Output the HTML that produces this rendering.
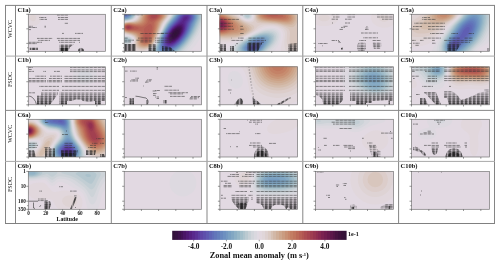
<!DOCTYPE html>
<html><head><meta charset="utf-8"><style>
html,body{margin:0;padding:0;background:#fff;width:500px;height:266px;overflow:hidden;position:relative}
text{font-family:"Liberation Serif",serif;fill:#111}
.lb{font-size:6.5px;font-weight:bold}
.rl{font-size:6px}
.tk{font-size:5.2px;font-weight:bold}
.ax{font-size:5.8px;font-weight:bold}
.ct{font-size:7.3px;font-weight:bold}
.ce{font-size:6.1px;font-weight:bold}
.cl{font-size:8.4px;font-weight:bold}
.st{stroke:#333;stroke-width:0.85;stroke-dasharray:2.3 1.9;stroke-opacity:0.75}
</style></head><body>
<svg width="500" height="266" viewBox="0 0 500 266" style="position:absolute;left:0;top:0">
<defs>
<linearGradient id="gd0" gradientUnits="userSpaceOnUse" x1="0" x2="0" y1="38.3" y2="51.3"><stop offset="0" stop-color="#000" stop-opacity="0"/><stop offset="1" stop-color="#000" stop-opacity="0.2"/></linearGradient>
<linearGradient id="gw0" gradientUnits="userSpaceOnUse" x1="0" x2="0" y1="38.3" y2="51.3"><stop offset="0" stop-color="#fff" stop-opacity="0"/><stop offset="1" stop-color="#fff" stop-opacity="1"/></linearGradient>
<mask id="mg0" maskUnits="userSpaceOnUse" x="0" y="0" width="500" height="266"><rect x="0" y="38.3" width="500" height="13.5" fill="url(#gw0)"/></mask>
<linearGradient id="gd1" gradientUnits="userSpaceOnUse" x1="0" x2="0" y1="91.8" y2="104.8"><stop offset="0" stop-color="#000" stop-opacity="0"/><stop offset="1" stop-color="#000" stop-opacity="0.2"/></linearGradient>
<linearGradient id="gw1" gradientUnits="userSpaceOnUse" x1="0" x2="0" y1="91.8" y2="104.8"><stop offset="0" stop-color="#fff" stop-opacity="0"/><stop offset="1" stop-color="#fff" stop-opacity="1"/></linearGradient>
<mask id="mg1" maskUnits="userSpaceOnUse" x="0" y="0" width="500" height="266"><rect x="0" y="91.8" width="500" height="13.5" fill="url(#gw1)"/></mask>
<linearGradient id="gd2" gradientUnits="userSpaceOnUse" x1="0" x2="0" y1="144.0" y2="157.0"><stop offset="0" stop-color="#000" stop-opacity="0"/><stop offset="1" stop-color="#000" stop-opacity="0.2"/></linearGradient>
<linearGradient id="gw2" gradientUnits="userSpaceOnUse" x1="0" x2="0" y1="144.0" y2="157.0"><stop offset="0" stop-color="#fff" stop-opacity="0"/><stop offset="1" stop-color="#fff" stop-opacity="1"/></linearGradient>
<mask id="mg2" maskUnits="userSpaceOnUse" x="0" y="0" width="500" height="266"><rect x="0" y="144.0" width="500" height="13.5" fill="url(#gw2)"/></mask>
<linearGradient id="gd3" gradientUnits="userSpaceOnUse" x1="0" x2="0" y1="196.3" y2="209.3"><stop offset="0" stop-color="#000" stop-opacity="0"/><stop offset="1" stop-color="#000" stop-opacity="0.2"/></linearGradient>
<linearGradient id="gw3" gradientUnits="userSpaceOnUse" x1="0" x2="0" y1="196.3" y2="209.3"><stop offset="0" stop-color="#fff" stop-opacity="0"/><stop offset="1" stop-color="#fff" stop-opacity="1"/></linearGradient>
<mask id="mg3" maskUnits="userSpaceOnUse" x="0" y="0" width="500" height="266"><rect x="0" y="196.3" width="500" height="13.5" fill="url(#gw3)"/></mask>
<pattern id="sp0" x="28.3" y="0" width="4.1" height="10" patternUnits="userSpaceOnUse"><rect width="3.0" height="10" fill="#333" fill-opacity="0.55"/><rect x="3.0" width="1.1" height="10" fill="#333" fill-opacity="0.2"/></pattern>
<pattern id="hp0" x="28.3" y="0" width="4.1" height="2.4" patternUnits="userSpaceOnUse"><rect width="3.0" height="1.1" fill="#2a2a2a" fill-opacity="0.48"/><rect x="3.0" width="1.1" height="1.1" fill="#2a2a2a" fill-opacity="0.15"/><rect y="1.1" width="2.4" height="1.3" fill="#2a2a2a" fill-opacity="0.14"/><rect x="2.4" y="1.1" width="1.7" height="1.3" fill="#2a2a2a" fill-opacity="0.04"/></pattern>
<pattern id="hc0" x="28.3" y="0" width="4.1" height="2.4" patternUnits="userSpaceOnUse"><rect width="2.4" height="2.4" fill="#111" fill-opacity="0.6"/></pattern>
<pattern id="hd0" x="28.3" y="0" width="4.1" height="2.4" patternUnits="userSpaceOnUse"><rect width="2.4" height="2.4" fill="#1a1a1a" fill-opacity="0.78"/><rect x="2.4" width="1.7" height="2.4" fill="#1a1a1a" fill-opacity="0.3"/></pattern>
<pattern id="sp1" x="124.2" y="0" width="4.1" height="10" patternUnits="userSpaceOnUse"><rect width="3.0" height="10" fill="#333" fill-opacity="0.55"/><rect x="3.0" width="1.1" height="10" fill="#333" fill-opacity="0.2"/></pattern>
<pattern id="hp1" x="124.2" y="0" width="4.1" height="2.4" patternUnits="userSpaceOnUse"><rect width="3.0" height="1.1" fill="#2a2a2a" fill-opacity="0.48"/><rect x="3.0" width="1.1" height="1.1" fill="#2a2a2a" fill-opacity="0.15"/><rect y="1.1" width="2.4" height="1.3" fill="#2a2a2a" fill-opacity="0.14"/><rect x="2.4" y="1.1" width="1.7" height="1.3" fill="#2a2a2a" fill-opacity="0.04"/></pattern>
<pattern id="hc1" x="124.2" y="0" width="4.1" height="2.4" patternUnits="userSpaceOnUse"><rect width="2.4" height="2.4" fill="#111" fill-opacity="0.6"/></pattern>
<pattern id="hd1" x="124.2" y="0" width="4.1" height="2.4" patternUnits="userSpaceOnUse"><rect width="2.4" height="2.4" fill="#1a1a1a" fill-opacity="0.78"/><rect x="2.4" width="1.7" height="2.4" fill="#1a1a1a" fill-opacity="0.3"/></pattern>
<pattern id="sp2" x="219.9" y="0" width="4.1" height="10" patternUnits="userSpaceOnUse"><rect width="3.0" height="10" fill="#333" fill-opacity="0.55"/><rect x="3.0" width="1.1" height="10" fill="#333" fill-opacity="0.2"/></pattern>
<pattern id="hp2" x="219.9" y="0" width="4.1" height="2.4" patternUnits="userSpaceOnUse"><rect width="3.0" height="1.1" fill="#2a2a2a" fill-opacity="0.48"/><rect x="3.0" width="1.1" height="1.1" fill="#2a2a2a" fill-opacity="0.15"/><rect y="1.1" width="2.4" height="1.3" fill="#2a2a2a" fill-opacity="0.14"/><rect x="2.4" y="1.1" width="1.7" height="1.3" fill="#2a2a2a" fill-opacity="0.04"/></pattern>
<pattern id="hc2" x="219.9" y="0" width="4.1" height="2.4" patternUnits="userSpaceOnUse"><rect width="2.4" height="2.4" fill="#111" fill-opacity="0.6"/></pattern>
<pattern id="hd2" x="219.9" y="0" width="4.1" height="2.4" patternUnits="userSpaceOnUse"><rect width="2.4" height="2.4" fill="#1a1a1a" fill-opacity="0.78"/><rect x="2.4" width="1.7" height="2.4" fill="#1a1a1a" fill-opacity="0.3"/></pattern>
<pattern id="sp3" x="315.5" y="0" width="4.1" height="10" patternUnits="userSpaceOnUse"><rect width="3.0" height="10" fill="#333" fill-opacity="0.55"/><rect x="3.0" width="1.1" height="10" fill="#333" fill-opacity="0.2"/></pattern>
<pattern id="hp3" x="315.5" y="0" width="4.1" height="2.4" patternUnits="userSpaceOnUse"><rect width="3.0" height="1.1" fill="#2a2a2a" fill-opacity="0.48"/><rect x="3.0" width="1.1" height="1.1" fill="#2a2a2a" fill-opacity="0.15"/><rect y="1.1" width="2.4" height="1.3" fill="#2a2a2a" fill-opacity="0.14"/><rect x="2.4" y="1.1" width="1.7" height="1.3" fill="#2a2a2a" fill-opacity="0.04"/></pattern>
<pattern id="hc3" x="315.5" y="0" width="4.1" height="2.4" patternUnits="userSpaceOnUse"><rect width="2.4" height="2.4" fill="#111" fill-opacity="0.6"/></pattern>
<pattern id="hd3" x="315.5" y="0" width="4.1" height="2.4" patternUnits="userSpaceOnUse"><rect width="2.4" height="2.4" fill="#1a1a1a" fill-opacity="0.78"/><rect x="2.4" width="1.7" height="2.4" fill="#1a1a1a" fill-opacity="0.3"/></pattern>
<pattern id="sp4" x="411.5" y="0" width="4.1" height="10" patternUnits="userSpaceOnUse"><rect width="3.0" height="10" fill="#333" fill-opacity="0.55"/><rect x="3.0" width="1.1" height="10" fill="#333" fill-opacity="0.2"/></pattern>
<pattern id="hp4" x="411.5" y="0" width="4.1" height="2.4" patternUnits="userSpaceOnUse"><rect width="3.0" height="1.1" fill="#2a2a2a" fill-opacity="0.48"/><rect x="3.0" width="1.1" height="1.1" fill="#2a2a2a" fill-opacity="0.15"/><rect y="1.1" width="2.4" height="1.3" fill="#2a2a2a" fill-opacity="0.14"/><rect x="2.4" y="1.1" width="1.7" height="1.3" fill="#2a2a2a" fill-opacity="0.04"/></pattern>
<pattern id="hc4" x="411.5" y="0" width="4.1" height="2.4" patternUnits="userSpaceOnUse"><rect width="2.4" height="2.4" fill="#111" fill-opacity="0.6"/></pattern>
<pattern id="hd4" x="411.5" y="0" width="4.1" height="2.4" patternUnits="userSpaceOnUse"><rect width="2.4" height="2.4" fill="#1a1a1a" fill-opacity="0.78"/><rect x="2.4" width="1.7" height="2.4" fill="#1a1a1a" fill-opacity="0.3"/></pattern>
</defs>
<clipPath id="c00"><rect x="28.3" y="14.3" width="77.10" height="37.00"/></clipPath>
<rect x="28.3" y="14.3" width="77.10" height="37.00" fill="#e2d9e2"/>
<g clip-path="url(#c00)">
<path d="M27 12.5l.2-.2 11.6 0 1.5 2.3 .8 3-.4 3-.7 1.4-1.1 1.6-2.1 1.6-3 .9-3-.3-1.5-.6-1.5-1-1.5-1.6 0-9.2z" fill="#e1d7dc" fill-rule="evenodd"/>
<path d="M31.6 15.1l.7-.3 1.5 0 1.5 .9 .7 1.1 .1 2.2-.8 1.3-.7 .6-.8 .3-1.5 0-1.3-.6-.9-1.2-.4-1.1 .3-1.5 .8-1.2z" fill="#ded3d4" fill-rule="evenodd"/>
<polygon points="59.6,44.4 74.0,44.4 70.0,47.0 68.0,51.3 59.6,51.3" fill="url(#hp0)"/>
<polygon points="59.6,44.4 74.0,44.4 70.0,47.0 68.0,51.3 59.6,51.3" fill="url(#gd0)"/>
<polygon points="59.6,44.4 74.0,44.4 70.0,47.0 68.0,51.3 59.6,51.3" fill="url(#hc0)" mask="url(#mg0)"/>
<polygon points="29.8,47.8 37.8,47.8 37.8,50.0 29.8,50.0" fill="url(#hd0)"/>
<polygon points="78.0,51.3 78.5,49.0 81.0,47.8 83.5,49.0 84.2,51.3" fill="url(#hd0)"/>
<polygon points="60.0,48.0 68.0,48.0 68.0,51.3 60.0,51.3" fill="url(#hd0)"/>
<rect x="57.0" y="14.5" width="11.0" height="1" fill="url(#sp0)"/>
<rect x="39.0" y="17.0" width="7.2" height="1" fill="url(#sp0)"/>
<rect x="58.0" y="17.0" width="10.0" height="1" fill="url(#sp0)"/>
<rect x="39.5" y="18.9" width="7.5" height="1" fill="url(#sp0)"/>
<rect x="58.0" y="18.9" width="10.0" height="1" fill="url(#sp0)"/>
<rect x="64.5" y="22.8" width="3.5" height="1" fill="url(#sp0)"/>
<rect x="28.5" y="25.8" width="4.5" height="1" fill="url(#sp0)"/>
<rect x="44.0" y="25.8" width="2.0" height="1" fill="url(#sp0)"/>
<rect x="28.5" y="27.0" width="8.5" height="1" fill="url(#sp0)"/>
<rect x="44.5" y="27.0" width="1.0" height="1" fill="url(#sp0)"/>
<rect x="28.5" y="29.1" width="2.5" height="1" fill="url(#sp0)"/>
<rect x="62.0" y="32.9" width="2.0" height="1" fill="url(#sp0)"/>
<rect x="75.0" y="32.9" width="8.0" height="1" fill="url(#sp0)"/>
<rect x="37.0" y="37.9" width="15.5" height="1" fill="url(#sp0)"/>
<rect x="56.7" y="37.9" width="23.3" height="1" fill="url(#sp0)"/>
<rect x="38.2" y="39.9" width="11.8" height="1" fill="url(#sp0)"/>
<rect x="58.0" y="39.9" width="22.0" height="1" fill="url(#sp0)"/>
<rect x="28.5" y="41.8" width="13.5" height="1" fill="url(#sp0)"/>
<rect x="59.0" y="41.8" width="16.0" height="1" fill="url(#sp0)"/>
<rect x="79.0" y="41.8" width="1.0" height="1" fill="url(#sp0)"/>
<rect x="28.5" y="43.1" width="8.5" height="1" fill="url(#sp0)"/>
</g>
<rect x="28.3" y="14.3" width="77.10" height="37.00" fill="none" stroke="#777" stroke-width="0.7"/>
<line x1="26.30" y1="14.30" x2="28.3" y2="14.30" stroke="#444" stroke-width="0.55"/>
<line x1="26.30" y1="28.84" x2="28.3" y2="28.84" stroke="#444" stroke-width="0.55"/>
<line x1="26.30" y1="43.38" x2="28.3" y2="43.38" stroke="#444" stroke-width="0.55"/>
<line x1="27.10" y1="47.75" x2="28.3" y2="47.75" stroke="#444" stroke-width="0.55"/>
<line x1="26.30" y1="51.30" x2="28.3" y2="51.30" stroke="#444" stroke-width="0.55"/>
<line x1="28.30" y1="51.30" x2="28.30" y2="53.00" stroke="#444" stroke-width="0.55"/>
<line x1="45.43" y1="51.30" x2="45.43" y2="53.00" stroke="#444" stroke-width="0.55"/>
<line x1="62.57" y1="51.30" x2="62.57" y2="53.00" stroke="#444" stroke-width="0.55"/>
<line x1="79.70" y1="51.30" x2="79.70" y2="53.00" stroke="#444" stroke-width="0.55"/>
<line x1="96.83" y1="51.30" x2="96.83" y2="53.00" stroke="#444" stroke-width="0.55"/>
<text x="17.4" y="11.70" class="lb">C1a)</text>
<clipPath id="c01"><rect x="124.2" y="14.3" width="77.40" height="37.00"/></clipPath>
<rect x="124.2" y="14.3" width="77.40" height="37.00" fill="#e2d9e2"/>
<g clip-path="url(#c01)">
<path d="M138.7 12.3l31.8 0-.1 .7-.6 2.3-.8 1.5-4.1 5.2-1.5 2.3-4.7 10.5-2.9 7.5-1.7 3-1.9 2.3-3.8 3-4 2.2-11.8 0-3-2.2-.9-1.6-.1-.7 .8-1.5 2.6-2.4 1.4-1.9 .7-1.7 0-1.5-.8-1.5-2.1-1.5-2.2-.8-6.8-1.3 0-11.4 3.8-1.1 6-.9 2.6-1 1.1-.9 1.1-1.3z" fill="#e1d7dc" fill-rule="evenodd"/>
<path d="M139.4 12.3l30.1 0 0 1.5-.7 2.2-1.5 2.3-3 3.7-1.4 2.3-7.2 17.3-2 3.5-2.3 2.5-3 2.1-3 1.4-3.7 .8-3-.2-2.3-.7-2.2-1.2-1.6-1.5-.3-.7 0-1.6 1.9-3.5 .5-1.7-.3-2.2-1.1-1.6-2.9-1.6-6-1.4-2.2-.8 0-10 3.8-1.2 6.7-1 2.8-1.2 2-2.2z" fill="#ded3d4" fill-rule="evenodd"/>
<path d="M140.2 12.4l28.4-.1 .1 .7-.1 1.6-.9 2.2-4.1 5.2-1.3 2.3-6.7 16.5-1.9 3.5-2.3 2.6-2.2 1.6-3 1.4-3 .6-2.2 0-2.3-.4-2.3-1.1-1.8-1.4-.4-.8-.2-1.5 1.2-3.7 .1-1.6-.7-2.2-1.2-1.3-2.2-1.3-6.7-1.7-2.3-1.1 0-8.8 3-1.2 7.5-1 3-1.1 1.5-1.2 .8-1.1z" fill="#dccdca" fill-rule="evenodd"/>
<path d="M141 12.7l.2-.4 26.4 0 .3 1.5-.2 1.5-.6 1.5-4.1 5.2-1.3 2.3-6.5 16.4-1.7 3.1-2.1 2.4-2.2 1.7-2.2 1-3 .7-2.3-.1-2.3-.4-2.2-1.1-1.3-1.2-.5-.8-.2-1.4 .7-3.8-.1-1.5-.5-1.5-1.2-1.5-2.6-1.5-6.3-1.6-3-1.6 0-7.6 3-1.3 8.2-1 3-1.2 1-.7 1.2-1.5z" fill="#d8c6bd" fill-rule="evenodd"/>
<path d="M141.7 12.9l.4-.6 24.5 0 .6 1.5-.1 1.5-.6 1.5-4.1 5.2-1.2 2.1-6.2 15.9-1.5 3-2.1 2.6-2.2 1.6-2.2 1-3 .6-2.3-.2-2.3-.6-1.4-.8-1.2-1.2-.6-1.4 .3-3.8-.3-2.2-.7-1.6-1.3-1.3-3-1.5-6-1.5-1.5-.7-1.5-1.2 0-6.3 .2-.2 1.3-.8 2.3-.8 7.5-.7 2.2-.5 1.5-.7 1.8-1.8z" fill="#d4bdad" fill-rule="evenodd"/>
<path d="M143.2 12.3l22.5 0 .4 .7 .4 1.6-.3 1.4-.9 1.6-3 3.7-1.5 2.3-6.2 16.4-1.6 3-1.6 1.9-2.2 1.7-2.2 1-3 .4-2.3-.2-1.5-.5-1.5-.8-1.1-1.2-.6-1.5-.1-5.2-.6-1.6-1.3-1.4-3-1.7-6.8-1.6-1.5-.8-1.5-1.4 0-5 .8-.8 1.4-.8 2.3-.7 7.5-.5 3.3-1 1.2-.8 1.2-1.5 1.7-4.4z" fill="#d1b4a0" fill-rule="evenodd"/>
<path d="M144 12.5l20.7-.2 .6 .7 .4 1.6-.2 1.4-.8 1.6-3.1 3.7-1.4 2.3-5.8 15.7-1.5 3-1.5 1.9-2.2 1.8-2.2 .9-3 .4-2.3-.3-1.5-.6-1.5-1.1-.5-.7-.4-1.6-.2-3.7-.3-1.5-.8-1.5-.8-.9-3-1.7-7.5-1.9-1.5-.8-1.5-1.8 0-3.5 .8-.9 1.4-1 3-.9 7.6-.3 2.2-.6 2.2-1.2 1.4-1.8 1.6-4.4z" fill="#ceab92" fill-rule="evenodd"/>
<path d="M144.7 12.7l.4-.4 18.6 0 .7 .7 .6 1.6-.2 1.4-.6 1.3-3.4 4-1.3 2.3-2.2 6.7-3.6 9.5-1.3 2.5-1.7 2-1.5 1.1-2.2 .9-2.3 .4-3-.5-1.5-.7-1-.9-.7-1.6-.3-3.7-.5-2.3-1.6-2.2-3.4-1.6-5.2-1-2.3-.8-2.2-1.7-.8-2.1 .1-1 .8-1.6 .9-.7 1.7-.7 2.5-.5 6.8 0 2.2-.5 2.2-.9 1.9-1.9 1.5-4.5 .9-1.5z" fill="#cca186" fill-rule="evenodd"/>
<path d="M145.4 12.9l.8-.6 16.5 0 1.3 1.5 .3 1.5-.9 2.3-3.3 3.7-1.3 2.3-2.1 6.7-3.3 9-1.2 2.4-1.5 1.9-1.5 1.2-2.2 .9-2.3 .3-3-.6-2-1.6-.5-1.5-.7-5.3-1.4-2.2-1.4-1-2.3-.9-6-1.1-2.2-.7-1.9-1.5-.4-.8-.3-1.5 .4-1.5 .6-.8 2.4-1.3 2.2-.3 7.5 0 3-.6 1.7-.8 1.5-1.4 1.7-5.3z" fill="#c99679" fill-rule="evenodd"/>
<path d="M147 12.5l.4-.2 14.2 0 1.6 1.5 .4 1.5-.9 2.3-3.4 3.7-1 1.5-2.2 7.5-3.3 9-1.1 2.3-1.2 1.4-2.1 1.5-1.4 .6-2.3 .3-1.5-.2-1.5-.6-1.4-1.6-.5-1.4-.8-5.3-.8-1.5-.8-.8-1.7-.9-2.3-.8-5.2-.7-2.2-.6-2.2-1.4-.5-.8-.3-1.5 .4-1.5 .6-.8 1.2-.7 1.5-.5 2.3-.2 6.7 .3 3-.4 2.3-.8 .9-.7 1.1-1.4 1.1-4.6 .7-1.4z" fill="#c78c6f" fill-rule="evenodd"/>
<path d="M147.7 12.8l.9-.5 11.8 0 1.9 1.5 .5 1.5-.9 2.3-3.4 3.7-1 1.5-2 7.5-4.1 10.6-1.4 1.9-1.6 1.1-1.7 .7-2 .1-2.3-.6-1.4-1.5-.6-1.8-.5-4.5-.6-1.5-.6-.8-1.5-1-2.2-.8-6.8-.9-2.2-.6-1.7-1.1-.6-.9-.4-1.4 .4-1.3 .7-.9 2.3-1.1 2.3-.2 7.4 .5 3-.3 2.3-.7 1.5-1.2 .6-.8 1.4-6 1.1-1.5z" fill="#c48267" fill-rule="evenodd"/>
<path d="M148.4 13l1.7-.7 8.9 0 2.4 1.5 .5 .8 .1 1.4-.8 1.6-3.7 3.7-1 1.5-1.5 6.8-3.2 9-1 2.2-1.2 1.5-1.2 .9-1.4 .6-2.3 .2-1.5-.5-1.5-1.3-.6-2.2-.4-4.4-.6-1.6-.7-.7-1.4-.8-3-.9-8.3-1-1.5-.7-.8-.7-.7-1.9 .5-1.5 .8-.8 2.4-.8 2.3-.1 6.7 .8 3.8-.2 2.2-.7 1.7-1.2 .9-1.5 .5-4.5 .6-1.5 1.2-1.5z" fill="#c17960" fill-rule="evenodd"/>
<path d="M150 12.9l2.1-.6 5.3 .1 1.9 .6 1.2 .8 .5 .8 .2 1.4-.8 1.6-4 3.7-1 1.5-1.2 6.8-3.1 9-1.1 2.2-.8 .9-1.5 1-1.5 .5-1.5 0-1.5-.7-.8-.9-.5-2.3-.2-4.5-.7-1.5-.7-.7-1.6-.8-3-.7-6.7-.4-2.3-.4-1.4-.7-.7-.8-.5-1.5 .4-1.1 .7-.9 2.2-.9 2.3 0 4.5 .9 4.5 .3 3-.2 1.5-.5 1.9-1.3 1-1.6 .3-1.4 0-3.8 .5-1.5 1.4-1.5z" fill="#be6f5b" fill-rule="evenodd"/>
<path d="M151.4 13l3-.4 3.4 .4 1.5 .8 .8 .8 .2 1.4-.8 1.6-4.4 3.7-1.2 1.5-.3 1.5-.1 3.7-.5 2.4-3.1 8.9-1 1.5-1.2 1-2.3 .5-1.4-.6-.8-.9-.3-1.5 0-5.3-.5-1.4-1.4-1.4-1.6-.5-4.4-.4-6.8 0-2.2-.7-.9-.8-.5-.8 0-1.4 1.4-1.4 1.4-.5 2.3 0 5.3 1.2 6 .9 1.4-.1 1.6-.6 2.3-1.8 1.5-2.3 0-1.4-.5-3 .6-2.3 1.6-1.5z" fill="#b96456" fill-rule="evenodd"/>
<path d="M151.4 13.6l3-.5 3 .5 1.6 1 .4 .7 0 .7-.9 1.6-2.5 1.9-3.8 2.1-.8 .2-.7-.2-.7-.7-1.2-1.9-.5-2.2 .9-1.8zM150 24l.7 .1 .7 .7 .4 1 .4 1.5-.3 2.3-3.2 9.7-1.6 1.5-1.7 .1-.7-.5-.5-1.1 .5-5.3-.8-4.4 .2-.8 1.4-1.5 2.9-2.4zM127.4 25l2.4 0 7.4 2.3 1.4 .7 0 .8-2.2 .6-6.7 .6-3-.4-1.1-.8-.7-1.5 .2-.7 .5-.8z" fill="#b55b53" fill-rule="evenodd"/>
<path d="M153.7 13.7l2.3 .1 1.4 .6 .9 .9 0 .7-1 1.6-2.1 1.3-2.2 .7-1.6-.1-1.4-1.2-.5-1.5 .1-.8 1.4-1.4zM126.7 25.6l2.3-.3 2.1 .5 2.6 1.5 .4 .7-.9 .8-2.8 .7-3-.1-1.4-.8-.6-1.3 .2-.7zM148.4 29.3l.6 .3-.6 1-.2-.3z" fill="#af5251" fill-rule="evenodd"/>
<path d="M153.7 14.5l2.3 .3 .8 .5 .2 .7-.4 .8-1.4 1-1.5 .4-1.5-.1-.9-.5-.3-.8 .1-.8 .6-.7zM127.4 25.7l2.3 .1 1.5 .7 .9 .8 0 .7-1 .8-1.4 .3-1.5 .1-1.2-.4-.9-.8-.2-.7 .2-.7z" fill="#a94950" fill-rule="evenodd"/>
<path d="M127.5 26.2l1.5-.1 1.2 .5 .7 .7-.2 .7-1.7 .7-1.6-.2-.6-.5-.3-.7 .3-.7z" fill="#a24050" fill-rule="evenodd"/>
<path d="M127.4 27.3l.8-.5 1.3 .5-.5 .6-.8 .1z" fill="#9b3850" fill-rule="evenodd"/>
<path d="M123 12.3l14.8 0-1.3 4.5-1 1.5-1.3 1.1-2.6 1.2-6.4 1-3 .8 0-10.1zM171.7 12.3l31.5 0 0 21.2-1.2 2.1-6 9-6.9 8.2-42 0 5.1-4.5 2.8-3.7 8.6-19.6 1.9-3 4.1-5.2 1.1-2.2 .7-2.3zM123 35.2l6 .8 3 1.3 1.1 1.3 .5 1.4-.4 1.6-.5 .9-1.5 1.5-3 1.5-3 .6-3-.1 0-10.9z" fill="#ddd9e0" fill-rule="evenodd"/>
<path d="M123 12.3l14 0-.9 3.7-.8 1.6-1.4 1.4-1.3 .8-2.2 .7-8.2 1.5 0-9.7zM172.4 12.3l30.8 0 0 12.9-4.7 9.6-6.1 9-3.7 4.5-4.3 4.5-35.5 0 4.1-4.5 2.2-3.2 1.5-3 3.2-8.1 3.8-8.2 1.8-3 4.7-6zM123 36l4.5 .2 2.2 .5 1.5 .8 1.2 1.1 .4 .7 0 1.5-.3 .8-.5 .8-1.6 1.2-2.2 .9-3 .3-3-.4 0-8.4z" fill="#d6d7dd" fill-rule="evenodd"/>
<path d="M123 12.3l13.3 0-.8 3.7-.8 1.6-1.7 1.5-2.6 1-8.2 1.5 0-9.3zM173.2 12.4l30-.1 0 7.7-3.4 8-3 6-2.8 4.6-3.8 5.2-3.9 4.5-4.5 4.5-31.5 0 4.1-5.6 1.6-2.6 4.3-10.6 4.3-9 1.8-2.7 4.4-5.5zM123 36.7l3.7-.1 2.3 .4 1.4 .6 1.2 1 .5 .7 .1 .7-.2 1.2-1.6 1.6-2.2 .9-3 .2-3-.6 0-6.4z" fill="#cdd3d8" fill-rule="evenodd"/>
<path d="M123 12.3l12.6 0-.1 1.5-1 3-1.1 1.3-1.2 .9-3.2 1.1-6.8 1.1 0-8.9zM174 12.6l.1-.3 28 0 .5 3-.5 3.7-3.8 9-3 6-2.8 4.6-3.9 5.2-4.2 4.7-4.5 4.3-28.3 0 4.9-8.2 3.8-9.8 4.4-9 1.9-3 4.3-5.3zM123 37.6l3-.5 3.6 .7 1.1 .8 .6 .7 .1 1.5-1.5 1.5-1.7 .7-3 .1-2.2-.5-.8-.4 0-4.3z" fill="#c2ced4" fill-rule="evenodd"/>
<path d="M123 12.3l11.9 0 0 1.5-.3 1.5-.7 1.5-1.2 1.3-1.4 .9-3.1 1-6 .8 0-8.5zM174.7 12.7l.3-.4 25.7 0 .7 3-.5 3.7-4.2 9.8-2.2 4.5-3.8 6-3.4 4.5-4.3 4.8-4.7 4.2-25.5 0 3.9-7.8 4-10.2 4.1-8.2 1.8-3 4.9-6zM125.2 37.8l2.2 0 2.3 .8 .7 .7 .2 .7-.1 .8-.8 .8-2.2 .8-2.3 0-2.2-.8-.7-.8-.1-1.5 .8-.7z" fill="#b5c7cf" fill-rule="evenodd"/>
<path d="M123 12.3l11.3 0-.1 2.3-.5 1.4-1 1.4-2.3 1.6-3 .8-5.2 .6 0-8.1zM175.4 12.8l.5-.5 23.5 0 .9 3-.2 3-1.1 3-5.1 11.3-3.7 6-4 5.2-4.8 5-4.5 4-23 0 .7-2.2 3.1-6.8 3.1-8.2 3.6-7.5 2.8-4.5 4.3-5.3zM125.2 38.5l2.2 0 1.6 .6 .6 .9-.3 .8-1.8 .9-1.5 0-1.5-.5-.6-.4-.4-.8 .3-.7z" fill="#a9c1cb" fill-rule="evenodd"/>
<path d="M123 12.3l10.6 0 0 2.3-1 2.2-2.2 1.7-3.7 1.1-4.5 .4 0-7.7zM176.2 12.8l.5-.5 21.6 0 1.1 3-.2 3-6.2 14.3-3.7 6-4.1 5.2-4.5 4.7-5.2 4.3-20.5 0 .7-3 4.8-12.8 3.7-7.7 3-5zM126 39.9l.7-.3 1 .4-1 .5-.7-.3z" fill="#9dbac8" fill-rule="evenodd"/>
<path d="M123 12.3l10 0 0 2.3-1.1 2.2-1.9 1.5-3.3 1-4.5 .3 0-7.3zM177 12.8l.5-.5 19.8 0 .9 1.5 .4 1.5-.2 3-6.2 14.3-3.7 6-4.2 5.2-5.1 5.2-5 3.8-18.2 0 .7-3.8 3.6-10.4 3.8-8.3 3.6-6z" fill="#92b3c6" fill-rule="evenodd"/>
<path d="M123 12.3l9.4 0 .1 2.3-1.2 2.2-2.3 1.5-3 .8-3.8 .1 0-6.9zM177.7 12.8l.7-.5 18 0 .5 .7 .9 2.3-.1 3-6.3 14.3-3.7 6-4.2 5.2-5.1 5-5.5 4-15.7 0-.1-2.2 .7-3 3.2-9.8 2.7-6 4.3-7.2z" fill="#87abc4" fill-rule="evenodd"/>
<path d="M123 12.3l8.7 0 .2 2.3-.7 1.4-.6 .8-1.6 1.1-3 .8-3.8 0 0-6.4zM178.4 12.9l.8-.6 16.2 0 .7 .7 1 2.3-.1 3-5.9 13.5-3 5.2-4.4 5.8-4.5 4.5-5.2 4.1-2.4 1.4-13.2 0-.5-2.2 .6-3.8 2.6-8.2 2.6-6 4.4-7.6 8.6-10.4z" fill="#7ea4c3" fill-rule="evenodd"/>
<path d="M123 12.3l8.1 0 .2 2.3-.9 1.6-2.2 1.6-3 .6-3-.1 0-6zM179.2 12.9l.9-.6 14.4 0 1.3 1.5 .8 2.2-.3 2.3-5.5 12.7-2.9 5.3-3.9 5.3-4.8 5-4.5 3.6-4.6 2.6-10.4 0-.9-2.2 .3-3.8 2.1-7.5 2.5-6 2.4-4.5 2.6-3.8 8.3-10z" fill="#769cc1" fill-rule="evenodd"/>
<path d="M123 12.3l7.4 0 .3 .8 0 1.5-1 1.6-2.1 1.4-3.2 .5-2.2-.3 0-5.5zM179.9 12.9l1-.6 12.6 0 .9 .8 1.1 1.5 .4 1.4-.2 2.3-2.8 6-2.7 6.7-2.9 5.3-3.3 4.5-4 4.4-3.8 3.2-3.8 2.5-4.2 1.9-6.7 0-1.1-.9-.7-1.3-.1-3 1.5-6.8 2.3-6 2.7-5.2 2.6-4 8.6-10.3z" fill="#7094c0" fill-rule="evenodd"/>
<path d="M123 12.3l6.7 0 .3 .7 0 1.6-.9 1.4-1.6 1.1-3 .5-2.3-.4 0-4.9zM180.7 12.9l1.2-.6 10.6 0 1.1 .7 1.2 1.6 .5 1.5-.2 2.2-2.8 6-2.7 6.7-2.4 4.6-3.2 4.4-3.3 3.7-3.7 3.4-4.6 3.1-3.7 1.7-3 .7-3-.4-1.4-.9-.5-.7-.5-1.5-.1-1.5 1.1-6 2.4-6.8 2.7-5.1 3-4.4 4.9-5.5 3.6-4.5z" fill="#6b8cbf" fill-rule="evenodd"/>
<path d="M123 12.3l5.9 0 .4 .7 0 1.6-1 1.4-1.6 .9-2.2 .3-1.9-.4-.4-.2 0-4.3zM181.4 13l1.6-.7 8.4 0 2 1.4 1.1 1.6 .2 1.5-.4 2.3-2.7 5.2-2.9 7.5-2.6 4.5-2.7 3.7-3.4 3.8-3.8 3.3-3.8 2.5-3.7 1.6-3 .6-2.7-.5-1-.8-.8-1.3-.3-3.2 1.2-6 2.4-6 2.4-4.4 2.7-3.8 5.3-6 3.6-4.5z" fill="#6683bd" fill-rule="evenodd"/>
<path d="M123 12.3l4.9 0 .6 .7 0 1.6-.4 .7-1.4 1-2.2 .3-1.5-.3-.8-.4 0-3.6zM183 12.7l1.4-.4 5.6 0 1.8 .7 1 .8 .6 .8 .7 1.4 0 1.6-.4 1.4-2.5 4.8-3.4 8.8-2.7 4.4-2.9 3.7-3 3.2-3.8 3.1-3.7 2.3-3 1.2-3 .5-2.3-.6-.8-.6-.8-1.5-.3-1.5 .1-2.2 1.2-5.3 2.4-6 2-3.5 2.2-3.2 6.1-6.8 2.9-3.8 2.3-2.1z" fill="#637abb" fill-rule="evenodd"/>
<path d="M123 12.5l3.6-.2 .9 .7 .2 .8-.1 .8-.9 .9-1.5 .5-2.2-.5-.8-.8 0-1.4zM183.7 12.9l3-.5 3 .3 2.3 1.1 .7 .8 .8 1.4 0 1.6-.4 1.4-2.4 4.6-2.2 6-1.7 3.7-2.3 3.8-2.9 3.7-3.1 3.2-3.1 2.4-3 1.9-3 1.3-3 .6-2.2-.5-.9-.7-.9-1.4-.3-3 1.3-6 2.3-5.5 3.7-5.9 6.1-6.6 3.5-4.6 2.4-2.1z" fill="#6171b9" fill-rule="evenodd"/>
<path d="M124.4 12.9l1.6 .3 .4 .6-.3 .8-.9 .4-1.6-.4-.2-.8zM185.2 12.9l3-.1 2.2 .7 1.6 1.1 .5 .7 .5 1.5-.5 2.2-2.5 4.6-2.3 6.7-1.8 3.7-2.5 3.8-2.4 3-2.6 2.6-3 2.4-3 1.9-3 1.3-2.2 .4-2.3-.4-1.6-1.4-.5-1.6-.1-2.2 1.1-5.2 2.6-6.1 3.8-5.7 5.9-6.2 3.9-4.9 2.2-1.7z" fill="#6068b6" fill-rule="evenodd"/>
<path d="M183.7 13.8l3-.6 3 .5 1.5 .9 .7 .7 .5 1.5-.5 2.2-2.5 4.6-2 6-1.6 3.7-2.4 3.7-2.3 3-2.7 2.8-3 2.4-3 1.9-3 1.2-2.2 .3-2.2-.6-.8-.6-.7-1.4-.2-1.4 .1-2.3 1.1-4.5 2.3-5.2 3.5-5.3 6.5-6.7 3.4-4.6 1.9-1.4z" fill="#5f5eb3" fill-rule="evenodd"/>
<path d="M185.2 13.8l2.2-.2 2.3 .6 1.4 1.1 .6 1.5-.5 2.2-2.5 4.6-2.1 6.7-1.8 3.7-1.9 3-2.4 3-2.8 2.8-3 2.4-3 1.7-2.3 .8-2.2 .2-1.5-.5-.8-.6-.8-1.5-.2-1.5 .1-2.2 1.1-4.6 2.6-5.2 3.3-4.7 6.5-6.5 3.4-4.6 2.1-1.4z" fill="#5e54ae" fill-rule="evenodd"/>
<path d="M184.4 14.4l2.3-.3 2.4 .5 1.2 .7 .5 .7 .2 1.6-.4 1.4-2.6 4.6-1.6 6-2.1 4.4-3.7 5.3-2.2 2.3-3 2.5-3 1.8-2.2 .9-2.2 .3-1.6-.3-.7-.5-.8-1-.4-1.5 0-2.2 1.1-4.6 2.1-4.4 3.3-4.9 6.5-6.4 3.4-4.5 1.7-1.5z" fill="#5e4ba9" fill-rule="evenodd"/>
<path d="M183.7 15.3l2.3-.7 2.2 .2 1 .5 .8 .7 .3 1.6-.5 1.4-2.5 4.6-1.5 6-1.6 3.7-3.5 5.3-2.3 2.3-3 2.6-2.2 1.4-2.2 1-2.3 .5-1.7-.4-1.1-.7-.4-.7-.4-1.6-.1-1.4 .8-3.8 1.9-4.5 1.8-3 2.2-2.8 6.6-6.2 3.4-4.5z" fill="#5d41a3" fill-rule="evenodd"/>
<path d="M186 15.2l1.6 .1 1.4 .7 .4 .8 .1 .8-.5 1.4-2.3 3.8-1.5 6.8-.8 2.2-1.6 3-3.6 4.7-4.5 3.9-2.3 1.3-2.2 .8-1.5 .1-1.5-.4-.8-.7-.6-1.5-.1-3 1-3.7 2.3-4.5 3.4-4.5 6.8-6 3.4-4.5 1.8-1.2z" fill="#5c379c" fill-rule="evenodd"/>
<path d="M185.2 16l2.3 0 .9 .8 .2 .8-.5 1.4-1.7 2.3-.7 1.5-1 6.8-.8 2.2-1.6 3-3.5 4.5-4.1 3.5-3.7 1.8-1.6 .2-1.4-.3-.8-.5-.6-1-.4-1.4 .1-1.6 .9-3.7 2.2-4.5 3.8-4.7 7.2-5.8 2.6-3.8 .7-.7z" fill="#5a2d92" fill-rule="evenodd"/>
<path d="M184.4 17.5l1.6-.6 .7 .3 .4 .4 0 .7-.4 .7-2.1 2.3-.3 .7 .2 4.6-.3 2.2-.9 3-1.6 3-3.3 4.2-3.7 3.2-3.8 1.7-1.5 .1-1.4-.6-.8-1-.3-.8 .1-3 1-3 2-3.8 2.2-3 2.5-2.4 7.5-5.1 .6-.7 .9-2.3z" fill="#572487" fill-rule="evenodd"/>
<path d="M181.4 23.5l.8 .2 .8 .6 .5 1.5 .1 2.2-.9 3.8-2 3.7-3 3.6-3.7 2.9-3 1.1-1.6 0-.7-.4-.7-.8-.4-1.1 0-2.2 1.1-3.6 1.8-3.2 2.3-3 2.6-2.4 3-1.9z" fill="#531d7a" fill-rule="evenodd"/>
<path d="M180 24.9l1.4 .2 .8 .6 .7 2.3-.5 3-1.7 3.6-3 3.8-3 2.5-3 1.3-1.5 .1-.8-.3-.9-1.2-.3-2.2 .8-3 1.6-3 1.8-2.6 2.3-2.3 3-2z" fill="#4d176d" fill-rule="evenodd"/>
<path d="M177.7 26.5l2.3-.4 1.2 .5 .5 .7 .3 2.3-1.2 3.7-2.4 3.5-3 2.8-3 1.6-1.4 .2-.8-.2-1-1.2-.2-1.4 .4-2.3 .9-2.3 1.4-2.3 1.8-2.1 1.9-1.7z" fill="#46145e" fill-rule="evenodd"/>
<path d="M178.4 27.2l1.6 .1 .7 .7 .3 .8-.1 2.3-1.2 2.9-2 2.8-2.3 2-2.2 1.3-1.5 .3-.7-.2-1-.9-.2-1.5 .5-2.2 1-2.3 1.6-2.3 1.8-1.7 1.7-1.3z" fill="#3f1251" fill-rule="evenodd"/>
<path d="M177 28.7l1.4-.3 .8 .2 .8 .9 0 1.6-.7 2.2-1.6 2.5-2.3 2.1-2.2 1.2-1.5 0-.7-.8-.2-1.3 .9-3 2.3-3.1 1.4-1.3z" fill="#391146" fill-rule="evenodd"/>
<path d="M176.2 30.2l1.5-.3 .8 .4 .2 1.5-.4 1.5-1.3 2.1-1.6 1.4-1.4 .8-.8 .2-.8-.3-.4-1.2 .6-2.3 1.6-2.2z" fill="#34113e" fill-rule="evenodd"/>
<path d="M175.4 32.5l.8-.3 .5 .4-.1 .7-.9 1.5-1 .6-.7-.4 0-.3 .6-1.4z" fill="#301437" fill-rule="evenodd"/>
<polygon points="148.0,44.0 156.0,44.0 156.0,51.3 148.0,51.3" fill="url(#hp1)"/>
<polygon points="148.0,44.0 156.0,44.0 156.0,51.3 148.0,51.3" fill="url(#gd0)"/>
<polygon points="148.0,44.0 156.0,44.0 156.0,51.3 148.0,51.3" fill="url(#hc1)" mask="url(#mg0)"/>
<polygon points="162.0,46.0 170.0,47.0 175.0,51.3 162.0,51.3" fill="url(#hp1)"/>
<polygon points="162.0,46.0 170.0,47.0 175.0,51.3 162.0,51.3" fill="url(#gd0)"/>
<polygon points="162.0,46.0 170.0,47.0 175.0,51.3 162.0,51.3" fill="url(#hc1)" mask="url(#mg0)"/>
<polygon points="124.2,44.0 136.0,44.0 136.0,51.3 124.2,51.3" fill="url(#hd1)"/>
<rect x="124.0" y="14.3" width="19.0" height="1" fill="url(#sp1)"/>
<rect x="140.0" y="33.0" width="24.0" height="1" fill="url(#sp1)"/>
<rect x="124.0" y="37.6" width="4.0" height="1" fill="url(#sp1)"/>
<rect x="138.0" y="37.6" width="14.0" height="1" fill="url(#sp1)"/>
<rect x="124.0" y="39.7" width="10.0" height="1" fill="url(#sp1)"/>
<rect x="136.0" y="39.7" width="16.0" height="1" fill="url(#sp1)"/>
<rect x="124.0" y="41.4" width="7.0" height="1" fill="url(#sp1)"/>
<rect x="140.0" y="41.4" width="12.0" height="1" fill="url(#sp1)"/>
<rect x="160.0" y="32.8" width="12.0" height="1" fill="url(#sp1)"/>
<rect x="155.0" y="37.6" width="17.0" height="1" fill="url(#sp1)"/>
<rect x="155.0" y="39.8" width="17.0" height="1" fill="url(#sp1)"/>
<rect x="155.0" y="41.7" width="16.0" height="1" fill="url(#sp1)"/>
</g>
<rect x="124.2" y="14.3" width="77.40" height="37.00" fill="none" stroke="#777" stroke-width="0.7"/>
<line x1="122.20" y1="14.30" x2="124.2" y2="14.30" stroke="#444" stroke-width="0.55"/>
<line x1="122.20" y1="28.84" x2="124.2" y2="28.84" stroke="#444" stroke-width="0.55"/>
<line x1="122.20" y1="43.38" x2="124.2" y2="43.38" stroke="#444" stroke-width="0.55"/>
<line x1="123.00" y1="47.75" x2="124.2" y2="47.75" stroke="#444" stroke-width="0.55"/>
<line x1="122.20" y1="51.30" x2="124.2" y2="51.30" stroke="#444" stroke-width="0.55"/>
<line x1="124.20" y1="51.30" x2="124.20" y2="53.00" stroke="#444" stroke-width="0.55"/>
<line x1="141.40" y1="51.30" x2="141.40" y2="53.00" stroke="#444" stroke-width="0.55"/>
<line x1="158.60" y1="51.30" x2="158.60" y2="53.00" stroke="#444" stroke-width="0.55"/>
<line x1="175.80" y1="51.30" x2="175.80" y2="53.00" stroke="#444" stroke-width="0.55"/>
<line x1="193.00" y1="51.30" x2="193.00" y2="53.00" stroke="#444" stroke-width="0.55"/>
<text x="113.2" y="11.70" class="lb">C2a)</text>
<clipPath id="c02"><rect x="219.9" y="14.3" width="77.70" height="37.00"/></clipPath>
<rect x="219.9" y="14.3" width="77.70" height="37.00" fill="#e2d9e2"/>
<g clip-path="url(#c02)">
<path d="M218.6 12.3l20.7 0 .7 3 .9 1.5 1.4 1.5 3.3 1.9 3.1 .6 1.5-.2 1.4-.7 1.3-1.6 .4-1.5-.1-1.5-1.1-3 46.8 0 0 40.5-17.9 0-.4-3.8 2.3-12 .1-2.2-.3-2.2-1.3-2.3-1.8-1.5-3.2-1.5-3.8-.7-5.2 .1-4.5 1-17.3 9.2-6.7 2.9-7.5 2.7-7.5 1.8-3 .1-3-.2 0-31.9z" fill="#e1d7dc" fill-rule="evenodd"/>
<path d="M218.6 12.3l17.3 0 1.5 1.1 3.1 4.2 2.1 1.8 3 1.5 3.8 .6 2.2-.5 .8-.4 1.1-1.6 .4-3-.9-3.7 45.9 0 0 40.5-11.1 0-.7-.8-1.9-3-.8-3-.1-3.7 .7-7.5-.2-2.2-.6-1.5-1.1-1.5-2.2-1.7-3.2-1.3-3.5-.9-6.8-.2-3 .3-2.2 .6-2.3 1.1-6 4.3-5.3 3-6.7 3-6 2.1-5.2 1.2-4.5 .5-4.6 0-3.7-.5 0-28.8z" fill="#ded3d4" fill-rule="evenodd"/>
<path d="M218.6 12.3l12.4 0 4.9 2.1 5.2 4.6 2.3 1.5 3 1.3 3.8 .7 2.6-.5 .8-.7 .5-.7 .5-3.8-.7-4.5 44.9 0 .1 35.9-2.3 1.8-2.2 .6-2.2-.3-2.3-1.4-1.7-2.1-1.2-3-.3-3 .4-7.5-.2-1.5-.6-1.5-2.4-2.3-3-1.4-3.7-1.2-3.8-.7-9-.1-3 .2-2.2 .6-1.5 1.2-3.3 3.7-3.1 2.3-7.1 3.6-6.8 2.3-4.5 1-5.3 .5-5.2 0-4.5-.6 0-27.1z" fill="#dccdca" fill-rule="evenodd"/>
<path d="M218.6 12.3l8.9 0 6.9 2.9 2.2 1.2 4.4 3.4 3.2 1.9 8.8 3.3 1.1 1.6 .2 .7-.5 1.5-1.9 2.2-3.3 2.3-4.6 2.3-5.1 1.7-4.5 .9-6 .5-6 0-4.5-.5 0-25.9zM255.4 12.3l41.3 0 1.2 1.5 1 2 0 6.7-1.2 4.1-.2 2.2 .1 1.5 1.3 4.5 0 6-1.5 3.2-1.5 1.3-2.3 .5-1.4-.5-1.5-1.5-.8-1.7-.4-2.1 .5-6.7-.3-2.3-.9-1.4-.8-.8-2.5-1.5-3.9-1.6-5.3-1.4-5.1-.6-10.6-.4-2.2-.4-1.5-.5-.9-1.1-.5-1.5-.7-7.5z" fill="#d8c6bd" fill-rule="evenodd"/>
<path d="M218.6 12.3l6 0 3.8 1.4 6.8 3.1 7.4 5 7.4 4 1.5 1.5 .2 .7-.2 1.6-1.2 1.5-3.2 2.2-4.5 2-4.4 1.4-4.6 .6-8.2 .4-4.5-.1-3-.4 0-24.9zM256.2 12.3l38.7 0 1.4 1.5 1.1 2.2 .4 1.6-.1 2.2-.9 3-1.4 2.3-1.8 1.6-1.4 .6-3-.3-9-2.7-3.8-.7-15-1.4-3-1-1.6-1.4-.6-1.9-.5-3.3 0-2.3z" fill="#d4bdad" fill-rule="evenodd"/>
<path d="M218.6 12.4l3 .1 3.8 .9 10.5 5 12.1 8.2 1.4 1.7 .1 1.3-.4 .7-1.4 1.5-2.3 1.5-3.5 1.5-3.7 1-4.5 .6-9.8 .4-3 0-3-.5 0-23.8zM256.9 12.3l36.3 0 1.6 1.5 .9 1.5 .5 1.5 .1 2.2-.7 2.3-1.6 2.3-1.8 1.2-2.3 .5-3.7-.4-10.1-2.1-13.2-1.3-3.3-.9-2-1.6-.7-1.4-.4-2.3 0-2.3z" fill="#d1b4a0" fill-rule="evenodd"/>
<path d="M257.6 12.5l.2-.2 33.8 0 1.7 1.5 1.1 1.5 .5 1.5 0 2.2-.5 1.6-1.5 1.8-1.5 1-2.2 .5-3 0-9.8-1.7-12-1.2-3.8-1-2.2-1.6-.8-1.3-.4-1.8 0-1.5zM218.6 13.1l3 .1 3.8 1 3.8 1.6 7.3 4 5.3 3.8 4.4 3.7 1 1.5-.1 1.5-1.3 1.5-2.4 1.5-5.2 1.6-14.3 1.1-3 0-3-.5 0-22.3z" fill="#ceab92" fill-rule="evenodd"/>
<path d="M259.2 12.3l30.7 0 2 1.5 1.2 1.5 .6 1.5 0 1.5-.5 1.5-1.1 1.5-2.2 1.2-2.3 .4-3-.1-8.2-1.2-11.2-1.2-3.8-1-1.5-.8-1-1-.7-1.6-.2-1.4 .4-1.6zM218.6 13.8l3 .1 3.8 1 4.5 2.2 7.1 4.2 3.8 3 3.5 3.7 .6 1.6-.5 1.4-2.5 1.7-4.8 1.3-13.9 1.3-3-.1-2.3-.3 0-21z" fill="#cca186" fill-rule="evenodd"/>
<path d="M259.9 12.7l.4-.4 27.8 0 2.4 1.5 1.3 1.5 .6 1.5 0 1.5-.7 1.5-1.1 1-1.4 .8-2.3 .4-3-.1-18-2-3.7-1-2.3-1.5-.9-2.1 .1-1.5zM218.6 14.4l3 .1 3.8 1 3.8 1.9 4.9 3.2 3.1 2.2 2.2 2.2 2.5 3.8 0 1.6-1.6 1.4-3.6 1-12.8 1.8-3 .1-3-.5 0-19.7z" fill="#c99679" fill-rule="evenodd"/>
<path d="M261.4 12.6l.4-.3 24.3 0 2.3 1.1 1.5 1.2 1 1.4 .2 1.6-.5 1.3-.7 .9-1.5 .8-2.2 .5-3.8-.1-15.8-1.6-3.9-1.1-2.1-1.5-.4-.8-.2-1.4 .6-1.3zM218.6 15l3.1 0 3.7 1.2 3.9 2.1 4.3 3 2.5 2.3 1.6 2.2 .8 2.3 .1 .7-.4 1.1-.8 .7-1.5 .6-9.7 2.4-4.6 .5-3.7-.5 0-18.5z" fill="#c78c6f" fill-rule="evenodd"/>
<path d="M262.9 12.7l.7-.4 20 0 2.6 .9 2.2 1.4 1.1 1.4 .1 1.6-.9 1.4-1.1 .7-3 .6-17.2-1.4-3.8-1.1-1.4-.9-.8-.9-.2-.7 .2-1.2zM218.6 15.5l3 .1 3.1 .8 3 1.6 3.5 2.6 2.5 2.2 1.6 2.2 .5 2.3-.5 1.5-1.7 1.4-1.8 .8-5.6 1.9-4.6 .6-3.7-.4 0-17.5z" fill="#c48267" fill-rule="evenodd"/>
<path d="M264.4 12.9l1.5-.6 14.4 0 5.1 1.5 2 1.5 .7 1.5-.2 .8-1 1-.9 .4-2.1 .4-8.3-.4-7.4-.6-3.1-.8-1.4-.8-.8-.8-.3-.7 0-.7 .5-.8zM218.6 16l3 .1 2.5 .7 3 1.5 3 2.3 2.2 2.2 1.3 2.2 .1 2.3-.9 1.5-2.9 1.9-4.5 1.7-3.8 .6-3.7-.5 0-16.3z" fill="#c17960" fill-rule="evenodd"/>
<path d="M266.6 12.9l3.3-.6 5 0 5.3 .7 4.3 1.6 1 .7 .5 .7 .1 .8-.5 .8-1 .5-2.2 .4-8.2-.2-6-.7-2.5-.8-1.1-.8-.4-.7 .1-.7 .6-.8zM218.6 16.6l2.3-.1 3 .8 3.3 1.7 2.7 2.3 1.7 2.3 .6 1.4-.2 2.3-1.1 1.5-2.5 1.8-3.8 1.4-3.7 .4-3-.4 0-15.3z" fill="#be6f5b" fill-rule="evenodd"/>
<path d="M271.2 13l3.7 .1 4.4 .7 2.3 .8 1.2 .7 .5 .7-.3 .8-.6 .3-2.8 .5-6.2-.1-4.8-.7-1.7-.8-.6-.7 .1-.7 1.8-1.1zM218.6 17.1l2.3-.1 3 .8 2.3 1.2 2.7 2.3 1.6 2.3 .5 1.4-.4 2.3-1.1 1.5-2.6 1.7-3 1.1-3 .3-3-.4 0-14.3z" fill="#b96456" fill-rule="evenodd"/>
<path d="M270.4 14.4l3.8-.2 2.3 .4 1.6 .7-.5 .7-.4 .1-5.3 .1-.9-.2-1.5-.7 .4-.7zM219.4 17.5l2.2 .1 3 1.1 2.7 1.9 1.9 2.2 .8 2.2-.2 1.6-.9 1.4-1.7 1.6-2.5 1.2-2.3 .5-2.2 .1-2.3-.5 0-13.2z" fill="#b55b53" fill-rule="evenodd"/>
<path d="M218.6 18.1l2.3-.1 3 .9 2.3 1.5 1.6 1.6 1.1 2.3 .1 1.5-.6 1.5-1.4 1.5-2.4 1.3-2.2 .7-2.2 .1-2.3-.5 0-12.2z" fill="#af5251" fill-rule="evenodd"/>
<path d="M218.6 18.6l2.3-.1 2.3 .6 2.2 1.4 1.6 1.5 1.1 2.3 0 1.5-.7 1.5-1.5 1.5-2 1-2.3 .5-2.2 0-1.5-.4 0-11.1z" fill="#a94950" fill-rule="evenodd"/>
<path d="M219.4 19l2.2 .2 1.8 .6 2 1.4 1.3 1.6 .5 1.5 0 1.5-.7 1.5-1.9 1.5-1.7 .8-2 .2-3-.5 0-10z" fill="#a24050" fill-rule="evenodd"/>
<path d="M218.6 19.7l1.6-.2 2.2 .5 1.5 .8 1.5 1.3 .8 1.5 .3 1.5-.5 1.5-1.3 1.4-1.5 .8-1.6 .4-2.2 0-1.5-.5 0-8.8z" fill="#9b3850" fill-rule="evenodd"/>
<path d="M218.6 20.3l1.6-.2 2.1 .5 1.6 .9 1.1 1.3 .6 1.5-.1 1.5-.4 .8-1.2 1.1-1.5 .7-1.5 .3-1.5-.1-1.5-.5 0-7.5z" fill="#933050" fill-rule="evenodd"/>
<path d="M218.6 21l1.6-.3 1.4 .3 1.6 .8 1 1 .4 1 .2 1.2-.7 1.6-.8 .7-2.4 .8-1.5-.1-1.5-.7 0-6z" fill="#8b2a50" fill-rule="evenodd"/>
<path d="M218.6 21.7l2.3-.2 1.4 .5 .9 .8 .6 1.5 0 .7-.9 1.6-1.3 .6-1.4 .2-1.6-.5-.7-.5 0-4.2z" fill="#812450" fill-rule="evenodd"/>
<path d="M219.4 22.4l1.5 0 1.5 1.1 .3 .8 0 .8-.5 .7-1.3 .6-.7 .1-1.6-.7-.7-1.5 .7-1.5z" fill="#761f4f" fill-rule="evenodd"/>
<path d="M241.2 13l.3-.7 9.6 0 1 1.5 .5 1.5-.2 2.4-.9 1.3-2.1 1-2.2 0-2.3-.7-1.7-1-1.4-1.5-.8-2.2zM266.6 28l5.3-.3 2.3 .4 2.3 .7 1.5 .8 1.7 1.4 .9 1.6 .4 1.4 .1 2.3-.3 2.3-1.7 5.2-1.6 3-1.6 2.2-3.7 3.8-47.5 0 .9-2.2 1.5-2.3 2.5-2.3 3.4-2.2 27.6-13.8 3-1.2z" fill="#ddd9e0" fill-rule="evenodd"/>
<path d="M242.6 13l.7-.7 6.7 0 .9 .8 .8 1.5 .3 1.4-.3 1.6-1.5 1.4-1.6 .4-2.2-.1-1.5-.6-1.6-1.1-1-1.5-.3-1.5zM265.2 29.5l5.2-.6 2.2 .2 2.3 .6 1.5 .8 1.6 1.3 .9 1.5 .4 1.5 0 2.2-.4 2.3-2 4.5-3.7 4.5-5.4 4.5-37.8 0 .4-2.2 1.6-3 2-2.3 2.9-2.3 5.1-3 12.7-6.3 6.7-3z" fill="#d6d7dd" fill-rule="evenodd"/>
<path d="M244.2 13l1.4-.7 2.5 0 1.3 .5 1.1 1 .8 1.5-.1 1.5-.3 .8-1.5 1-1.5 .3-1.5-.3-1.5-.6-1.3-1.2-.6-1.5 .4-1.5zM267.4 30.2l4.5 .2 2.2 .6 1.3 .8 1 1 .8 1.2 .5 3-1 3.8-2.3 3.8-4.3 4.4-4.2 3.4-.6 .4-32.3 0 .4-3 1.5-3 2.9-3 3.1-2.2 7.8-4.3 8.9-4.3 5.3-1.9z" fill="#cdd3d8" fill-rule="evenodd"/>
<path d="M246.4 13l2.3 .3 1.5 1.2 .4 1.5-.8 1.6-1.2 .5-1.4 .1-1.6-.5-1-.9-.5-.8 0-1.4 .8-1zM264.4 31.6l4.5-.3 3.7 .7 2.3 1.7 .7 1.1 .4 1.5-.3 3-1.8 3.7-3.2 3.8-4.9 4.5-2.3 1.5-28.1 0-.2-2.2 1-3 2.4-3 2.7-2.3 4.7-3 7.9-4 6-2.4z" fill="#c2ced4" fill-rule="evenodd"/>
<path d="M245.6 14.4l1.6-.5 1.4 .4 .9 1-.1 1.3-.8 .6-.7 .2-2.1-.6-.6-.8-.1-.7zM264.4 32.5l4.5-.1 3 .8 1.8 1.6 .8 2.2-.4 3-1.6 3-3.2 3.8-4.1 3.9-3.3 2.1-24.5 0-.5-2.2 .8-3 2.2-3 2.6-2.3 4.7-3 6.7-3.4 6-2.3z" fill="#b5c7cf" fill-rule="evenodd"/>
<path d="M265.2 33.2l3.7 .3 2.3 .9 1.6 1.9 .3 2.3-.6 2.2-1.8 3-4.1 4.5-3 2.7-3 1.8-21.3 0-.9-2.2 .1-1.6 .5-1.4 1.4-2.3 3.3-3 4.6-3 6.3-3.1 5.3-2z" fill="#a9c1cb" fill-rule="evenodd"/>
<path d="M260.6 34.7l4.6-.6 3 .3 2.2 1.2 .8 .8 .5 1.4-.2 2.2-1 2.3-2.2 3-4.2 4.5-1.9 1.5-3 1.5-18 0-.8-.8-.7-2.2 .4-2.2 1.4-2.3 2.3-2.3 3.4-2.3 4.4-2.6 4.6-2z" fill="#9dbac8" fill-rule="evenodd"/>
<path d="M259.9 35.5l3.7-.6 3 .2 2.3 .9 1.4 1.8 0 2.2-.9 2.3-2.2 3-4 4.5-2.6 1.8-2.7 1.2-14.9 0-1.1-.8-.9-1.4-.1-2.3 1.1-2.3 2-2.2 3.2-2.5 4.4-2.6 4.6-2z" fill="#92b3c6" fill-rule="evenodd"/>
<path d="M259.9 36.2l3-.4 3 .2 2.2 1 .9 1.6 .1 1.4-.8 2.3-3.8 5.3-2.1 2.2-2.5 1.7-3.5 1.3-11.5 0-2.2-1.5-.8-1.5 .2-2.2 .8-1.6 2-2.2 3-2.2 3.8-2.3 4.5-2z" fill="#87abc4" fill-rule="evenodd"/>
<path d="M259.2 37l3-.4 3 .2 1.8 1 .8 1.5 0 1.5-1 2.2-4.6 6.3-3 2.1-4.6 1.4-7.4 0-2.2-.8-1.1-.7-1-1.5-.1-1.5 .5-1.5 1.7-2.2 2.8-2.3 3.9-2.4 3.7-1.7z" fill="#7ea4c3" fill-rule="evenodd"/>
<path d="M259.2 37.7l3-.4 2.2 .4 1.5 .9 .7 1.4-.2 1.6-1.1 2.2-2.5 3.8-2 2.2-1.6 1.1-2.3 .9-4.5 .9-3-.1-2.2-.4-1.6-.6-1.3-1-.6-1.6 .1-1.4 .8-1.6 1.8-1.9 3-2.2 3.2-1.9 3.6-1.5z" fill="#769cc1" fill-rule="evenodd"/>
<path d="M258.4 38.5l2.2-.3 2.3 .1 1.5 .7 .8 1 0 1.6-.5 1.4-2.1 3.8-1.7 2.2-1.7 1.4-1.6 .8-4.4 1-4.6-.2-2.1-.7-1.1-.7-.9-1.6 .1-1.4 .8-1.6 1.4-1.4 2.6-2 3-1.8 3-1.4z" fill="#7094c0" fill-rule="evenodd"/>
<path d="M258.4 39.3l2.2-.2 1.6 .2 1.3 .7 .4 .8-.1 1.5-.5 1.5-2 3.8-1.4 1.7-3 1.7-2.3 .6-2.2 .3-2.2-.1-2.3-.5-1.4-.7-.7-.8-.4-.8 0-1.4 .8-1.6 1.7-1.6 5.3-3.3 2.4-1.1z" fill="#6b8cbf" fill-rule="evenodd"/>
<path d="M259.2 40l1.4 .1 1.4 .7 .5 1.5-1.5 4.5-1.8 2.4-3 1.7-3.8 .6-3-.3-1.8-.6-.9-.8-.4-.8-.1-1.4 .9-1.6 1.6-1.5 5.2-3 3-1.1z" fill="#6683bd" fill-rule="evenodd"/>
<path d="M256.2 41.4l3-.2 1.1 .4 .6 .7 .1 1.5-.5 2.2-.7 1.6-1.2 1.4-2.4 1.5-3 .6-3-.2-2.5-1.1-.6-.8-.1-1.4 1.6-2.3 3.8-2.4z" fill="#637abb" fill-rule="evenodd"/>
<path d="M253.9 43l2.3-.6 1.4-.1 1.6 .7 .4 .8 .1 1.5-.3 1.5-.8 1.5-2 1.5-2.7 .8-3 0-2.1-.8-.8-.8-.2-.7 .4-1.5 2-1.9z" fill="#6171b9" fill-rule="evenodd"/>
<path d="M254.6 43.7l2.3-.1 .7 .3 .6 .7 .3 .7 0 1.5-.9 1.6-2.2 1.4-2.2 .4-2.3-.2-1.8-1-.4-.7 0-.7 1.1-1.6 2.3-1.4z" fill="#6068b6" fill-rule="evenodd"/>
<path d="M252.4 45.2l2.2-.6 1.6 .2 .7 .4 .5 .8-.2 1.6-1 1.2-1.6 .6-2.2 .3-1.5-.3-.6-.4-.6-.7 0-.7 1.2-1.5z" fill="#5f5eb3" fill-rule="evenodd"/>
<path d="M253.2 45.9l2.2 .1 .7 .8 0 .8-.6 .7-1.6 .7-1.5 0-.8-.3-.5-.4-.1-.7 .7-.9z" fill="#5e54ae" fill-rule="evenodd"/>
<polygon points="230.0,46.0 234.0,46.0 234.0,51.3 230.0,51.3" fill="url(#hp2)"/>
<polygon points="230.0,46.0 234.0,46.0 234.0,51.3 230.0,51.3" fill="url(#gd0)"/>
<polygon points="230.0,46.0 234.0,46.0 234.0,51.3 230.0,51.3" fill="url(#hc2)" mask="url(#mg0)"/>
<polygon points="288.0,44.0 297.6,43.0 297.6,51.3 288.0,51.3" fill="url(#hp2)"/>
<polygon points="288.0,44.0 297.6,43.0 297.6,51.3 288.0,51.3" fill="url(#gd0)"/>
<polygon points="288.0,44.0 297.6,43.0 297.6,51.3 288.0,51.3" fill="url(#hc2)" mask="url(#mg0)"/>
<polygon points="220.0,44.0 226.0,44.0 226.0,51.3 220.0,51.3" fill="url(#hp2)"/>
<polygon points="220.0,44.0 226.0,44.0 226.0,51.3 220.0,51.3" fill="url(#gd0)"/>
<polygon points="220.0,44.0 226.0,44.0 226.0,51.3 220.0,51.3" fill="url(#hc2)" mask="url(#mg0)"/>
<polygon points="247.0,43.0 262.0,43.0 258.0,51.3 247.0,51.3" fill="url(#hd2)"/>
<rect x="240.0" y="14.3" width="3.0" height="1" fill="url(#sp2)"/>
<rect x="220.0" y="18.9" width="19.0" height="1" fill="url(#sp2)"/>
<rect x="220.0" y="22.8" width="13.0" height="1" fill="url(#sp2)"/>
<rect x="220.0" y="25.8" width="13.0" height="1" fill="url(#sp2)"/>
<rect x="240.0" y="25.8" width="3.0" height="1" fill="url(#sp2)"/>
<rect x="220.0" y="28.7" width="14.0" height="1" fill="url(#sp2)"/>
<rect x="240.0" y="28.7" width="4.0" height="1" fill="url(#sp2)"/>
<rect x="240.0" y="33.0" width="4.0" height="1" fill="url(#sp2)"/>
<rect x="231.0" y="37.6" width="1.0" height="1" fill="url(#sp2)"/>
<rect x="238.0" y="37.6" width="6.0" height="1" fill="url(#sp2)"/>
<rect x="231.0" y="39.9" width="12.0" height="1" fill="url(#sp2)"/>
<rect x="236.0" y="43.1" width="2.0" height="1" fill="url(#sp2)"/>
<rect x="235.0" y="44.8" width="1.0" height="1" fill="url(#sp2)"/>
<rect x="248.0" y="37.6" width="17.0" height="1" fill="url(#sp2)"/>
<rect x="248.0" y="39.9" width="18.0" height="1" fill="url(#sp2)"/>
<rect x="248.0" y="41.8" width="16.0" height="1" fill="url(#sp2)"/>
<rect x="248.0" y="43.5" width="14.0" height="1" fill="url(#sp2)"/>
</g>
<rect x="219.9" y="14.3" width="77.70" height="37.00" fill="none" stroke="#777" stroke-width="0.7"/>
<line x1="217.90" y1="14.30" x2="219.9" y2="14.30" stroke="#444" stroke-width="0.55"/>
<line x1="217.90" y1="28.84" x2="219.9" y2="28.84" stroke="#444" stroke-width="0.55"/>
<line x1="217.90" y1="43.38" x2="219.9" y2="43.38" stroke="#444" stroke-width="0.55"/>
<line x1="218.70" y1="47.75" x2="219.9" y2="47.75" stroke="#444" stroke-width="0.55"/>
<line x1="217.90" y1="51.30" x2="219.9" y2="51.30" stroke="#444" stroke-width="0.55"/>
<line x1="219.90" y1="51.30" x2="219.90" y2="53.00" stroke="#444" stroke-width="0.55"/>
<line x1="237.17" y1="51.30" x2="237.17" y2="53.00" stroke="#444" stroke-width="0.55"/>
<line x1="254.43" y1="51.30" x2="254.43" y2="53.00" stroke="#444" stroke-width="0.55"/>
<line x1="271.70" y1="51.30" x2="271.70" y2="53.00" stroke="#444" stroke-width="0.55"/>
<line x1="288.97" y1="51.30" x2="288.97" y2="53.00" stroke="#444" stroke-width="0.55"/>
<text x="208.9" y="11.70" class="lb">C3a)</text>
<clipPath id="c03"><rect x="315.5" y="14.3" width="78.00" height="37.00"/></clipPath>
<rect x="315.5" y="14.3" width="78.00" height="37.00" fill="#e2d9e2"/>
<g clip-path="url(#c03)">
<path d="M314.2 12.3l20.2 0 2.1 1.5 1.3 1.5 .6 1.5 .1 2.2-1.2 2.3-1.5 1.5-2 1.2-3 1.2-3.8 .7-3 .2-3-.2-3.8-.7-3.7-1.6 0-11.2zM373.5 12.3l21 0 .7 .9 0 9.6-1.4 1.6-2.3 1.5-2.3 1-2.2 .6-2.2 .2-3-.1-4.6-1.3-2.1-1.3-1.8-1.5-1.1-1.4-.9-2.3-.3-1.5 .3-2.3 1-2.2z" fill="#e1d7dc" fill-rule="evenodd"/>
<path d="M381.8 14.5l3-.4 1.4 .4 1.6 .8 .8 .7 .6 1.6-.1 1.4-.6 1-1.5 1.2-2.2 .7-2.3-.1-2.5-1.3-1.1-1.5-.1-1.4 .7-1.6 .7-.7zM321 15.2l3.8-.4 3 .7 1.7 1.3 .3 .8-.2 1.4-1.8 1.5-2.3 .7-3 0-2.2-.6-1.9-1.5-.2-1.5 1.1-1.6z" fill="#ded3d4" fill-rule="evenodd"/>
<polygon points="359.0,42.0 365.0,42.0 366.0,45.0 366.0,49.0 364.0,51.3 358.0,51.3 357.0,48.0 357.0,45.0" fill="url(#hp3)"/>
<polygon points="372.7,42.0 381.0,42.0 381.4,46.0 380.0,49.0 374.0,49.0 372.7,46.0" fill="url(#hp3)"/>
<polygon points="359.0,45.0 365.0,45.0 365.0,51.3 359.0,51.3" fill="url(#hp3)"/>
<polygon points="373.5,44.0 380.5,44.0 380.0,48.0 374.0,48.0" fill="url(#hp3)"/>
<polygon points="341.0,48.0 343.0,47.5 343.0,49.5 341.0,49.5" fill="url(#hd3)"/>
<polyline points="338.0,40.0 340.5,43.0" fill="none" stroke="#333" stroke-width="0.6"/>
<rect x="331.0" y="14.1" width="9.0" height="1" fill="url(#sp3)"/>
<rect x="347.0" y="14.1" width="8.0" height="1" fill="url(#sp3)"/>
<rect x="333.0" y="16.5" width="7.0" height="1" fill="url(#sp3)"/>
<rect x="347.0" y="16.5" width="8.0" height="1" fill="url(#sp3)"/>
<rect x="331.0" y="18.7" width="7.0" height="1" fill="url(#sp3)"/>
<rect x="345.0" y="18.7" width="7.0" height="1" fill="url(#sp3)"/>
<rect x="332.0" y="22.5" width="1.0" height="1" fill="url(#sp3)"/>
<rect x="345.0" y="22.5" width="5.0" height="1" fill="url(#sp3)"/>
<rect x="343.0" y="25.8" width="5.0" height="1" fill="url(#sp3)"/>
<rect x="341.0" y="26.9" width="4.0" height="1" fill="url(#sp3)"/>
<rect x="339.0" y="28.9" width="4.0" height="1" fill="url(#sp3)"/>
<rect x="331.0" y="40.0" width="6.0" height="1" fill="url(#sp3)"/>
<rect x="318.0" y="43.0" width="10.0" height="1" fill="url(#sp3)"/>
<rect x="338.0" y="41.5" width="2.0" height="1" fill="url(#sp3)"/>
<rect x="322.0" y="45.3" width="1.0" height="1" fill="url(#sp3)"/>
<rect x="377.0" y="14.1" width="16.0" height="1" fill="url(#sp3)"/>
<rect x="377.0" y="16.5" width="16.0" height="1" fill="url(#sp3)"/>
<rect x="382.0" y="18.7" width="11.0" height="1" fill="url(#sp3)"/>
<rect x="366.5" y="26.0" width="1.0" height="1" fill="url(#sp3)"/>
<rect x="365.5" y="27.5" width="3.0" height="1" fill="url(#sp3)"/>
<rect x="365.0" y="29.0" width="4.0" height="1" fill="url(#sp3)"/>
<rect x="361.0" y="32.5" width="17.0" height="1" fill="url(#sp3)"/>
<rect x="363.0" y="37.3" width="15.0" height="1" fill="url(#sp3)"/>
<rect x="359.0" y="40.0" width="7.0" height="1" fill="url(#sp3)"/>
<rect x="372.0" y="40.0" width="9.0" height="1" fill="url(#sp3)"/>
</g>
<rect x="315.5" y="14.3" width="78.00" height="37.00" fill="none" stroke="#777" stroke-width="0.7"/>
<line x1="313.50" y1="14.30" x2="315.5" y2="14.30" stroke="#444" stroke-width="0.55"/>
<line x1="313.50" y1="28.84" x2="315.5" y2="28.84" stroke="#444" stroke-width="0.55"/>
<line x1="313.50" y1="43.38" x2="315.5" y2="43.38" stroke="#444" stroke-width="0.55"/>
<line x1="314.30" y1="47.75" x2="315.5" y2="47.75" stroke="#444" stroke-width="0.55"/>
<line x1="313.50" y1="51.30" x2="315.5" y2="51.30" stroke="#444" stroke-width="0.55"/>
<line x1="315.50" y1="51.30" x2="315.50" y2="53.00" stroke="#444" stroke-width="0.55"/>
<line x1="332.83" y1="51.30" x2="332.83" y2="53.00" stroke="#444" stroke-width="0.55"/>
<line x1="350.17" y1="51.30" x2="350.17" y2="53.00" stroke="#444" stroke-width="0.55"/>
<line x1="367.50" y1="51.30" x2="367.50" y2="53.00" stroke="#444" stroke-width="0.55"/>
<line x1="384.83" y1="51.30" x2="384.83" y2="53.00" stroke="#444" stroke-width="0.55"/>
<text x="304.7" y="11.70" class="lb">C4a)</text>
<clipPath id="c04"><rect x="411.5" y="14.3" width="78.00" height="37.00"/></clipPath>
<rect x="411.5" y="14.3" width="78.00" height="37.00" fill="#e2d9e2"/>
<g clip-path="url(#c04)">
<path d="M410.2 12.3l49.3 0-.1 1.5-.5 1.5-2.1 2.9-8.1 6.8-9.9 11-3.8 3.5-3 2.3-4.5 2.5-4.5 1.5-6.8 1.1-6.7 .4 0-35z" fill="#e1d7dc" fill-rule="evenodd"/>
<path d="M418.5 12.8l.8-.5 39.1 0 .1 .7-.5 2.3-2.3 3-8.5 6.7-7.7 7.7-4.5 3.5-3.8 2-4.4 1.5-5.3 1-6.7 .4-5.3-.3 0-22.6z" fill="#ded3d4" fill-rule="evenodd"/>
<path d="M423.8 12.9l.8-.6 32.6 0 .2 1.5-.7 2.2-2.2 2.6-9.2 6.4-6.5 5.8-3 2.1-3.8 1.8-4.5 1.4-4.5 .8-5.2 .2-4.6-.4-3.7-1 0-12.4z" fill="#dccdca" fill-rule="evenodd"/>
<path d="M427.5 12.8l.7-.5 27.8 0 .4 1.5-.7 2.2-1.1 1.6-1.7 1.4-10 6-7.9 5.4-3 1.4-3.8 1.1-3.7 .6-3.7 .1-3.8-.4-3.2-1.4-1.3-1.5-.3-.7 .1-1.6 .6-1.4 1.8-2.3 6.1-5.1 4.5-4.6z" fill="#d8c6bd" fill-rule="evenodd"/>
<path d="M430.5 12.7l.6-.4 23.6 0 .4 .7 .2 1.6-.6 1.4-1.7 2-2.2 1.7-3 1.6-15.8 7-3.8 1-3.7 .2-2.3-.5-1.4-1-.3-.7 .2-1.5 3.8-5.2 3.1-5.3z" fill="#d4bdad" fill-rule="evenodd"/>
<path d="M432.8 12.9l1-.6 19.4 0 .6 .7 .3 1.6-.5 1.4-1.2 1.6-2 1.4-2.6 1.4-3.8 1.4-3.8 .9-3.7 .6-3 .1-1.5-.3-1.5-.9-1.1-1.6-.3-1.6 .3-2.2 .7-1.5z" fill="#d1b4a0" fill-rule="evenodd"/>
<path d="M435 13l1.5-.7 15 0 .8 .7 .6 1.6-.1 .7-.9 1.5-1.8 1.5-1.6 .9-5.3 1.7-5.2 .4-2.2-.4-1.6-.5-1.4-1.2-.6-.9-.3-1.5 .6-1.5 1.3-1.5z" fill="#ceab92" fill-rule="evenodd"/>
<path d="M438 12.8l1.5-.5 9.6 0 1.4 .7 .7 .8 .3 1.5-.7 1.2-1.2 1.1-3.1 1.4-4 .9-3.7-.1-3-1.1-1.1-1.1-.3-.8 .3-1.5 .6-.7z" fill="#cca186" fill-rule="evenodd"/>
<path d="M441 13l3.8-.5 2.9 .5 1.6 .8 .5 .8 0 .7-1 1.5-3.2 1.5-3.1 .4-3-.3-1.8-.8-.7-.8-.1-.8 .8-1.4 1.1-.8z" fill="#c99679" fill-rule="evenodd"/>
<path d="M444 13.8l1.5 0 1.7 .8 .3 .7-.3 .7-1 .7-1.4 .5-2.3 .1-1.9-.5-.7-.8 .1-.7 .9-.7z" fill="#c78c6f" fill-rule="evenodd"/>
<path d="M461.2 12.3l30 0 .1 26.1-1.6 2.4-3 3-5.9 3.6-2.2 1.7-1.3 1.5-1 2.2-44.9 0 .9-3 1.3-3 4.3-6.8 10.7-13.4 9.6-9 1.5-2.3 1-3z" fill="#ddd9e0" fill-rule="evenodd"/>
<path d="M462 12.3l29.2 0 0 16-2.5 5.7-2.8 5.3-3 3.7-7.1 6-1.2 1.6-1.3 2.2-36.9 0 .3-3.8 .7-3 1.1-3 2-3.7 9.3-12.7 2.9-3 4.9-4.6 2-2.2 1.4-2.2 .7-2.3z" fill="#d6d7dd" fill-rule="evenodd"/>
<path d="M462.8 12.6l0-.3 28.4 0 0 7-1 4.3-2.3 6.7-3.8 7.5-3.2 4.5-7.1 6.7-2.7 3.8-32.1 0-.1-3.8 .4-3 1.3-3.7 1.5-3 2.9-4.5 6-8.2 9.5-9.8 1.4-2.2z" fill="#cdd3d8" fill-rule="evenodd"/>
<path d="M464.2 12.3l25.4 0-.2 6-1.3 6-2.5 6.7-3 6-3.6 5.3-6.8 6.7-3.2 3.8-28.1 0-.4-3 .2-3.8 1.1-3.7 1.9-3.7 8.3-12 2.7-3 6-6 1.7-2.3 1.6-3z" fill="#c2ced4" fill-rule="evenodd"/>
<path d="M465 12.5l.1-.2 22.5 0 .1 5.3-1 5.9-2 6.1-3.2 6.7-1.9 3-2.2 3-10.3 10.5-24.8 0-.6-3 .1-3.8 1.1-3.7 1.4-3 8.7-12.7 2.6-3 6-6 1.7-2.3z" fill="#b5c7cf" fill-rule="evenodd"/>
<path d="M466.5 12.3l19.2 0 .4 5.3-.8 6-1.9 6-3.3 6.7-2.4 3.7-2.4 3-10 9.8-21.8 0-.8-3 0-3.8 .8-3 1.7-3.7 9.3-13.5 7.9-8.2z" fill="#a9c1cb" fill-rule="evenodd"/>
<path d="M467.2 12.9l.5-.6 16.1 0 .9 4.5-.5 6-1.7 6-3.2 6.8-2.9 4.4-2.5 3-10.4 9.8-18.8 0-1.1-3-.1-3 .8-3.8 1.4-3 9.7-14.2 7.9-8.2z" fill="#9dbac8" fill-rule="evenodd"/>
<path d="M468.8 12.8l.5-.5 12.5 0 .7 1.5 .6 2.2 .2 2.3-.5 5.2-1.7 6.1-2.9 6-2.4 3.7-3.1 3.7-6.9 6.5-4.2 3.3-15.9 0-1.3-3-.2-3 .8-3.8 1.4-3 10.5-15z" fill="#92b3c6" fill-rule="evenodd"/>
<path d="M471 12.5l.4-.2 8 0 1.4 1.7 .8 2 .5 4.6-.7 4.4-1.7 5.3-3 6-2.7 3.9-3.3 3.6-6.5 5.8-4.3 3.2-13.1 0-1-1.5-.6-1.5-.3-3 .5-3 1.8-3.8 8.9-12.7 2.3-3 9.6-9.4z" fill="#87abc4" fill-rule="evenodd"/>
<path d="M473.2 13l1.6-.3 1.4 .1 2.1 1 1.7 2.2 .8 3-.1 3.8-.9 4.5-1.7 4.5-2.6 4.7-2.5 3.5-3.5 3.8-6.7 5.8-3.8 2.7-.9 .5-10.1 0-1.7-2.2-.8-3 .6-3.8 1.8-3.8 9.6-13.4 2.5-3 8.8-8.1 2.2-1.5z" fill="#7ea4c3" fill-rule="evenodd"/>
<path d="M473.2 14.5l2.3 0 2.2 1.2 1.2 1.9 .7 2.9-.2 3.8-.9 3.7-1.8 4.6-2.1 3.7-2.7 3.7-2.8 3-6.3 5.5-3.7 2.8-2.9 1.5-7-.1-1.4-1.2-.7-.9-.9-3 .2-3 1.7-3.8 5.7-7.5 4.4-6.6 2.7-3.1 7.1-6.3 3-1.9z" fill="#769cc1" fill-rule="evenodd"/>
<path d="M474 16l2.3 .8 1.2 1.5 .8 2.3 .2 2.2-.4 3-1.1 3.8-1.6 3.7-2.3 3.7-2.3 3-2.8 2.9-6.8 5.8-3 2.2-2.2 1.2-2.2 .6-2.3 0-2.3-.8-1.8-2.1-.5-1.5-.1-1.5 .5-3 1.9-3.8 4.9-6 5.2-7.4 3.3-3.8 3.9-3.3 3-2.1 2.3-1z" fill="#7094c0" fill-rule="evenodd"/>
<path d="M470.3 18.3l2.2-.7 2.2 .4 1.5 1.3 .9 2 .1 3-.4 3-1.3 3.7-2 3.8-2 3-2.8 3.2-10.1 8.8-2.6 1.5-2.2 .7-2.3 0-1.5-.6-1.8-1.6-.8-2.2 .2-3 1.3-3 6.1-7.6 4.1-6 2.4-3 4.3-3.9z" fill="#6b8cbf" fill-rule="evenodd"/>
<path d="M470.2 19.5l2.3-.3 1.8 .6 1.2 1.5 .5 2.3-.2 3-.8 3-1.2 3-1.8 3-4 4.8-7.8 7.2-2.7 2.1-2.3 1.2-1.4 .4-2.3-.1-1.5-.6-1.4-1.6-.6-2.2 .2-2.2 1.4-3 5.9-6.8 4.5-6.8 2.5-3 4-3.4z" fill="#6683bd" fill-rule="evenodd"/>
<path d="M469.5 21.1l2.3-.3 1.4 .5 1.1 1.5 .4 1.5 0 2.3-.7 3-1.3 3-1.7 2.8-3.8 4.4-10 9.2-2 1.1-1.4 .5-2.3-.1-1.3-.7-1.2-1.5-.4-2.3 .5-2.2 .9-1.8 1.5-2 5-5.2 4-6 2.4-3 3.6-3.1z" fill="#637abb" fill-rule="evenodd"/>
<path d="M469.5 22.6l1.5-.1 1.5 .8 .6 1 .3 1.5-.2 2.2-.6 2.3-2.4 4.5-3 3.6-10.2 9.9-1.8 1.1-1.4 .4-1.6 0-1.4-.6-1.3-1.6-.2-1.6 .4-2.2 1.1-1.9 1.4-1.7 5-4.6 4-6.2 2.3-2.8 3-2.6z" fill="#6171b9" fill-rule="evenodd"/>
<path d="M468 24.7l1.5-.3 .7 .2 .8 .5 .7 1.5 .1 1.5-.6 2.2-1.9 3.7-2.1 2.7-5.2 4.8-3.7 4.5-1.5 1.6-1.6 .9-1.4 .5-1.6 0-.7-.3-1.1-1.1-.4-1.6 .2-1.4 1.1-2.3 1.7-1.8 5.1-4.2 3.9-6.1 2.2-2.8 1.9-1.6z" fill="#6068b6" fill-rule="evenodd"/>
<path d="M467.2 27.2l.8-.2 1 .3 .5 .6 .2 .9-.5 2.2-1.7 3-1.7 1.9-4.5 3.6-3 5.1-2 2.2-1.1 .8-1.4 .5-1.6-.2-.6-.3-.5-.8-.2-1.5 .4-1.5 .9-1.5 2.3-1.9 3.5-1.8 1.8-1.4 3.9-6.9 2.1-2.2z" fill="#5f5eb3" fill-rule="evenodd"/>
<path d="M455.2 41.5l.8-.2 1.1 .3 .4 .7-.3 1.5-.9 1.5-1.1 1-1 .5-1.2 .1-.9-.9-.1-.7 .2-1.2 1.5-1.8z" fill="#5e54ae" fill-rule="evenodd"/>
<polygon points="447.0,44.0 461.0,44.0 456.0,51.3 447.0,51.3" fill="url(#hp4)"/>
<polygon points="447.0,44.0 461.0,44.0 456.0,51.3 447.0,51.3" fill="url(#gd0)"/>
<polygon points="447.0,44.0 461.0,44.0 456.0,51.3 447.0,51.3" fill="url(#hc4)" mask="url(#mg0)"/>
<polygon points="487.5,48.0 489.5,48.0 489.5,51.3 487.5,51.3" fill="url(#hd4)"/>
<rect x="422.0" y="17.0" width="8.0" height="1" fill="url(#sp4)"/>
<rect x="422.0" y="18.9" width="14.0" height="1" fill="url(#sp4)"/>
<rect x="414.0" y="22.7" width="31.0" height="1" fill="url(#sp4)"/>
<rect x="413.0" y="26.0" width="9.0" height="1" fill="url(#sp4)"/>
<rect x="428.0" y="26.0" width="17.0" height="1" fill="url(#sp4)"/>
<rect x="411.0" y="28.7" width="8.0" height="1" fill="url(#sp4)"/>
<rect x="428.0" y="28.7" width="17.0" height="1" fill="url(#sp4)"/>
<rect x="430.0" y="33.0" width="14.0" height="1" fill="url(#sp4)"/>
<rect x="423.0" y="37.6" width="18.0" height="1" fill="url(#sp4)"/>
<rect x="412.0" y="39.9" width="4.0" height="1" fill="url(#sp4)"/>
<rect x="420.0" y="39.9" width="4.0" height="1" fill="url(#sp4)"/>
<rect x="432.0" y="39.9" width="3.0" height="1" fill="url(#sp4)"/>
<rect x="444.0" y="39.9" width="29.0" height="1" fill="url(#sp4)"/>
<rect x="413.0" y="42.7" width="7.0" height="1" fill="url(#sp4)"/>
<rect x="432.0" y="42.7" width="4.0" height="1" fill="url(#sp4)"/>
<rect x="415.0" y="44.8" width="4.0" height="1" fill="url(#sp4)"/>
<rect x="451.0" y="33.0" width="7.0" height="1" fill="url(#sp4)"/>
<rect x="468.0" y="33.0" width="6.0" height="1" fill="url(#sp4)"/>
<rect x="449.0" y="37.6" width="11.0" height="1" fill="url(#sp4)"/>
<rect x="464.0" y="37.6" width="9.0" height="1" fill="url(#sp4)"/>
<rect x="449.0" y="41.8" width="21.0" height="1" fill="url(#sp4)"/>
<rect x="449.0" y="43.5" width="12.0" height="1" fill="url(#sp4)"/>
</g>
<rect x="411.5" y="14.3" width="78.00" height="37.00" fill="none" stroke="#777" stroke-width="0.7"/>
<line x1="409.50" y1="14.30" x2="411.5" y2="14.30" stroke="#444" stroke-width="0.55"/>
<line x1="409.50" y1="28.84" x2="411.5" y2="28.84" stroke="#444" stroke-width="0.55"/>
<line x1="409.50" y1="43.38" x2="411.5" y2="43.38" stroke="#444" stroke-width="0.55"/>
<line x1="410.30" y1="47.75" x2="411.5" y2="47.75" stroke="#444" stroke-width="0.55"/>
<line x1="409.50" y1="51.30" x2="411.5" y2="51.30" stroke="#444" stroke-width="0.55"/>
<line x1="411.50" y1="51.30" x2="411.50" y2="53.00" stroke="#444" stroke-width="0.55"/>
<line x1="428.83" y1="51.30" x2="428.83" y2="53.00" stroke="#444" stroke-width="0.55"/>
<line x1="446.17" y1="51.30" x2="446.17" y2="53.00" stroke="#444" stroke-width="0.55"/>
<line x1="463.50" y1="51.30" x2="463.50" y2="53.00" stroke="#444" stroke-width="0.55"/>
<line x1="480.83" y1="51.30" x2="480.83" y2="53.00" stroke="#444" stroke-width="0.55"/>
<text x="400.5" y="11.70" class="lb">C5a)</text>
<clipPath id="c10"><rect x="28.3" y="66.8" width="77.10" height="38.00"/></clipPath>
<rect x="28.3" y="66.8" width="77.10" height="38.00" fill="#e2d9e2"/>
<g clip-path="url(#c10)">
<path d="M80.3 67.7l3.7-.6 3.8 .2 3.8 1.1 3 1.8 1.8 2.1 .8 1.5 .3 1.5-.4 3-1.3 2.3-2 1.8-2.2 1.2-3 1-2.3 .3-3 0-2.3-.4-3-1.1-2.2-1.4-1.6-1.4-1.3-2.3-.4-2.3 .4-2.2 1.2-2.2 1.5-1.6 1.7-1.1z" fill="#ddd9e0" fill-rule="evenodd"/>
<path d="M81.8 71.5l2.2-.5 2.3 .1 2.3 .6 1.4 .8 1.3 1.3 .7 1.5-.1 1.5-.7 1.5-1.9 1.7-3 .9-3 0-3-1.2-.9-.7-1.1-1.4-.3-2.3 .7-1.5 .6-.8z" fill="#d6d7dd" fill-rule="evenodd"/>
<polygon points="41.0,92.0 58.0,92.0 58.0,94.0 50.0,104.8 37.0,104.8 37.0,95.5 41.0,95.5" fill="url(#hp0)"/>
<polygon points="41.0,92.0 58.0,92.0 58.0,94.0 50.0,104.8 37.0,104.8 37.0,95.5 41.0,95.5" fill="url(#gd1)"/>
<polygon points="41.0,92.0 58.0,92.0 58.0,94.0 50.0,104.8 37.0,104.8 37.0,95.5 41.0,95.5" fill="url(#hc0)" mask="url(#mg1)"/>
<polygon points="59.5,92.0 105.4,92.0 105.4,101.0 101.0,101.0 101.0,104.8 95.0,104.8 95.0,101.0 89.0,101.5 83.0,101.0 81.0,99.5 75.0,99.5 72.0,101.0 67.0,101.0 67.0,104.8 59.5,104.8" fill="url(#hp0)"/>
<polygon points="59.5,92.0 105.4,92.0 105.4,101.0 101.0,101.0 101.0,104.8 95.0,104.8 95.0,101.0 89.0,101.5 83.0,101.0 81.0,99.5 75.0,99.5 72.0,101.0 67.0,101.0 67.0,104.8 59.5,104.8" fill="url(#gd1)"/>
<polygon points="59.5,92.0 105.4,92.0 105.4,101.0 101.0,101.0 101.0,104.8 95.0,104.8 95.0,101.0 89.0,101.5 83.0,101.0 81.0,99.5 75.0,99.5 72.0,101.0 67.0,101.0 67.0,104.8 59.5,104.8" fill="url(#hc0)" mask="url(#mg1)"/>
<polyline points="28.5,96.0 31.0,96.5 33.5,98.5 35.5,101.5 36.5,104.8" fill="none" stroke="#333" stroke-width="0.6"/>
<rect x="28.5" y="66.9" width="4.5" height="1" fill="url(#sp0)"/>
<rect x="28.5" y="69.0" width="3.5" height="1" fill="url(#sp0)"/>
<rect x="28.5" y="70.9" width="5.5" height="1" fill="url(#sp0)"/>
<rect x="43.0" y="70.9" width="3.0" height="1" fill="url(#sp0)"/>
<rect x="54.0" y="70.9" width="6.0" height="1" fill="url(#sp0)"/>
<rect x="35.0" y="75.7" width="11.0" height="1" fill="url(#sp0)"/>
<rect x="50.0" y="75.7" width="12.0" height="1" fill="url(#sp0)"/>
<rect x="28.5" y="78.0" width="17.5" height="1" fill="url(#sp0)"/>
<rect x="49.0" y="78.0" width="13.0" height="1" fill="url(#sp0)"/>
<rect x="28.5" y="80.1" width="17.5" height="1" fill="url(#sp0)"/>
<rect x="47.0" y="80.1" width="15.0" height="1" fill="url(#sp0)"/>
<rect x="28.5" y="81.3" width="17.5" height="1" fill="url(#sp0)"/>
<rect x="47.0" y="81.3" width="15.0" height="1" fill="url(#sp0)"/>
<rect x="39.0" y="85.9" width="20.0" height="1" fill="url(#sp0)"/>
<rect x="42.0" y="89.8" width="17.0" height="1" fill="url(#sp0)"/>
<rect x="28.5" y="92.3" width="6.5" height="1" fill="url(#sp0)"/>
<rect x="70.0" y="66.9" width="35.4" height="1" fill="url(#sp0)"/>
<rect x="70.0" y="69.4" width="35.4" height="1" fill="url(#sp0)"/>
<rect x="70.0" y="71.1" width="35.4" height="1" fill="url(#sp0)"/>
<rect x="64.0" y="75.8" width="41.4" height="1" fill="url(#sp0)"/>
<rect x="64.0" y="78.0" width="41.4" height="1" fill="url(#sp0)"/>
<rect x="64.0" y="80.1" width="41.4" height="1" fill="url(#sp0)"/>
<rect x="64.0" y="81.3" width="41.4" height="1" fill="url(#sp0)"/>
<rect x="62.0" y="85.9" width="43.4" height="1" fill="url(#sp0)"/>
<rect x="62.0" y="89.8" width="43.4" height="1" fill="url(#sp0)"/>
</g>
<rect x="28.3" y="66.8" width="77.10" height="38.00" fill="none" stroke="#777" stroke-width="0.7"/>
<line x1="26.30" y1="66.80" x2="28.3" y2="66.80" stroke="#444" stroke-width="0.55"/>
<line x1="26.30" y1="81.73" x2="28.3" y2="81.73" stroke="#444" stroke-width="0.55"/>
<line x1="26.30" y1="96.67" x2="28.3" y2="96.67" stroke="#444" stroke-width="0.55"/>
<line x1="27.10" y1="101.15" x2="28.3" y2="101.15" stroke="#444" stroke-width="0.55"/>
<line x1="26.30" y1="104.80" x2="28.3" y2="104.80" stroke="#444" stroke-width="0.55"/>
<line x1="28.30" y1="104.80" x2="28.30" y2="106.50" stroke="#444" stroke-width="0.55"/>
<line x1="45.43" y1="104.80" x2="45.43" y2="106.50" stroke="#444" stroke-width="0.55"/>
<line x1="62.57" y1="104.80" x2="62.57" y2="106.50" stroke="#444" stroke-width="0.55"/>
<line x1="79.70" y1="104.80" x2="79.70" y2="106.50" stroke="#444" stroke-width="0.55"/>
<line x1="96.83" y1="104.80" x2="96.83" y2="106.50" stroke="#444" stroke-width="0.55"/>
<text x="17.4" y="62.40" class="lb">C1b)</text>
<clipPath id="c11"><rect x="124.2" y="66.8" width="77.40" height="38.00"/></clipPath>
<rect x="124.2" y="66.8" width="77.40" height="38.00" fill="#e2d9e2"/>
<g clip-path="url(#c11)">
<polygon points="129.6,98.0 134.0,98.0 134.0,104.8 129.6,104.8" fill="url(#hp1)"/>
<polygon points="129.6,98.0 134.0,98.0 134.0,104.8 129.6,104.8" fill="url(#gd1)"/>
<polygon points="129.6,98.0 134.0,98.0 134.0,104.8 129.6,104.8" fill="url(#hc1)" mask="url(#mg1)"/>
<polygon points="146.5,100.0 148.3,100.0 148.3,104.8 146.5,104.8" fill="url(#hd1)"/>
<polygon points="163.5,100.0 166.5,100.0 166.5,103.5 163.5,103.5" fill="url(#hd1)"/>
<polygon points="130.5,99.0 132.0,99.0 132.0,104.8 130.5,104.8" fill="url(#hd1)"/>
<polyline points="135.5,96.2 139.0,96.6 143.0,97.5 146.0,98.0 147.5,99.5 148.0,102.0 147.0,104.8" fill="none" stroke="#333" stroke-width="0.6"/>
<rect x="125.0" y="70.6" width="3.0" height="1" fill="url(#sp1)"/>
<rect x="130.0" y="70.6" width="7.0" height="1" fill="url(#sp1)"/>
<rect x="135.0" y="77.7" width="4.0" height="1" fill="url(#sp1)"/>
<rect x="131.0" y="79.3" width="7.0" height="1" fill="url(#sp1)"/>
<rect x="147.0" y="79.3" width="5.0" height="1" fill="url(#sp1)"/>
<rect x="130.0" y="80.5" width="8.0" height="1" fill="url(#sp1)"/>
<rect x="146.0" y="80.5" width="5.0" height="1" fill="url(#sp1)"/>
<rect x="145.0" y="81.7" width="4.0" height="1" fill="url(#sp1)"/>
<rect x="143.0" y="85.5" width="1.0" height="1" fill="url(#sp1)"/>
<rect x="125.0" y="97.0" width="2.0" height="1" fill="url(#sp1)"/>
<rect x="164.0" y="85.8" width="8.0" height="1" fill="url(#sp1)"/>
<rect x="164.0" y="89.7" width="15.0" height="1" fill="url(#sp1)"/>
<rect x="168.0" y="92.2" width="20.0" height="1" fill="url(#sp1)"/>
<rect x="170.0" y="93.4" width="13.0" height="1" fill="url(#sp1)"/>
<rect x="170.0" y="95.9" width="15.0" height="1" fill="url(#sp1)"/>
<rect x="152.0" y="90.5" width="5.0" height="1" fill="url(#sp1)"/>
<rect x="153.0" y="93.0" width="4.0" height="1" fill="url(#sp1)"/>
<rect x="153.0" y="94.8" width="3.0" height="1" fill="url(#sp1)"/>
<rect x="155.0" y="96.5" width="4.0" height="1" fill="url(#sp1)"/>
<rect x="156.0" y="98.0" width="3.0" height="1" fill="url(#sp1)"/>
<rect x="155.0" y="90.0" width="5.0" height="1" fill="url(#sp1)"/>
<rect x="191.0" y="96.0" width="9.0" height="1" fill="url(#sp1)"/>
<rect x="190.0" y="97.2" width="9.0" height="1" fill="url(#sp1)"/>
<rect x="189.0" y="98.4" width="8.0" height="1" fill="url(#sp1)"/>
<rect x="156.0" y="67.0" width="2.0" height="1" fill="url(#sp1)"/>
<rect x="156.0" y="68.5" width="2.0" height="1" fill="url(#sp1)"/>
</g>
<rect x="124.2" y="66.8" width="77.40" height="38.00" fill="none" stroke="#777" stroke-width="0.7"/>
<line x1="122.20" y1="66.80" x2="124.2" y2="66.80" stroke="#444" stroke-width="0.55"/>
<line x1="122.20" y1="81.73" x2="124.2" y2="81.73" stroke="#444" stroke-width="0.55"/>
<line x1="122.20" y1="96.67" x2="124.2" y2="96.67" stroke="#444" stroke-width="0.55"/>
<line x1="123.00" y1="101.15" x2="124.2" y2="101.15" stroke="#444" stroke-width="0.55"/>
<line x1="122.20" y1="104.80" x2="124.2" y2="104.80" stroke="#444" stroke-width="0.55"/>
<line x1="124.20" y1="104.80" x2="124.20" y2="106.50" stroke="#444" stroke-width="0.55"/>
<line x1="141.40" y1="104.80" x2="141.40" y2="106.50" stroke="#444" stroke-width="0.55"/>
<line x1="158.60" y1="104.80" x2="158.60" y2="106.50" stroke="#444" stroke-width="0.55"/>
<line x1="175.80" y1="104.80" x2="175.80" y2="106.50" stroke="#444" stroke-width="0.55"/>
<line x1="193.00" y1="104.80" x2="193.00" y2="106.50" stroke="#444" stroke-width="0.55"/>
<text x="113.2" y="62.40" class="lb">C2b)</text>
<clipPath id="c12"><rect x="219.9" y="66.8" width="77.70" height="38.00"/></clipPath>
<rect x="219.9" y="66.8" width="77.70" height="38.00" fill="#e2d9e2"/>
<g clip-path="url(#c12)">
<path d="M240.4 64.8l58.5 0 0 35.7-4.5 2-5.2 1.7-5.3 1-6 .4-6-.5-5.3-1-5.2-1.7-4.5-2.2-4-3.2-1.3-1.4-1.3-2.3-1-3-1.6-9-1.3-4.6-2.2-5.1-4.1-6.8z" fill="#e1d7dc" fill-rule="evenodd"/>
<path d="M245.6 64.8l53.3 0 0 26.6-4.5 2.6-4.5 1.9-4.5 1.2-4.5 .7-4.5 .1-5.2-.6-4.6-1.2-4.4-1.9-3-1.8-2.3-1.8-2.2-2.6-1.4-2.2-1.7-3.7-5.3-14.3-1-3z" fill="#ded3d4" fill-rule="evenodd"/>
<path d="M249.4 64.8l49.5 0 0 21-3.7 2.9-3.8 2-3.8 1.5-4.4 1-4.6 .4-4.4-.2-3.8-.7-4.5-1.5-3-1.4-3-2.1-2.3-2.2-2.2-3-2.2-4.3-2.6-6.6-1.8-6.8z" fill="#dccdca" fill-rule="evenodd"/>
<path d="M251.6 64.8l47.3 0 0 16.3-3 3-3 2.1-3.7 2-3.8 1.3-3.8 .7-4.4 .2-4.6-.5-3.7-.9-3.7-1.7-3-1.9-2.3-1.9-2.3-2.7-2-3.2-1.9-4.6-1.4-4.4z" fill="#d8c6bd" fill-rule="evenodd"/>
<path d="M254.6 64.8l44.3 0 0 11.7-2.5 3.3-2.8 2.6-3 2-3.7 1.8-3.7 1.1-3.8 .4-4.5-.1-3.7-.8-3.8-1.3-3-1.8-3-2.4-2-2.3-2.3-3.7-1.5-3.7-1.3-5.3-.1-1.5z" fill="#d4bdad" fill-rule="evenodd"/>
<path d="M256.9 64.8l42 0 0 5.6-1.3 3.4-1.9 3-2.8 3-3 2.3-3.7 1.8-3.8 1.1-3.8 .4-3.7-.2-3.7-.9-3.8-1.5-3-2-2.6-2.5-2.1-3-1.8-3.7-1.2-4.6-.1-2.2z" fill="#d1b4a0" fill-rule="evenodd"/>
<path d="M259.2 64.8l38.1 0-.3 3.8-1 3-1.6 3-2.4 3-2.8 2.3-3.8 1.9-3.8 1.1-3.7 .3-3.7-.4-3.8-1.1-3-1.5-3-2.4-2.2-2.7-2-3.5-1.2-4.6-.2-2.2z" fill="#ceab92" fill-rule="evenodd"/>
<path d="M261.4 64.8l33.6 0-.2 3-1.2 3.6-1.4 2.5-2.3 2.6-2.4 1.8-2.9 1.5-3 .9-3.7 .3-3.7-.4-3-.9-3-1.6-2.3-1.9-2-2.4-1.7-3-1-3.8-.2-2.2z" fill="#cca186" fill-rule="evenodd"/>
<path d="M263.6 64.8l29.2 0-.3 3-.7 2.2-1.2 2.3-2.2 2.6-2.2 1.7-2.3 1.1-3 .9-3 .3-3-.3-3-.9-2.3-1.2-2.2-1.9-1.9-2.3-1.2-2.3-1-3.7 0-1.5z" fill="#c99679" fill-rule="evenodd"/>
<path d="M265.9 64.8l24.5 0-.2 2.2-.7 2.3-1.1 2.1-1.5 1.7-2.3 1.8-2.2 1-2.2 .6-2.3 .2-2.3-.2-2.2-.7-2.2-1.1-2.2-1.7-1.2-1.4-1.3-2.3-.8-3-.1-1.5z" fill="#c78c6f" fill-rule="evenodd"/>
<path d="M268.9 64.8l18.9 0-.2 1.8-.6 2-.8 1.4-1.3 1.6-1.7 1.2-1.6 .8-3.7 .6-2.3-.2-2.2-.9-1.5-.9-1.5-1.4-1.1-1.5-.8-2.3-.3-2.2z" fill="#c48267" fill-rule="evenodd"/>
<path d="M271.9 64.8l12.7 0-.4 2.2-1.5 2.3-2.4 1.5-2.4 .4-2.3-.4-2.3-1.5-1.5-2.3-.4-2.2z" fill="#c17960" fill-rule="evenodd"/>
<path d="M232.2 71.3l2.2-.4 3 .7 2.7 2.2 1.9 3 .9 3.8-.3 3-.7 1.9-.7 1.1-2.3 1.6-1.5 .4-1.5 .1-3-1-2.4-1.9-2-3-.7-3 .3-3.8 .6-1.4 1-1.6z" fill="#ddd9e0" fill-rule="evenodd"/>
<polygon points="276.0,104.8 290.0,97.0 291.0,98.0 280.0,104.8" fill="url(#hp2)"/>
<polygon points="276.0,104.8 290.0,97.0 291.0,98.0 280.0,104.8" fill="url(#gd1)"/>
<polygon points="276.0,104.8 290.0,97.0 291.0,98.0 280.0,104.8" fill="url(#hc2)" mask="url(#mg1)"/>
<polygon points="252.0,97.0 254.5,99.0 258.0,101.5 261.0,104.0 261.0,104.8 253.0,104.8 252.5,100.0" fill="url(#hp2)"/>
<polygon points="252.0,97.0 254.5,99.0 258.0,101.5 261.0,104.0 261.0,104.8 253.0,104.8 252.5,100.0" fill="url(#gd1)"/>
<polygon points="252.0,97.0 254.5,99.0 258.0,101.5 261.0,104.0 261.0,104.8 253.0,104.8 252.5,100.0" fill="url(#hc2)" mask="url(#mg1)"/>
<polygon points="234.0,104.8 236.0,102.0 238.0,99.5 240.0,98.0 242.0,99.0 243.0,101.5 242.5,104.8" fill="url(#hd2)"/>
<rect x="231.0" y="79.5" width="1.0" height="1" fill="url(#sp2)"/>
<rect x="228.0" y="89.5" width="4.0" height="1" fill="url(#sp2)"/>
<rect x="230.0" y="92.5" width="1.0" height="1" fill="url(#sp2)"/>
<rect x="248.0" y="66.5" width="1.5" height="1" fill="url(#sp2)"/>
<rect x="248.4" y="69.5" width="1.5" height="1" fill="url(#sp2)"/>
<rect x="248.9" y="72.5" width="1.5" height="1" fill="url(#sp2)"/>
<rect x="249.3" y="75.5" width="1.5" height="1" fill="url(#sp2)"/>
<rect x="249.8" y="78.5" width="1.5" height="1" fill="url(#sp2)"/>
<rect x="250.2" y="81.5" width="1.5" height="1" fill="url(#sp2)"/>
<rect x="250.7" y="84.5" width="1.5" height="1" fill="url(#sp2)"/>
<rect x="251.2" y="87.5" width="1.5" height="1" fill="url(#sp2)"/>
<rect x="251.6" y="90.5" width="1.5" height="1" fill="url(#sp2)"/>
<rect x="252.1" y="93.5" width="1.5" height="1" fill="url(#sp2)"/>
<rect x="252.5" y="96.5" width="1.5" height="1" fill="url(#sp2)"/>
</g>
<rect x="219.9" y="66.8" width="77.70" height="38.00" fill="none" stroke="#777" stroke-width="0.7"/>
<line x1="217.90" y1="66.80" x2="219.9" y2="66.80" stroke="#444" stroke-width="0.55"/>
<line x1="217.90" y1="81.73" x2="219.9" y2="81.73" stroke="#444" stroke-width="0.55"/>
<line x1="217.90" y1="96.67" x2="219.9" y2="96.67" stroke="#444" stroke-width="0.55"/>
<line x1="218.70" y1="101.15" x2="219.9" y2="101.15" stroke="#444" stroke-width="0.55"/>
<line x1="217.90" y1="104.80" x2="219.9" y2="104.80" stroke="#444" stroke-width="0.55"/>
<line x1="219.90" y1="104.80" x2="219.90" y2="106.50" stroke="#444" stroke-width="0.55"/>
<line x1="237.17" y1="104.80" x2="237.17" y2="106.50" stroke="#444" stroke-width="0.55"/>
<line x1="254.43" y1="104.80" x2="254.43" y2="106.50" stroke="#444" stroke-width="0.55"/>
<line x1="271.70" y1="104.80" x2="271.70" y2="106.50" stroke="#444" stroke-width="0.55"/>
<line x1="288.97" y1="104.80" x2="288.97" y2="106.50" stroke="#444" stroke-width="0.55"/>
<text x="208.9" y="62.40" class="lb">C3b)</text>
<clipPath id="c13"><rect x="315.5" y="66.8" width="78.00" height="38.00"/></clipPath>
<rect x="315.5" y="66.8" width="78.00" height="38.00" fill="#e2d9e2"/>
<g clip-path="url(#c13)">
<path d="M346.5 64.9l48.7-.1 0 29.9-4.4 2-6 1.6-5.3 .9-6.7 .3-6-.5-5.3-1.1-5.3-1.7-4.4-2.3-3.8-2.8-2.8-3.1-2.3-3.7-1.4-4.5-.2-4.5 .9-3.7 1.9-3.8z" fill="#ddd9e0" fill-rule="evenodd"/>
<path d="M354 65.5l.9-.7 36.2 0 2.7 2.2 1.4 1.7 0 20.9-3 2.5-3.7 1.8-5.3 1.4-6 .8-6-.1-5.2-.8-5.2-1.5-3.8-1.8-3.8-2.9-2.6-3.2-1.9-3.8-.9-3.7 0-3 1.2-3.7 1.9-3z" fill="#d6d7dd" fill-rule="evenodd"/>
<path d="M359.2 65.5l1.3-.7 25 0 3 1.8 2.3 2 1.8 2.2 1.2 2.2 .7 2.3 .1 3-.7 6.7-.6 2.3-.9 1.5-2.6 2.2-3.6 1.7-3.7 1-5.3 .7-5.2-.1-4.5-.6-4.5-1.4-4-2-2.8-2.4-2.6-3.6-1.7-3.7-.5-3.8 .5-3 1.5-3 2.6-3z" fill="#cdd3d8" fill-rule="evenodd"/>
<path d="M364.5 65.4l2.1-.6 12.8 0 4.6 1.7 4.1 2.8 1.4 1.5 1.4 2.2 .9 3.8-.7 9-.5 1.5-1 1.5-2.6 2-3.8 1.4-4.4 .8-4.6 .2-4.4-.5-4.6-1.1-3-1.4-2.8-2.2-2.4-3-1.9-3.7-.8-3 .1-3 1.1-3 2.3-2.9 3-2.2z" fill="#c2ced4" fill-rule="evenodd"/>
<path d="M368.2 66.2l3-.5 3 0 5.3 .9 4.5 2 1.9 1.4 1.4 1.6 1.7 3 .4 3.7-.5 7.5-.6 1.5-1.3 1.6-2.3 1.5-3.7 1.2-3.8 .5-4.4-.1-3.8-.6-3.3-1.1-2.7-1.5-2.4-2.2-2-3.1-1.6-3.7-.4-3 .7-3 1.4-2.2 2.8-2.6 3-1.7z" fill="#b5c7cf" fill-rule="evenodd"/>
<path d="M368.2 67.8l5.3-.6 4.5 .7 2.2 .7 2.3 1.2 2.9 2.5 1.5 3 .4 3-.5 7.5-.7 1.5-1.4 1.5-2.2 1.2-3 .8-3.7 .4-3.8-.3-3-.6-3-1.3-2.2-1.6-1.4-1.6-1.9-3-1.2-3-.4-3 .4-2.2 1.3-2.3 1.6-1.6 3-1.9z" fill="#a9c1cb" fill-rule="evenodd"/>
<path d="M369 69.2l4.5-.5 3.7 .6 3.7 1.5 2.6 2.2 1.2 2.3 .4 3-.4 7.5-.8 1.5-.7 .7-1.4 .9-2.3 .8-3 .5-3-.1-2.9-.5-2.1-.8-2.4-1.5-1.4-1.5-1.9-3-1.4-3-.4-2.2 .3-2.3 1.2-2.3 1.5-1.4 2.5-1.6z" fill="#9dbac8" fill-rule="evenodd"/>
<path d="M369.8 70.7l3.7-.4 3.7 .6 2.8 1.4 2.1 2.3 .6 1.4 .2 1.6-.3 7.4-.6 1.6-1.7 1.4-2.1 .8-1.7 .2-4.5-.3-3.2-1.4-1.7-1.5-1.1-1.5-2.3-4.5-.5-2.2 .1-1.6 .6-1.4 1.3-1.7 2.1-1.3z" fill="#92b3c6" fill-rule="evenodd"/>
<path d="M371.2 72.2l3-.1 3 .9 2.1 1.6 .9 1.4 .3 2.3-.6 6.7-.9 1.6-1 .5-1.5 .4-2.3 .1-1.4-.3-1.8-.7-2-2-2.8-4.8-.6-2.3 .6-2.2 2-2.1z" fill="#87abc4" fill-rule="evenodd"/>
<path d="M372 74.4l1.5 0 1.5 .3 1.5 1 .6 1.1 .2 1.5-.8 2.3-1.5 2.7-.8 .3-1.4-.6-1.6-1.4-1.4-1.7-.8-1.6-.1-1.5 .4-.8 1.2-1z" fill="#7ea4c3" fill-rule="evenodd"/>
<polygon points="316.0,92.0 343.0,92.0 343.0,100.0 338.5,104.8 323.5,104.8 322.0,99.0 319.5,96.5 316.0,95.0" fill="url(#hp3)"/>
<polygon points="316.0,92.0 343.0,92.0 343.0,100.0 338.5,104.8 323.5,104.8 322.0,99.0 319.5,96.5 316.0,95.0" fill="url(#gd1)"/>
<polygon points="316.0,92.0 343.0,92.0 343.0,100.0 338.5,104.8 323.5,104.8 322.0,99.0 319.5,96.5 316.0,95.0" fill="url(#hc3)" mask="url(#mg1)"/>
<polygon points="350.0,92.0 393.5,92.0 393.5,101.0 390.0,101.0 390.0,104.8 388.0,104.8 388.0,100.0 372.0,101.0 372.0,103.0 366.0,103.0 366.0,104.8 356.0,104.8 356.0,101.0 350.0,101.0" fill="url(#hp3)"/>
<polygon points="350.0,92.0 393.5,92.0 393.5,101.0 390.0,101.0 390.0,104.8 388.0,104.8 388.0,100.0 372.0,101.0 372.0,103.0 366.0,103.0 366.0,104.8 356.0,104.8 356.0,101.0 350.0,101.0" fill="url(#gd1)"/>
<polygon points="350.0,92.0 393.5,92.0 393.5,101.0 390.0,101.0 390.0,104.8 388.0,104.8 388.0,100.0 372.0,101.0 372.0,103.0 366.0,103.0 366.0,104.8 356.0,104.8 356.0,101.0 350.0,101.0" fill="url(#hc3)" mask="url(#mg1)"/>
<rect x="316.0" y="66.7" width="29.0" height="1" fill="url(#sp3)"/>
<rect x="316.0" y="69.5" width="29.0" height="1" fill="url(#sp3)"/>
<rect x="316.0" y="70.9" width="29.0" height="1" fill="url(#sp3)"/>
<rect x="316.0" y="75.7" width="29.0" height="1" fill="url(#sp3)"/>
<rect x="316.0" y="77.8" width="29.0" height="1" fill="url(#sp3)"/>
<rect x="316.0" y="79.9" width="29.0" height="1" fill="url(#sp3)"/>
<rect x="316.0" y="81.1" width="29.0" height="1" fill="url(#sp3)"/>
<rect x="316.0" y="85.9" width="29.0" height="1" fill="url(#sp3)"/>
<rect x="316.0" y="89.8" width="29.0" height="1" fill="url(#sp3)"/>
<rect x="349.0" y="66.7" width="44.5" height="1" fill="url(#sp3)"/>
<rect x="349.0" y="69.5" width="44.5" height="1" fill="url(#sp3)"/>
<rect x="349.0" y="70.9" width="44.5" height="1" fill="url(#sp3)"/>
<rect x="349.0" y="75.7" width="44.5" height="1" fill="url(#sp3)"/>
<rect x="349.0" y="77.8" width="44.5" height="1" fill="url(#sp3)"/>
<rect x="349.0" y="79.9" width="44.5" height="1" fill="url(#sp3)"/>
<rect x="349.0" y="81.1" width="44.5" height="1" fill="url(#sp3)"/>
<rect x="349.0" y="85.9" width="44.5" height="1" fill="url(#sp3)"/>
<rect x="349.0" y="89.8" width="44.5" height="1" fill="url(#sp3)"/>
</g>
<rect x="315.5" y="66.8" width="78.00" height="38.00" fill="none" stroke="#777" stroke-width="0.7"/>
<line x1="313.50" y1="66.80" x2="315.5" y2="66.80" stroke="#444" stroke-width="0.55"/>
<line x1="313.50" y1="81.73" x2="315.5" y2="81.73" stroke="#444" stroke-width="0.55"/>
<line x1="313.50" y1="96.67" x2="315.5" y2="96.67" stroke="#444" stroke-width="0.55"/>
<line x1="314.30" y1="101.15" x2="315.5" y2="101.15" stroke="#444" stroke-width="0.55"/>
<line x1="313.50" y1="104.80" x2="315.5" y2="104.80" stroke="#444" stroke-width="0.55"/>
<line x1="315.50" y1="104.80" x2="315.50" y2="106.50" stroke="#444" stroke-width="0.55"/>
<line x1="332.83" y1="104.80" x2="332.83" y2="106.50" stroke="#444" stroke-width="0.55"/>
<line x1="350.17" y1="104.80" x2="350.17" y2="106.50" stroke="#444" stroke-width="0.55"/>
<line x1="367.50" y1="104.80" x2="367.50" y2="106.50" stroke="#444" stroke-width="0.55"/>
<line x1="384.83" y1="104.80" x2="384.83" y2="106.50" stroke="#444" stroke-width="0.55"/>
<text x="304.7" y="62.40" class="lb">C4b)</text>
<clipPath id="c14"><rect x="411.5" y="66.8" width="78.00" height="38.00"/></clipPath>
<rect x="411.5" y="66.8" width="78.00" height="38.00" fill="#e2d9e2"/>
<g clip-path="url(#c14)">
<path d="M449.2 64.8l42 0 0 22.4-4.4 1.5-6 .7-10.6-.7-8.2 .6-3.8 0-3.7-.7-2.3-.9-1.4-1.1-1.6-1.6-1-2.2-.4-2.1-.1-3.1 .6-9 .5-3.8zM410.2 79.2l1.6 0 2 .6 1.1 .8 1.3 1.4 .6 1.6 .1 1.4-.7 1.5-.8 .8-1.4 .6-1.5 .2-1.5-.2-1.5-.5 0-8.1z" fill="#e1d7dc" fill-rule="evenodd"/>
<path d="M450 64.8l41.2 0 0 18.2-4.4 1.9-5.3 .8-12-.7-10.5 .8-3-.4-2.2-.8-1.8-1-1.5-1.6-.9-1.4-.7-2.3-.3-3 .1-4.5 .5-3.7z" fill="#ded3d4" fill-rule="evenodd"/>
<path d="M450.8 65.5l.4-.7 40 0 0 15.6-2.2 1.4-2.2 .9-5.3 1-3 0-9-.7-9.7 .8-2.3-.2-2.3-.6-2.2-1.2-1.4-1.2-1-1.6-.9-2.2-.4-3 .1-3 .4-3z" fill="#dccdca" fill-rule="evenodd"/>
<path d="M452.2 65.1l.4-.3 38.4 0 .2 .2 0 13.4-2.2 1.6-2.2 1.1-2.3 .7-3 .4-3 .1-9-.7-9.7 .6-3.8-.6-2.2-1.1-1.6-1.3-1-1.7-.9-2.2-.3-3 .2-3 .7-2.3z" fill="#d8c6bd" fill-rule="evenodd"/>
<path d="M453.8 65l.3-.2 34.7 0 2.4 1.8 0 9.9-2 1.8-2.4 1.4-2.3 .8-3 .5-3.7 .1-8.3-.6-9 .5-3.7-.6-2.3-1-1.5-1.2-1.5-2.2-.7-2.2-.1-3 .4-2.2 1.1-2.2z" fill="#d4bdad" fill-rule="evenodd"/>
<path d="M454.5 65.5l1.4-.7 30.8 0 2.5 1.5 2 2.2 0 5.8-1.4 2-2.3 1.7-2.3 1.1-3 .8-3.7 .2-9.7-.6-8.3 .3-3-.3-2.3-.9-1.4-1.1-1.6-2-.7-2.2-.2-2.5 .6-2.2 1.1-1.9z" fill="#d1b4a0" fill-rule="evenodd"/>
<path d="M456.8 65.2l1.3-.4 26.4 0 3 1.5 1.8 1.5 1.3 2.2 .1 2.3-1 2.3-2.2 2.2-2.3 1.2-3 .9-3.7 .3-8.3-.5-9 .2-3-.3-2.2-.8-2.2-1.7-1.1-1.5-.6-2.3 .1-2.3 .9-2.2 1.6-1.5z" fill="#ceab92" fill-rule="evenodd"/>
<path d="M458.2 65.5l3-.7 20.8 0 3.2 1.2 2.7 1.8 1.5 2.2 .1 2.3-1.2 2.3-1.5 1.5-2.3 1.2-3 .9-3.7 .2-7.6-.4-8.2 0-3-.2-2.2-.7-2.3-1.6-1.2-1.7-.5-2.2 .4-2.3 .9-1.5 1.9-1.4z" fill="#cca186" fill-rule="evenodd"/>
<path d="M461.2 65.4l5.2-.6 11.9 0 3.2 .6 3 1.1 2.3 1.5 1.4 2 .1 2.3-.7 1.5-1.6 1.6-2.2 1.3-3 .7-3.8 .2-7.5-.4-7.5 0-3-.3-2.2-.8-2-1.5-1.1-2.3 .1-2.1 .7-1.6 1.5-1.4 2.2-1.1z" fill="#c99679" fill-rule="evenodd"/>
<path d="M465 65.5l9.8-.4 3.7 .3 3 .7 2.4 .9 2.1 1.6 1 1.4 .1 2.3-.8 1.5-1.8 1.5-2.3 1-2.2 .5-3 .1-14.2-.4-3.8-.5-2.2-1-1.9-2-.4-2.2 .5-1.5 1.5-1.5 1.7-.9 3-.9z" fill="#c78c6f" fill-rule="evenodd"/>
<path d="M463.5 66.2l9.7-.5 3.8 .2 3 .5 2.2 .7 2.4 1.5 1.2 1.4 .2 .8-.2 1.5-.9 1.5-1.1 .9-2.3 1-2.3 .4-2.9 .1-12.8-.4-3.7-.5-2.3-.9-1.4-1.4-.6-1.4 .2-1.6 1.1-1.4 1.4-1 2.3-.8z" fill="#c48267" fill-rule="evenodd"/>
<path d="M469.5 66.3l6.7 .1 3 .5 2.3 .7 1.7 1 1.3 1.4 .2 .8-.2 1.5-1.2 1.5-1.3 .8-2 .6-2.2 .3-14.3-.4-2.3-.3-2.2-.7-1.6-1.1-.8-1.4 .3-1.6 1.3-1.4 1.6-.8 2.7-.8z" fill="#c17960" fill-rule="evenodd"/>
<path d="M467.2 67l6.8-.1 5.2 .7 2.3 .9 1 .8 .6 .7 .3 1.6-.9 1.4-1 .8-1.5 .5-2.2 .4-12.8-.3-4.2-.6-1.8-.9-1-1.3 .2-1.6 .7-.7 1.2-.7 2.2-.8z" fill="#be6f5b" fill-rule="evenodd"/>
<path d="M466.5 67.8l6.7-.3 4.6 .5 3 1.3 .8 .7 .3 1.5-.4 .8-1 .7-2 .8-1.5 .2-9.8-.3-5.2-.6-1.7-.8-.6-.7-.1-.8 .3-.8 .9-.7 1.8-.7z" fill="#b96456" fill-rule="evenodd"/>
<path d="M467.2 68.5l5.3-.3 3.7 .4 2.4 .7 1 .7 .4 .8-.1 .8-1.4 1-3 .6-6-.2-5.9-.7-1.4-.7-.3-.8 .5-.8 1.4-.7z" fill="#b55b53" fill-rule="evenodd"/>
<path d="M471 69.3l3.8 .2 1.8 .5 .6 .8-.5 .8-1.9 .4-3 0-4.2-.4-1.5-.8 .7-.8z" fill="#af5251" fill-rule="evenodd"/>
<path d="M410.2 64.8l37.5 0-.2 6-.5 4.5-1.5 6.1-1.5 4-1.5 1.9-1.5 1-2.2 .9-2.3 .5-3.7 .3-3-.1-2.3-.5-2.3-.9-2.2-2-3.2-5.2-2.8-3.2-3-2.2-4.5-2.1 0-9z" fill="#ddd9e0" fill-rule="evenodd"/>
<path d="M412.5 65.2l1.2-.4 32.8 0 .4 2.2 0 3-.3 3-.7 3-1.1 2.7-1.6 2.1-1.4 1.5-2.3 1.3-2.3 .8-3 .5-3-.1-3-.5-2.2-1-2.2-1.7-6.8-7.3-6.8-4.4-.7-1.2 0-1 1.1-1.4z" fill="#d6d7dd" fill-rule="evenodd"/>
<path d="M419.2 65.4l3.5-.6 22.6 0 .8 2.2 .2 2.3-.3 3-.5 2.3-.7 1.7-1.6 2.1-1.4 1.4-2.3 1.2-2.3 .7-3 .3-3-.2-2.2-.5-2.2-1.1-1.6-1-5.2-5.9-5.8-4-.3-.7 .1-.8 .7-.8 1.5-.8z" fill="#cdd3d8" fill-rule="evenodd"/>
<path d="M426.7 65.5l1.8-.7 15.6 0 1.2 2.2 .3 2.3-.2 3-1.1 3-1.1 1.4-1.4 1.4-1.6 .8-2.2 .8-2.2 .3-3-.2-2.3-.5-2.2-1-2.3-1.9-3-3.9-3.6-3.2-.3-.7 .6-.8 1.1-.5z" fill="#c2ced4" fill-rule="evenodd"/>
<path d="M430.5 65.3l1.3-.5 10.8 0 1.4 1.5 .7 1.5 .2 1.5-.2 3-1.5 3-1.4 1.4-1.6 .9-3.7 .9-3.7-.4-2.3-.9-1.5-.9-1.5-1.5-1.1-1.8-1.2-2.2-.4-1.5 .4-.7 .8-.8z" fill="#b5c7cf" fill-rule="evenodd"/>
<path d="M432.8 65.5l2.1-.7 5.6 0 2 1.1 1.3 1.9 .4 2.2-.3 2.3-1.4 2.5-2.3 1.6-1.4 .6-2.3 .2-3.7-.7-1.6-.7-1.4-1.2-1.2-1.6-.6-1.4-.1-2.3 .4-.7 1.6-1.6z" fill="#a9c1cb" fill-rule="evenodd"/>
<path d="M435.8 65.5l2.2-.2 2.2 .4 2.1 1.3 .9 1.6 .2 2.2-.7 2.3-1.3 1.5-1.9 1.1-3 .4-3-.7-2.3-1.6-1.3-2.2 .1-2.3 1.1-1.5 2.4-1.5z" fill="#9dbac8" fill-rule="evenodd"/>
<path d="M437.2 66.2l2.3 .2 1.5 .7 1.2 1.5 .4 2.2-.5 1.5-1.2 1.5-2.1 1-2.3 .2-2.3-.6-1.4-1.1-1.2-1.7-.1-1.6 .8-1.4 1.2-1.1 1.5-.8z" fill="#92b3c6" fill-rule="evenodd"/>
<path d="M435.8 67.6l1.4-.4 1.6 .1 1.4 .5 .8 .8 .4 .7 .1 1.5-.5 1.4-.8 .8-1.4 .7-2.3 .1-1.5-.5-1.2-1-.7-1.5 .4-1.5 .7-.9z" fill="#87abc4" fill-rule="evenodd"/>
<path d="M437.2 68.5l1.6 .1 1 .7 .3 .7-.4 1.6-.9 .7-2.3 0-1.1-.7-.3-.8 0-.8 .5-.7z" fill="#7ea4c3" fill-rule="evenodd"/>
<polygon points="420.0,98.0 425.0,98.0 428.0,104.8 420.0,104.8" fill="url(#hp4)"/>
<polygon points="420.0,98.0 425.0,98.0 428.0,104.8 420.0,104.8" fill="url(#gd1)"/>
<polygon points="420.0,98.0 425.0,98.0 428.0,104.8 420.0,104.8" fill="url(#hc4)" mask="url(#mg1)"/>
<polygon points="424.0,92.0 436.0,92.0 441.0,104.8 436.0,104.8" fill="url(#hp4)"/>
<polygon points="424.0,92.0 436.0,92.0 441.0,104.8 436.0,104.8" fill="url(#gd1)"/>
<polygon points="424.0,92.0 436.0,92.0 441.0,104.8 436.0,104.8" fill="url(#hc4)" mask="url(#mg1)"/>
<polygon points="444.0,91.0 451.0,91.0 455.0,93.0 458.0,96.0 461.0,100.0 465.0,99.0 470.0,97.0 475.0,95.0 478.0,93.0 483.0,92.0 489.5,91.0 489.5,104.8 449.0,104.8 447.0,98.0 444.0,98.0" fill="url(#hp4)"/>
<polygon points="444.0,91.0 451.0,91.0 455.0,93.0 458.0,96.0 461.0,100.0 465.0,99.0 470.0,97.0 475.0,95.0 478.0,93.0 483.0,92.0 489.5,91.0 489.5,104.8 449.0,104.8 447.0,98.0 444.0,98.0" fill="url(#gd1)"/>
<polygon points="444.0,91.0 451.0,91.0 455.0,93.0 458.0,96.0 461.0,100.0 465.0,99.0 470.0,97.0 475.0,95.0 478.0,93.0 483.0,92.0 489.5,91.0 489.5,104.8 449.0,104.8 447.0,98.0 444.0,98.0" fill="url(#hc4)" mask="url(#mg1)"/>
<rect x="412.0" y="66.8" width="28.0" height="1" fill="url(#sp4)"/>
<rect x="412.0" y="69.5" width="28.0" height="1" fill="url(#sp4)"/>
<rect x="412.0" y="70.9" width="3.0" height="1" fill="url(#sp4)"/>
<rect x="425.0" y="70.9" width="15.0" height="1" fill="url(#sp4)"/>
<rect x="412.0" y="75.7" width="7.0" height="1" fill="url(#sp4)"/>
<rect x="427.0" y="75.7" width="10.0" height="1" fill="url(#sp4)"/>
<rect x="413.0" y="78.0" width="2.0" height="1" fill="url(#sp4)"/>
<rect x="427.0" y="78.0" width="10.0" height="1" fill="url(#sp4)"/>
<rect x="426.0" y="80.1" width="11.0" height="1" fill="url(#sp4)"/>
<rect x="426.0" y="81.1" width="11.0" height="1" fill="url(#sp4)"/>
<rect x="422.0" y="85.9" width="11.0" height="1" fill="url(#sp4)"/>
<rect x="424.0" y="92.3" width="12.0" height="1" fill="url(#sp4)"/>
<rect x="416.0" y="94.0" width="4.0" height="1" fill="url(#sp4)"/>
<rect x="449.0" y="85.9" width="2.0" height="1" fill="url(#sp4)"/>
<rect x="484.0" y="89.5" width="5.5" height="1" fill="url(#sp4)"/>
<rect x="444.0" y="66.8" width="45.5" height="1" fill="url(#sp4)"/>
<rect x="444.0" y="69.5" width="45.5" height="1" fill="url(#sp4)"/>
<rect x="444.0" y="70.9" width="45.5" height="1" fill="url(#sp4)"/>
<rect x="444.0" y="75.7" width="45.5" height="1" fill="url(#sp4)"/>
<rect x="444.0" y="78.0" width="45.5" height="1" fill="url(#sp4)"/>
<rect x="444.0" y="80.1" width="45.5" height="1" fill="url(#sp4)"/>
</g>
<rect x="411.5" y="66.8" width="78.00" height="38.00" fill="none" stroke="#777" stroke-width="0.7"/>
<line x1="409.50" y1="66.80" x2="411.5" y2="66.80" stroke="#444" stroke-width="0.55"/>
<line x1="409.50" y1="81.73" x2="411.5" y2="81.73" stroke="#444" stroke-width="0.55"/>
<line x1="409.50" y1="96.67" x2="411.5" y2="96.67" stroke="#444" stroke-width="0.55"/>
<line x1="410.30" y1="101.15" x2="411.5" y2="101.15" stroke="#444" stroke-width="0.55"/>
<line x1="409.50" y1="104.80" x2="411.5" y2="104.80" stroke="#444" stroke-width="0.55"/>
<line x1="411.50" y1="104.80" x2="411.50" y2="106.50" stroke="#444" stroke-width="0.55"/>
<line x1="428.83" y1="104.80" x2="428.83" y2="106.50" stroke="#444" stroke-width="0.55"/>
<line x1="446.17" y1="104.80" x2="446.17" y2="106.50" stroke="#444" stroke-width="0.55"/>
<line x1="463.50" y1="104.80" x2="463.50" y2="106.50" stroke="#444" stroke-width="0.55"/>
<line x1="480.83" y1="104.80" x2="480.83" y2="106.50" stroke="#444" stroke-width="0.55"/>
<text x="400.5" y="62.40" class="lb">C5b)</text>
<clipPath id="c20"><rect x="28.3" y="119.3" width="77.10" height="37.70"/></clipPath>
<rect x="28.3" y="119.3" width="77.10" height="37.70" fill="#e2d9e2"/>
<g clip-path="url(#c20)">
<path d="M72.8 117.3l34.5 0 0 41.3-18.2 0-2.4-5.3-2.4-4.5-7.2-10.5-1.9-3.7-1.1-3.8-1.1-6.8-.8-6.7zM27 118.2l3.8 .1 3 1.3 12 10.9 1.5 1 2.3 .5 5.6 .3 1.7 .7 .6 .8 .5 1.5-.6 2.3-6 9.7-2.1 4.5-2.6 6.8-19.2 0 1.1-2.3 1.3-1.5 5.4-4 2.9-2.8 1.6-3 .3-2.2-.3-1.1-.8-.9-2.2-.7-3 0-7.5 .5 0-22.3z" fill="#e1d7dc" fill-rule="evenodd"/>
<path d="M73.6 117.3l33.7 0 0 39.6-3.1 1.7-11.8 0-2.4-2.2-11.7-17.4-2.1-3.7-1.5-4.5-1.4-7.5-.5-6zM27.1 120.1l2.2-.2 2.3 .3 1.4 .4 2.3 1.3 6 5.1 4.5 5.6 .8 .6 1.4 .4 6-.2 1.4 .4 .9 .9 .3 1.3-.7 2.3-4.4 7.5-6.3 12.8-13.7 0 .6-2.3 .8-1.5 5.4-5.7 1.8-2.5 1.1-3 .1-2.3-.2-.7-.7-.8-2.1-.5-12 .7 0-19.7z" fill="#ded3d4" fill-rule="evenodd"/>
<path d="M73.6 117.3l33 0 .7 1.7 0 34.9-2.3 1.4-3 1.3-3 .7-2.2 .1-3.8-.9-2.2-1.5-1.5-1.5-9.9-13.7-2.6-4.5-1.3-3.7-1.6-7.6-.5-3.7zM28.6 121l3 .2 3 1.1 3 2.1 2.9 2.6 1.8 2.3 1.1 2.3 .4 3-.2 1.4-.4 .8-2.6 .9-5.3 1.1-5.2 .7-3.8 0 0-18.2zM50.3 135.2l2.3-.2 1.2 .3 .8 .7 .2 1.6-1.3 3-6.9 13.6-1.6 2.4-1.6 2-9 0 0-2.3 1-2.3 4.7-6 1.7-3 2.3-7.4 1.7-1z" fill="#dccdca" fill-rule="evenodd"/>
<path d="M74.3 117.3l30.2 0 2.8 6.3 0 28.1-2.3 1.6-2.2 1.1-3 .9-2.2 .3-2.3-.2-2.3-.7-1.4-.8-2.3-1.8-3-3.6-5.2-7.2-3.6-6-1.3-3.7-2-8.3-.3-3.7 .2-2.3zM28.6 121.8l3 .2 3 1 3 2 2.7 2.8 1.4 2.2 .5 2.3-.6 2.3-1.2 1.4-2.8 1.5-3.8 1-4.5 .6-3-.1 0-16.9zM50.3 137.5l1.5 .1 .6 .7 0 1.5-2.1 5.1-4.5 8.7-2.2 2.9-2.3 1.6-1.2 .5-1.9 0-.6-.4-.8-1.1-.1-.8 .4-2.3 4.5-6.7 3.2-6 1-1.3 1.5-1.3z" fill="#d8c6bd" fill-rule="evenodd"/>
<path d="M75 117.3l27.7 0 4.6 9.8 0 22.6-2.3 1.8-2.2 1.3-2.3 .8-2.9 .5-2.3-.1-2.3-.7-2.2-1.2-2.2-2-3-3.6-4.3-5.9-1.9-3-1.5-3-3.2-11.3-.3-3.7 .3-2.3zM27.8 122.5l3 0 3 .8 2.6 1.5 2.5 2.2 1.6 2.3 .6 2.3-.5 2.2-1.1 1.5-2.2 1.5-3.5 1.2-3.8 .7-3.7-.1 0-15.9zM48 141l.8-.2 .8 .2 .1 1.8-.9 2.8-2.2 4.7-1.6 2.4-2.2 2.4-1.5 .7-1.5-.1-.6-.9 0-.8 .8-2.2 5.8-9z" fill="#d4bdad" fill-rule="evenodd"/>
<path d="M75.8 117.3l25.3 0 6.2 12.6 0 17.9-.9 1-2.1 1.7-2.3 1.2-3 1-2.2 .2-2.2-.3-2.3-.8-1.5-.9-2.2-1.9-3-3.4-3.1-4.3-2.4-3.7-1.4-3-3.7-12 0-3.8 .3-1.5zM27 123.1l3-.2 3 .7 3 1.5 2.2 1.9 1.5 2.3 .4 2.3-.6 2.2-1.3 1.5-2.3 1.5-2.9 1-3.7 .6-3-.2 0-14.9zM45 148l.1 .8-.8 1.4-.4-.6zM43.6 150.1l.4 .2-.4 .3z" fill="#d1b4a0" fill-rule="evenodd"/>
<path d="M75.8 117.9l.2-.6 23.7 0 7.6 15.2 0 13.3-1.8 2.2-1.9 1.6-2.3 1.2-2.3 .7-2.2 .3-2.2-.3-2.3-.7-1.5-.9-2.2-1.8-4.9-6.1-2.4-3.7-1.6-3-4.1-12-.2-3zM27 123.6l3-.2 2.3 .4 3 1.4 2.2 1.8 1.4 2.3 .4 2.3-.8 2.2-1.3 1.5-1.9 1.2-3 1.1-3 .4-3-.2 0-14z" fill="#ceab92" fill-rule="evenodd"/>
<path d="M76.6 117.7l.1-.4 21.6 0 2.2 3.7 4.9 9.8 1.9 4.7 0 7.9-1.3 2.4-1.7 1.9-1.5 1.2-2.2 1.1-2.3 .6-2.3 .1-2.2-.3-2.2-1-3.8-3-4.5-5.8-3.1-6-4.2-12-.1-2.3zM27 124l3.1-.2 2.9 .7 2.3 1.3 2.1 2 .8 1.5 .4 2.3-.9 2.2-1.5 1.5-2.4 1.4-2.2 .7-3 .3-2.3-.2 0-13.3z" fill="#cca186" fill-rule="evenodd"/>
<path d="M77.3 117.6l.2-.3 19.4 0 2.4 3.7 5.4 10.6 1.9 5.2 .3 3-.5 3-1.1 2.2-1.7 2-1.5 1.2-2.3 1-2.2 .5-2.3 0-2.3-.5-1.4-.7-2.3-1.6-1.9-1.9-2.8-3.7-2.3-3.7-1.3-3.1-1.7-5.2-2.4-5.3-.5-2.2 0-1.5zM27 124.4l3-.2 2.3 .5 2.3 1.1 2.2 2 .8 1.5 .3 2.3-1 2.2-1.5 1.5-2.4 1.3-2.2 .6-2.2 .2-2.3-.3 0-12.5z" fill="#c99679" fill-rule="evenodd"/>
<path d="M78 117.6l.3-.3 17.3 0 2.6 3.7 5.1 9.8 1.4 3 1 3 .2 3-.3 2.2-1 2.3-2 2.3-1.3 .9-2.3 1-2.2 .4-2.2-.2-2.3-.7-1.5-.8-1.7-1.4-2.1-2.1-2.2-3.1-1.7-3-1.2-3-1.7-5.3-2.9-5.9-.3-3.1zM27 124.8l2.3-.2 3 .5 2.3 1.2 1.5 1.5 .9 1.5 .3 2.3-1 2.2-1.7 1.5-1.6 .9-2.2 .7-2.2 .2-2.3-.3 0-11.8z" fill="#c78c6f" fill-rule="evenodd"/>
<path d="M78.8 117.8l.4-.5 15.2 0 .9 1 1.8 2.7 5.7 10.9 1.9 4.9 .3 3-.4 2.2-1 2.1-1.6 1.7-1.4 1-2.3 .9-1.5 .3-2.2-.2-2.3-.7-1.5-.8-1.5-1.3-2.1-2.2-3.3-5.2-2.8-8.3-3.2-6-.4-1.5 .1-1.5 .4-1.4zM27 125.1l2.3-.2 2.3 .4 2.2 1 1.7 1.5 .9 1.5 .3 2.3-.6 1.4-1.2 1.6-1.9 1.2-2.2 .7-2.2 .2-2.3-.3 0-11z" fill="#c48267" fill-rule="evenodd"/>
<path d="M79.6 118l.7-.7 12.7 0 2.2 2.2 1.4 2.3 5.4 10.6 1.8 4.4 .2 2.2-.2 2.3-1.1 2.3-1.4 1.5-3 1.7-1.5 .2-2.2 0-2.3-.8-1.5-.8-3-2.9-1.5-2-1.6-2.9-2.6-8.3-3.2-5.3-.6-1.4-.1-2.3 .6-1.4zM27 125.5l2.3-.2 2.3 .3 1.5 .7 1.9 1.5 .9 1.5 .2 2.3-.5 1.4-1.3 1.6-1.3 .8-2.2 .8-2.2 .2-2.3-.3 0-10.4z" fill="#c17960" fill-rule="evenodd"/>
<path d="M81 117.7l.8-.4 9.6 0 1.6 1.1 1.9 1.9 6.5 12.7 1.4 3.8 .3 2.2-.4 2.3-1.2 2.3-1.7 1.4-3 1.1-2.2 0-1.6-.4-3-1.9-2.8-3.2-2.3-4.6-2.2-7.4-3-4.6-.7-1.4-.2-1.6 .5-1.4zM27.1 125.8l2.2-.2 2.3 .4 1.9 1 1.5 1.6 .6 1.4 0 1.6-.6 1.4-1.3 1.6-1.4 .8-2.3 .6-2.2 .1-1.5-.3 0-9.7z" fill="#be6f5b" fill-rule="evenodd"/>
<path d="M82.6 117.8l2.1-.5 3.5 0 1.8 .4 1.6 .6 1.5 1 1.9 2.5 2.9 6.8 3.2 6 .9 3 0 2.2-.4 1.5-1.1 1.8-1.4 1.2-1.5 .7-1.5 .2-3.1-.5-2.9-1.9-2.5-3-1.8-3.8-2-7.4-.8-1.6-2.7-3.5-.7-1.7 .2-1.5 .4-.7 .8-.9zM27 126.2l2.3-.3 2 .4 1.7 .9 1.5 1.4 .6 1.4 .1 1.6-.7 1.4-1.5 1.6-2.9 1.1-2.3 .1-1.5-.4 0-9z" fill="#b96456" fill-rule="evenodd"/>
<path d="M82.6 118.8l3-.7 4.4 .4 2.3 1.1 2 2.2 1.1 2.2 1.8 5.3 2.8 5.3 .9 3 .1 1.4-.4 2-.8 1.2-1.5 1.3-2.3 .7-1.4-.1-1.5-.4-2.3-1.4-2.2-2.5-1.8-3.8-2.3-8.2-3.7-5.3-.2-1.5 .3-.7zM28.6 126.2l2.2 .3 2.2 1.1 1.4 1.7 .4 1.5-.4 1.5-1 1.5-1.8 1.2-2.3 .5-3-.4 0-8.3z" fill="#b55b53" fill-rule="evenodd"/>
<path d="M84 119.4l3-.3 3 .2 2.3 1.2 1.7 2.1 1 2.2 1.5 5.2 2.5 5 .8 2.6 0 1.4-.4 1.6-1.1 1.4-.7 .5-2.3 .6-2.3-.5-2.2-1.5-1.6-2.1-1.4-3-2.3-8.2-1.2-2.2-1.8-2.3-.7-1.5 .1-.8 .4-.7zM27.1 126.8l1.5-.2 2.2 .2 1.5 .7 1.1 1.1 .8 1.4 0 1.6-.7 1.4-.7 .8-1.2 .8-2.3 .6-1.5 0-1.5-.4 0-7.7z" fill="#af5251" fill-rule="evenodd"/>
<path d="M86.3 120.2l2.3-.2 2.2 .4 1.5 .9 1.5 2 .7 2.3 1.1 5.2 2.8 6 .1 1.5-.2 1.2-.6 1.1-.9 .7-1.5 .5-2.3-.5-1.9-1.5-1.5-2.2-3.3-10.2-2.5-4.8-.1-.8 .4-.8zM27.8 127l2.2 0 1.6 .5 1.3 1.1 .9 1.4 0 1.6-.8 1.4-.8 .8-1.4 .8-2.2 .3-2.3-.5 0-6.9z" fill="#a94950" fill-rule="evenodd"/>
<path d="M88.5 121l1.5 0 1.6 .6 .9 .9 .9 1.5 .6 2.3 .4 5.3 2.1 4.4 .3 1.6-.4 1.4-1.1 .9-1.5-.1-.8-.3-1.4-1.5-4.5-11-.9-3-.1-1.4 .5-.8zM27 127.5l1.6-.3 1.4 .1 2.4 1.3 .6 .9 .4 1.3-.4 1.5-.7 1-1.5 .9-1.5 .4-1.5 0-1.5-.6 0-6.2z" fill="#a24050" fill-rule="evenodd"/>
<path d="M88.6 122.2l1.4-.3 1.5 .7 .8 .8 .7 1.4 .3 2.2-.2 2.1-.8 1.8-.7 .5-.8-.3-1.5-1.6-1.5-3.2-.3-1.5 .1-1.5zM27.8 127.6l1.5-.1 1.1 .3 1.2 .6 .9 .9 .3 .7 .1 1.6-.9 1.4-1.2 .9-2.2 .4-2.3-.6 0-5.5z" fill="#9b3850" fill-rule="evenodd"/>
<path d="M90 123.1l.8 .1 .8 .6 .7 1.8-.2 2.2-.5 .8-.8 .1-.8-.3-.7-1-.7-1.9 .2-1.5 .5-.7zM27 128.2l2.3-.3 1.5 .5 .8 .5 .7 1 .2 .9-.2 1-.7 1.1-2.3 1-1.5 0-1.5-.7 0-4.5z" fill="#933050" fill-rule="evenodd"/>
<path d="M27.8 128.4l2.2 .1 1.6 1 .4 1.3-.1 .8-1.2 1.4-2.1 .6-1.6-.4-.7-.5 0-3.5z" fill="#8b2a50" fill-rule="evenodd"/>
<path d="M27 129.1l1.6-.5 2.1 .7 .8 1.5-.6 1.5-1.6 .9-1.5-.1-.8-.4-.7-.7 0-2.1z" fill="#812450" fill-rule="evenodd"/>
<path d="M27.8 129.3l1.5-.1 1.3 .8 .3 .8-.1 .8-.7 .7-1.5 .4-1.6-.6-.4-1.3 .2-.8z" fill="#761f4f" fill-rule="evenodd"/>
<path d="M27.8 130l.8-.2 1.1 .2 .4 .8-.2 .8-1.3 .5-.8-.2-.5-1.1z" fill="#6c1b4e" fill-rule="evenodd"/>
<path d="M35.3 117.3l36.4 0 1.6 12 1.3 5.3 1.9 3.7 5.3 7.5 2.7 4.5 1.7 4.5 .7 3.8-38.8 0 1.4-5.3 2.1-5.3 2.1-3.7 4.7-6.7 .7-2.3-.3-1.5-1-1.4-1.5-.9-7.5-.8-3-1.5-5.2-4.3-3.2-3.1-2.1-3-.5-1.5zM27 141.2l6.8-.6 2.2 .2 1.5 .5 1 .7 .4 .8 .1 1.5-.4 1.5-1.8 2.6-3 2.3-3.8 1.5-3.7 .3 0-11.2z" fill="#ddd9e0" fill-rule="evenodd"/>
<path d="M37.6 117.3l33.5 0 .6 3 1.2 9.7 1.1 4.6 1.8 3.7 5.4 7.5 2.6 4.5 1.4 4.5 0 3.8-35.7 0 .5-4.6 1.5-4.4 2.5-4.8 5.3-7.2 .7-2.3-.2-1.5-.8-1.5-2-1.4-8.2-1.2-2.2-1-3-2-4.1-3.4-1.7-2.3-.8-2.2 .2-1.5zM31.6 141.3l3 0 2.2 .8 .8 .7 .4 1.5-.7 2.3-2 2.1-3 1.6-3 .4-3-.6 0-8z" fill="#d6d7dd" fill-rule="evenodd"/>
<path d="M39 117.3l31.5 0 .7 3 1 9 1 4.5 2 4.5 5.5 7.5 2.4 4.5 .7 2.3 .4 2.2-.1 2.2-.4 1.6-33 0-.1-3.8 1.5-5.2 2.4-4.6 5.5-7.2 .7-1.8-.1-2.2-1.2-2.2-1.6-1.2-2.2-.6-6.8-.9-3-1.4-3-2-2.6-2.2-1.6-2.3-.4-2.2 .6-1.5zM30 142l3.8 0 2.2 .9 .6 .7 .2 1.4-1.2 2.3-2.2 1.5-2.6 .7-2.2-.2-2.3-1.1 0-5z" fill="#cdd3d8" fill-rule="evenodd"/>
<path d="M39.8 117.7l.3-.4 29.8 0 1 3.7 1 9.8 1.2 4.5 2 3.7 5.5 7.6 2.1 4.4 .6 3.8-.3 2.2-.6 1.6-30.4 0-.5-1.6-.1-2.2 1-4.5 1.3-3 1.4-2.3 4.4-5.2 1.3-1.9 .7-2.6-.3-2.3-1.2-1.8-1.4-1.2-2.3-.7-7.5-1.2-2.2-.8-3-1.8-2.7-2.2-1.5-2.3-.3-1.4zM30.8 142.7l2.6 .1 1.2 .4 .7 .7 .3 1.1-.2 .8-1.3 1.5-1.8 .8-2.3 .2-1.4-.4-1.7-1.3-.2-1.6 .3-.7 1.6-1z" fill="#c2ced4" fill-rule="evenodd"/>
<path d="M41.3 117.3l28 0 1.2 3.7 .9 9.8 1.2 4.5 1.9 3.7 5.5 7.6 2 4.4 .4 3.8-.5 2.3-.8 1.5-27.9 0-.7-1.6-.4-2.2 .2-2.2 .6-2.3 1-2.3 1.7-2.7 5.7-7 .9-2.3-.2-3-1.4-2.2-2-1.4-2.3-.7-7.5-1.2-3-1.2-3-1.9-1.9-1.8-.8-1.6-.1-1.4 .2-.8zM30 144l1.6-.3 1.4 .3 .6 .3 .3 .7-.2 .8-.8 .8-1.3 .4-2.1-.4-.7-.8 0-.8 .6-.7z" fill="#b5c7cf" fill-rule="evenodd"/>
<path d="M42 117.6l.4-.3 26.3 0 .8 1.5 .6 2.2 .7 9.8 1.2 4.5 1.9 3.7 5.5 7.6 1.2 2.2 .8 2.2 .3 2.3-.1 1.5-.6 2-1 1.8-25.6 0-.9-1.6-.6-2.2 0-2.2 .6-2.3 2.2-4.5 5.4-6 1-1.5 .8-2.3-.2-3-1.2-2.2-2.2-1.7-2.3-.8-8.2-1.4-3-1.2-2.2-1.3-2-1.8-.8-1.6 0-1.5z" fill="#a9c1cb" fill-rule="evenodd"/>
<path d="M42.8 117.8l.7-.5 24.5 0 1 1.5 .7 2.2 .5 9.8 1.1 4.5 1.9 3.7 5.7 7.6 1.7 3.7 .4 2.3-.1 2.2-.9 2.2-1.2 1.6-23.2-.1-1.1-1.5-.9-2.2 0-2.2 .4-2.3 1-2.3 1.3-2.2 5.5-6 1-1.5 .8-2.3-.2-3-.6-1.4-1.2-1.6-2.2-1.4-2.4-.8-8.2-1.4-3-1.2-1.9-1.2-1.7-1.4-.7-1.6 0-1.5z" fill="#9dbac8" fill-rule="evenodd"/>
<path d="M43.5 118l1.1-.7 23 .2 1.2 2.1 .6 2.2 .2 9 1 4.5 2 3.7 5.7 7.6 1.7 3.7 .4 2.3-.3 2.2-1 2.2-1.4 1.6-20.9 0-.8-.8-1-1.5-.6-1.5-.2-2.2 .4-2.3 .9-2.3 1.4-2.2 5.1-5.2 1.6-2.3 .8-2.3-.2-3-.6-1.4-1.1-1.6-2.5-1.7-3-1-8.2-1.4-2.2-.8-2.3-1.3-1.4-1.2-.8-1.6 .1-1.4z" fill="#92b3c6" fill-rule="evenodd"/>
<path d="M45 117.6l.7-.3 21 0 .7 .7 1.2 2.3 .5 2.3-.3 8.2 .6 3.8 2.5 4.4 5.9 7.6 1.6 3.7 .3 2.3-.3 2.2-1.3 2.2-1.5 1.6-18.6 0-1.7-1.7-.9-1.3-.6-2.3 .1-1.5 .5-2.2 1.1-2.3 1.3-1.9 5-4.8 1.6-2.3 1-3-.2-2.3-.7-1.4-1.1-1.6-1.8-1.4-1.4-.8-3.2-.9-8.2-1.5-2.2-.8-2.3-1.3-1.3-1.5-.3-1.5 .8-1.5z" fill="#87abc4" fill-rule="evenodd"/>
<path d="M45.8 117.8l1.3-.5 18.8 0 1.9 2.3 .8 3-.2 4.4-1.1 4.6-.5 .6-3.1-2.9-3.7-2.1-3-.8-7.4-1.2-2.3-.7-2.2-1.2-1.4-1.5-.3-1.5 .9-1.5zM67.6 134.7l8 9.6 2 3 1.4 3.7 0 2.3-.4 1.5-1.3 2.2-1.8 1.6-16.3 0-2.2-1.9-1.1-1.9-.5-2.2 .5-3 1.9-3.4 6.5-6.4 1.5-2.2 1-2.1z" fill="#7ea4c3" fill-rule="evenodd"/>
<path d="M46.6 118l2.1-.7 16.4 0 1.7 1.6 .8 1.4 .4 1.5 .1 3-.6 3-.7 1.2-.8 .4-.7-.1-3.7-2-2.3-.8-9-1.6-3-.9-2.3-1.4-.9-1.6 .4-1.5zM66.8 138.2l.8-.4 .7 0 1.5 1 5.3 5.6 1.5 2.2 1.2 2.2 .7 3-.3 2.2-1.2 2.3-2.7 2.3-13.8 0-2.7-2.1-1.5-2.5-.2-3 .7-2.2 .8-1.5 1.8-2.3z" fill="#769cc1" fill-rule="evenodd"/>
<path d="M48 118l2.9-.7 13.1 0 2.1 1.5 1.3 2.2 .3 3-.9 3-.8 .9-1.4 0-5.3-1.9-9-1.6-3-.9-1.5-.9-.7-.8-.2-1.5 1.4-1.5zM66.8 139.6l.8-.3 1.4 .2 2.3 1.6 4.3 4.7 1.9 3.8 .4 3-.7 2.2-1.8 2.2-2.5 1.6-11 0-1.9-1-1.4-1.3-1.6-2.3-.3-1.4 0-1.6 .4-1.4 1.1-2.3 2.6-2.9z" fill="#7094c0" fill-rule="evenodd"/>
<path d="M50.3 117.9l3.7-.6 8.5 0 1.3 .5 1.6 1 1.5 2.2 .3 2.3-.5 2.3-.7 .9-1.4 .5-6-1.7-7.6-1.2-3-.8-2-1.5-.4-.8 .1-.7 .6-.7 1-.7zM67.6 140.5l1.4 .1 1.6 .8 2.2 1.9 2.2 2.5 1.4 2.2 .6 1.6 .3 2.2-.2 1.5-.6 1.5-1.2 1.5-1.7 1.3-1.6 .7-.8 .3-7.5 0-2.9-1.3-2.2-2-1.1-2-.2-1.5 .2-1.5 .9-2.3 1.7-2.2 5.2-4.2z" fill="#6b8cbf" fill-rule="evenodd"/>
<path d="M52.6 118l6.7-.6 2.3 .2 2.2 .7 1.6 1.3 .9 1.4 .3 2.3-.6 1.8-.7 .7-1.5 .3-6-1.5-7.5-1.2-2.4-.8-1-.8-.4-.8 .2-.7 .6-.7 1.7-.8zM66 142l2.3-.6 1.5 .4 1.5 .9 3 3.1 1.5 2.2 .6 1.6 .2 3-.8 2-1.5 1.7-3 1.6-2.3 .5-2.2 .1-3.8-.8-3-1.7-1-1.2-.8-1.5-.3-1.5 .2-1.5 1.4-3 2.8-2.8z" fill="#6683bd" fill-rule="evenodd"/>
<path d="M57 118l4.6 .1 1.4 .5 1.6 .9 .7 1 .5 1.3 .1 1.5-.6 1.3-1.5 .7-1.5-.2-11.3-2.1-1.5-.4-1.4-.8-.4-.8 .2-.7 1-.7 2.6-.8zM66 142.8l2.3-.6 2.3 .8 3 2.6 1.9 3.2 .6 3-.7 2.2-1.8 2.1-2.3 1.2-3.7 .7-3.8-.6-3-1.6-1-1-.9-1.5-.3-2.3 .3-1.4 .8-1.6 2.6-2.8z" fill="#637abb" fill-rule="evenodd"/>
<path d="M56.3 118.7l3.7-.1 3 .7 1.3 1 .5 .7 .3 1.6-.1 .7-.4 .6-.8 .5-1.5 0-10.1-1.8-2.3-.8-.7-.8 .4-.7 1.8-.7zM66.1 143.5l2.2-.5 2.3 .8 2.4 2 2 3 .5 2.2-.4 2.3-1.5 2-2.3 1.4-3 .7-3.7-.4-3.1-1.5-1.8-2.2-.4-2.3 .3-1.4 .7-1.6 2.1-2.2z" fill="#6171b9" fill-rule="evenodd"/>
<path d="M56.3 119.5l3-.2 2.4 .3 1.3 .6 .8 .8 .2 1.5-1 1-1.4 0-8.1-1.7-1.3-.8 .8-.7zM66 144.3l2.3-.5 2.3 .7 2.2 1.9 1.5 2.4 .5 2.2-.5 2.3-1.1 1.5-1.9 1.2-3 .8-3-.2-3-1.3-1.8-2-.5-2.3 .8-2.5 2.2-2.5z" fill="#6068b6" fill-rule="evenodd"/>
<path d="M57.8 121l1.5-.6 1.5 .1 1.2 .5 .3 .8-.7 .4-1.6-.1-1.2-.3zM66 145l2.3-.4 1.5 .3 2.2 1.6 1.6 2.1 .5 1.7-.2 2.3-.9 1.4-1.7 1.3-2.3 .8-3 0-3-1.1-1.7-1.7-.6-2.3 .7-2.2 2-2.2z" fill="#5f5eb3" fill-rule="evenodd"/>
<path d="M66 145.7l2.3-.4 1.5 .4 1.5 1 1.5 1.8 .6 1.8-.1 1.5-.6 1.5-1.8 1.5-2.6 .8-3-.3-2.3-1.2-1.2-1.5-.3-1.5 .7-2.3 1.6-1.7z" fill="#5e54ae" fill-rule="evenodd"/>
<path d="M66 146.5l1.6-.4 1.4 .2 1.6 .7 1.4 1.7 .6 1.6-.1 1.5-.8 1.5-1 .7-2.4 .9-2.3-.1-1.8-.8-1.4-1.4-.5-1.6 .4-1.4 1.1-1.6z" fill="#5e4ba9" fill-rule="evenodd"/>
<path d="M66.8 147.2l1.5-.2 1.5 .5 .8 .6 .9 1.5 .2 1.4-.4 1.3-.9 1-1.4 .6-1.4 .2-1.6-.2-1.4-.7-1.1-1.4-.1-1.5 .4-.9 1.2-1.4z" fill="#5d41a3" fill-rule="evenodd"/>
<path d="M67.6 148l1.4 .3 .8 .5 .8 1.5 0 1-.8 1.1-.8 .5-1.4 .3-2.1-.6-1-1.6 .1-.7 .7-1.1 .8-.6z" fill="#5c379c" fill-rule="evenodd"/>
<path d="M66.8 150.2l.8-.4 .7 .1 .3 .4 0 .7-1 .5-.8-.3z" fill="#5a2d92" fill-rule="evenodd"/>
<polygon points="28.5,150.0 34.0,150.0 36.0,157.0 28.5,157.0" fill="url(#hp0)"/>
<polygon points="28.5,150.0 34.0,150.0 36.0,157.0 28.5,157.0" fill="url(#gd2)"/>
<polygon points="28.5,150.0 34.0,150.0 36.0,157.0 28.5,157.0" fill="url(#hc0)" mask="url(#mg2)"/>
<polygon points="86.0,150.0 96.0,150.0 95.0,155.0 86.0,155.0" fill="url(#hp0)"/>
<polygon points="86.0,150.0 96.0,150.0 95.0,155.0 86.0,155.0" fill="url(#gd2)"/>
<polygon points="86.0,150.0 96.0,150.0 95.0,155.0 86.0,155.0" fill="url(#hc0)" mask="url(#mg2)"/>
<polygon points="100.0,154.0 104.0,154.0 105.4,157.0 100.0,157.0" fill="url(#hp0)"/>
<polygon points="100.0,154.0 104.0,154.0 105.4,157.0 100.0,157.0" fill="url(#gd2)"/>
<polygon points="100.0,154.0 104.0,154.0 105.4,157.0 100.0,157.0" fill="url(#hc0)" mask="url(#mg2)"/>
<polygon points="45.0,148.0 55.0,148.0 55.0,157.0 45.0,157.0" fill="url(#hp0)"/>
<polygon points="45.0,148.0 55.0,148.0 55.0,157.0 45.0,157.0" fill="url(#gd2)"/>
<polygon points="45.0,148.0 55.0,148.0 55.0,157.0 45.0,157.0" fill="url(#hc0)" mask="url(#mg2)"/>
<polygon points="61.0,150.0 78.0,150.0 76.0,157.0 61.0,157.0" fill="url(#hp0)"/>
<polygon points="61.0,150.0 78.0,150.0 76.0,157.0 61.0,157.0" fill="url(#gd2)"/>
<polygon points="61.0,150.0 78.0,150.0 76.0,157.0 61.0,157.0" fill="url(#hc0)" mask="url(#mg2)"/>
<polygon points="62.0,153.0 74.0,153.0 73.0,157.0 62.0,157.0" fill="url(#hd0)"/>
<rect x="45.0" y="119.5" width="1.0" height="1" fill="url(#sp0)"/>
<rect x="45.0" y="122.0" width="3.5" height="1" fill="url(#sp0)"/>
<rect x="66.0" y="130.5" width="1.0" height="1" fill="url(#sp0)"/>
<rect x="62.0" y="134.0" width="6.0" height="1" fill="url(#sp0)"/>
<rect x="28.5" y="142.8" width="8.5" height="1" fill="url(#sp0)"/>
<rect x="28.5" y="144.9" width="9.5" height="1" fill="url(#sp0)"/>
<rect x="28.5" y="147.0" width="8.5" height="1" fill="url(#sp0)"/>
<rect x="44.0" y="147.0" width="6.0" height="1" fill="url(#sp0)"/>
<rect x="64.0" y="142.8" width="9.0" height="1" fill="url(#sp0)"/>
<rect x="92.0" y="142.8" width="6.0" height="1" fill="url(#sp0)"/>
<rect x="100.0" y="142.8" width="4.0" height="1" fill="url(#sp0)"/>
<rect x="64.0" y="144.9" width="8.0" height="1" fill="url(#sp0)"/>
<rect x="90.0" y="144.9" width="6.0" height="1" fill="url(#sp0)"/>
<rect x="64.0" y="147.0" width="11.0" height="1" fill="url(#sp0)"/>
<rect x="88.0" y="147.0" width="8.0" height="1" fill="url(#sp0)"/>
<rect x="96.0" y="138.2" width="8.0" height="1" fill="url(#sp0)"/>
</g>
<rect x="28.3" y="119.3" width="77.10" height="37.70" fill="none" stroke="#777" stroke-width="0.7"/>
<line x1="26.30" y1="119.30" x2="28.3" y2="119.30" stroke="#444" stroke-width="0.55"/>
<line x1="26.30" y1="134.12" x2="28.3" y2="134.12" stroke="#444" stroke-width="0.55"/>
<line x1="26.30" y1="148.93" x2="28.3" y2="148.93" stroke="#444" stroke-width="0.55"/>
<line x1="27.10" y1="153.38" x2="28.3" y2="153.38" stroke="#444" stroke-width="0.55"/>
<line x1="26.30" y1="157.00" x2="28.3" y2="157.00" stroke="#444" stroke-width="0.55"/>
<line x1="28.30" y1="157.00" x2="28.30" y2="158.70" stroke="#444" stroke-width="0.55"/>
<line x1="45.43" y1="157.00" x2="45.43" y2="158.70" stroke="#444" stroke-width="0.55"/>
<line x1="62.57" y1="157.00" x2="62.57" y2="158.70" stroke="#444" stroke-width="0.55"/>
<line x1="79.70" y1="157.00" x2="79.70" y2="158.70" stroke="#444" stroke-width="0.55"/>
<line x1="96.83" y1="157.00" x2="96.83" y2="158.70" stroke="#444" stroke-width="0.55"/>
<text x="17.4" y="116.70" class="lb">C6a)</text>
<clipPath id="c21"><rect x="124.2" y="119.3" width="77.40" height="37.70"/></clipPath>
<rect x="124.2" y="119.3" width="77.40" height="37.70" fill="#e2d9e2"/>
<g clip-path="url(#c21)">
</g>
<rect x="124.2" y="119.3" width="77.40" height="37.70" fill="none" stroke="#777" stroke-width="0.7"/>
<line x1="122.20" y1="119.30" x2="124.2" y2="119.30" stroke="#444" stroke-width="0.55"/>
<line x1="122.20" y1="134.12" x2="124.2" y2="134.12" stroke="#444" stroke-width="0.55"/>
<line x1="122.20" y1="148.93" x2="124.2" y2="148.93" stroke="#444" stroke-width="0.55"/>
<line x1="123.00" y1="153.38" x2="124.2" y2="153.38" stroke="#444" stroke-width="0.55"/>
<line x1="122.20" y1="157.00" x2="124.2" y2="157.00" stroke="#444" stroke-width="0.55"/>
<line x1="124.20" y1="157.00" x2="124.20" y2="158.70" stroke="#444" stroke-width="0.55"/>
<line x1="141.40" y1="157.00" x2="141.40" y2="158.70" stroke="#444" stroke-width="0.55"/>
<line x1="158.60" y1="157.00" x2="158.60" y2="158.70" stroke="#444" stroke-width="0.55"/>
<line x1="175.80" y1="157.00" x2="175.80" y2="158.70" stroke="#444" stroke-width="0.55"/>
<line x1="193.00" y1="157.00" x2="193.00" y2="158.70" stroke="#444" stroke-width="0.55"/>
<text x="113.2" y="116.70" class="lb">C7a)</text>
<clipPath id="c22"><rect x="219.9" y="119.3" width="77.70" height="37.70"/></clipPath>
<rect x="219.9" y="119.3" width="77.70" height="37.70" fill="#e2d9e2"/>
<g clip-path="url(#c22)">
<path d="M278.6 117.9l1.4-.6 18.9 0 0 8-3 2.3-3.7 2.1-3.8 1.7-3.8 1.2-4.4 1-3.8 .4-3-.1-3-.7-1.7-.9-1.3-1.5-.3-2.2 .8-2.3 1.7-2.3 2.5-2.2 2.8-1.9z" fill="#e1d7dc" fill-rule="evenodd"/>
<polygon points="254.0,157.5 254.2,155.1 254.7,152.7 255.6,150.6 256.8,148.9 258.2,147.6 259.8,146.8 261.5,146.5 263.2,146.8 264.8,147.6 266.2,148.9 267.4,150.6 268.3,152.7 268.8,155.1 269.0,157.5" fill="url(#hp2)"/>
<polygon points="254.0,157.5 254.2,155.1 254.7,152.7 255.6,150.6 256.8,148.9 258.2,147.6 259.8,146.8 261.5,146.5 263.2,146.8 264.8,147.6 266.2,148.9 267.4,150.6 268.3,152.7 268.8,155.1 269.0,157.5" fill="url(#gd2)"/>
<polygon points="254.0,157.5 254.2,155.1 254.7,152.7 255.6,150.6 256.8,148.9 258.2,147.6 259.8,146.8 261.5,146.5 263.2,146.8 264.8,147.6 266.2,148.9 267.4,150.6 268.3,152.7 268.8,155.1 269.0,157.5" fill="url(#hc2)" mask="url(#mg2)"/>
<polygon points="255.5,157.5 255.6,155.9 256.0,154.5 256.7,153.1 257.6,152.0 258.6,151.2 259.8,150.7 261.0,150.5 262.2,150.7 263.4,151.2 264.4,152.0 265.3,153.1 266.0,154.5 266.4,155.9 266.5,157.5" fill="url(#hd2)"/>
<rect x="247.0" y="119.7" width="1.0" height="1" fill="url(#sp2)"/>
<rect x="250.0" y="119.7" width="12.0" height="1" fill="url(#sp2)"/>
<rect x="249.0" y="121.7" width="3.0" height="1" fill="url(#sp2)"/>
<rect x="253.0" y="121.7" width="9.0" height="1" fill="url(#sp2)"/>
<rect x="255.0" y="123.6" width="3.0" height="1" fill="url(#sp2)"/>
<rect x="223.0" y="128.0" width="3.0" height="1" fill="url(#sp2)"/>
<rect x="226.0" y="133.1" width="14.0" height="1" fill="url(#sp2)"/>
<rect x="239.0" y="131.2" width="1.0" height="1" fill="url(#sp2)"/>
<rect x="255.0" y="133.1" width="6.0" height="1" fill="url(#sp2)"/>
<rect x="250.0" y="142.5" width="11.0" height="1" fill="url(#sp2)"/>
<rect x="249.0" y="144.9" width="13.0" height="1" fill="url(#sp2)"/>
<rect x="253.0" y="146.5" width="9.0" height="1" fill="url(#sp2)"/>
<rect x="230.0" y="146.2" width="1.0" height="1" fill="url(#sp2)"/>
<rect x="236.0" y="146.2" width="2.0" height="1" fill="url(#sp2)"/>
<rect x="269.0" y="142.9" width="7.0" height="1" fill="url(#sp2)"/>
</g>
<rect x="219.9" y="119.3" width="77.70" height="37.70" fill="none" stroke="#777" stroke-width="0.7"/>
<line x1="217.90" y1="119.30" x2="219.9" y2="119.30" stroke="#444" stroke-width="0.55"/>
<line x1="217.90" y1="134.12" x2="219.9" y2="134.12" stroke="#444" stroke-width="0.55"/>
<line x1="217.90" y1="148.93" x2="219.9" y2="148.93" stroke="#444" stroke-width="0.55"/>
<line x1="218.70" y1="153.38" x2="219.9" y2="153.38" stroke="#444" stroke-width="0.55"/>
<line x1="217.90" y1="157.00" x2="219.9" y2="157.00" stroke="#444" stroke-width="0.55"/>
<line x1="219.90" y1="157.00" x2="219.90" y2="158.70" stroke="#444" stroke-width="0.55"/>
<line x1="237.17" y1="157.00" x2="237.17" y2="158.70" stroke="#444" stroke-width="0.55"/>
<line x1="254.43" y1="157.00" x2="254.43" y2="158.70" stroke="#444" stroke-width="0.55"/>
<line x1="271.70" y1="157.00" x2="271.70" y2="158.70" stroke="#444" stroke-width="0.55"/>
<line x1="288.97" y1="157.00" x2="288.97" y2="158.70" stroke="#444" stroke-width="0.55"/>
<text x="208.9" y="116.70" class="lb">C8a)</text>
<clipPath id="c23"><rect x="315.5" y="119.3" width="78.00" height="37.70"/></clipPath>
<rect x="315.5" y="119.3" width="78.00" height="37.70" fill="#e2d9e2"/>
<g clip-path="url(#c23)">
<path d="M372.8 130.8l4.4-.5 4.6 .8 1.4 .6 2.1 1.3 1.3 1.6 .9 1.4 .5 1.6 .4 2.2-.3 2.2-.4 1.6-.8 1.4-1.4 1.9-1.5 1.3-2.2 1.4-2.3 .9-3 .6-3 0-3-.6-2.4-.9-2.3-1.6-1.6-1.4-1.5-2.3-.8-2.3 0-1.4 .3-1.6 .8-1.4 2.1-2.3 2.8-2.3 2.6-1.4z" fill="#e1d7dc" fill-rule="evenodd"/>
<path d="M314.2 117.3l65.7 0 3.9 1.5 1 .8 .5 .7-.2 .7-.8 .8-1.5 .8-13 3.7-9.8 5.1-2.2 .6-3 .2-2.3-.3-6.7-2.4-3-.5-24-.7-5.3-.6 0-10.4z" fill="#ddd9e0" fill-rule="evenodd"/>
<path d="M314.2 117.3l50 0 4 1.6 1.6 1.4 .2 .7-.3 .8-1.5 1.5-6 4-3.7 1.5-3 .3-2.3-.4-6-1.9-3.7-.7-16.5-.7-8.2 .4-4.6-.8-.7-.2 0-7.5z" fill="#d6d7dd" fill-rule="evenodd"/>
<path d="M317.3 118l2.9 0 6.8 1.1 9-.6 20.2-.6 3 .4 3 1 1.5 1 .5 .7 .1 .8-.7 1.5-2.1 1.8-2.3 1.2-2.2 .4-3-.2-6.8-2-4.4-.7-15.8-.9-6.8 1.1-2.2 0-2.8-.7-1.7-1.4 0-1.8 .4-.5 1.1-.8z" fill="#cdd3d8" fill-rule="evenodd"/>
<path d="M318 120l2.2 .2 .7 .8-.6 .8-.8 .2-2-.2-.6-.8 .4-.7zM351.8 120.2l3-.3 2.9 .4 1.6 .7 .5 .8-.1 .8-.5 .7-1.4 .8-2.3 .3-1.9-.4-2-.7-2.1-1.5 .1-.8z" fill="#c2ced4" fill-rule="evenodd"/>
<polygon points="369.0,146.0 374.0,146.0 378.0,150.0 381.0,151.0 381.0,157.0 372.0,157.0 370.0,151.0" fill="url(#hp3)"/>
<polygon points="373.5,152.0 377.0,152.0 378.0,157.0 373.5,157.0" fill="url(#hd3)"/>
<rect x="335.0" y="119.7" width="20.0" height="1" fill="url(#sp3)"/>
<rect x="331.0" y="121.7" width="24.0" height="1" fill="url(#sp3)"/>
<rect x="333.0" y="123.6" width="22.0" height="1" fill="url(#sp3)"/>
<rect x="339.0" y="128.0" width="13.0" height="1" fill="url(#sp3)"/>
<rect x="323.0" y="137.8" width="4.0" height="1" fill="url(#sp3)"/>
<rect x="324.0" y="144.9" width="3.0" height="1" fill="url(#sp3)"/>
<rect x="333.0" y="144.9" width="7.0" height="1" fill="url(#sp3)"/>
<rect x="343.0" y="144.9" width="10.0" height="1" fill="url(#sp3)"/>
<rect x="344.0" y="146.5" width="11.0" height="1" fill="url(#sp3)"/>
<rect x="348.0" y="148.1" width="7.0" height="1" fill="url(#sp3)"/>
<rect x="318.0" y="147.0" width="1.0" height="1" fill="url(#sp3)"/>
<rect x="318.0" y="149.5" width="3.0" height="1" fill="url(#sp3)"/>
<rect x="350.0" y="150.5" width="1.0" height="1" fill="url(#sp3)"/>
<rect x="381.0" y="132.6" width="12.0" height="1" fill="url(#sp3)"/>
<rect x="390.0" y="131.0" width="1.0" height="1" fill="url(#sp3)"/>
<rect x="362.0" y="137.8" width="2.0" height="1" fill="url(#sp3)"/>
<rect x="391.0" y="137.8" width="2.0" height="1" fill="url(#sp3)"/>
<rect x="367.0" y="142.5" width="6.0" height="1" fill="url(#sp3)"/>
<rect x="369.0" y="144.9" width="7.0" height="1" fill="url(#sp3)"/>
<rect x="370.0" y="146.5" width="7.0" height="1" fill="url(#sp3)"/>
</g>
<rect x="315.5" y="119.3" width="78.00" height="37.70" fill="none" stroke="#777" stroke-width="0.7"/>
<line x1="313.50" y1="119.30" x2="315.5" y2="119.30" stroke="#444" stroke-width="0.55"/>
<line x1="313.50" y1="134.12" x2="315.5" y2="134.12" stroke="#444" stroke-width="0.55"/>
<line x1="313.50" y1="148.93" x2="315.5" y2="148.93" stroke="#444" stroke-width="0.55"/>
<line x1="314.30" y1="153.38" x2="315.5" y2="153.38" stroke="#444" stroke-width="0.55"/>
<line x1="313.50" y1="157.00" x2="315.5" y2="157.00" stroke="#444" stroke-width="0.55"/>
<line x1="315.50" y1="157.00" x2="315.50" y2="158.70" stroke="#444" stroke-width="0.55"/>
<line x1="332.83" y1="157.00" x2="332.83" y2="158.70" stroke="#444" stroke-width="0.55"/>
<line x1="350.17" y1="157.00" x2="350.17" y2="158.70" stroke="#444" stroke-width="0.55"/>
<line x1="367.50" y1="157.00" x2="367.50" y2="158.70" stroke="#444" stroke-width="0.55"/>
<line x1="384.83" y1="157.00" x2="384.83" y2="158.70" stroke="#444" stroke-width="0.55"/>
<text x="304.7" y="116.70" class="lb">C9a)</text>
<clipPath id="c24"><rect x="411.5" y="119.3" width="78.00" height="37.70"/></clipPath>
<rect x="411.5" y="119.3" width="78.00" height="37.70" fill="#e2d9e2"/>
<g clip-path="url(#c24)">
<path d="M464.2 117.8l.9-.5 12.2 0 2.9 2.3 1 1.4 .6 1.5 .2 1.5-.3 2.3-2.9 6-.8 3 .5 9.7-.6 5.3-1.3 3.7-1.1 1.5-.7 .5-1.6 0-.7-.5-1.5-2.2-.7-2.3-.7-4.4 .2-8.3-.5-3-1.6-2.3-4.9-3.8-1.2-1.4-.6-1.5-.2-2.3 .5-2.2 1.2-2.3z" fill="#e1d7dc" fill-rule="evenodd"/>
<path d="M429 117.6l.3-.3 21.1 0 1.1 1.2 .6 1.1 .1 2.2-1.4 2.4-3 1.9-3.8 1.1-8.4 1.4-.6 .7 1.3 3 .1 2.3-.7 1.4-1.6 1.6-2.1 1-2.2 .6-2.3 .2-3-.2-3-.8-2.6-1.6-1.1-1.5-.2-1.5 .1-.8 .9-1.4 2.2-1.7 2.2-1 4.4-1.1 1.8-.8 .1-.7-1.8-3-.5-2.3 .3-1.4z" fill="#ddd9e0" fill-rule="evenodd"/>
<path d="M437.2 118.8l3-.4 3 .6 1.1 .5 .7 .8 .2 .7-.3 .8-.9 .9-2.2 .8-2.3 .1-2.3-.3-1.5-.7-.7-.8-.3-.8 .2-.7 .7-.7z" fill="#d6d7dd" fill-rule="evenodd"/>
<polygon points="413.0,147.0 417.0,147.0 420.0,149.0 420.0,151.5 416.0,151.0 413.0,150.0" fill="url(#hp4)"/>
<polygon points="413.0,147.0 417.0,147.0 420.0,149.0 420.0,151.5 416.0,151.0 413.0,150.0" fill="url(#gd2)"/>
<polygon points="413.0,147.0 417.0,147.0 420.0,149.0 420.0,151.5 416.0,151.0 413.0,150.0" fill="url(#hc4)" mask="url(#mg2)"/>
<polygon points="419.0,150.0 421.5,150.0 425.0,153.0 426.0,155.5 423.5,155.5" fill="url(#hp4)"/>
<polygon points="419.0,150.0 421.5,150.0 425.0,153.0 426.0,155.5 423.5,155.5" fill="url(#gd2)"/>
<polygon points="419.0,150.0 421.5,150.0 425.0,153.0 426.0,155.5 423.5,155.5" fill="url(#hc4)" mask="url(#mg2)"/>
<polygon points="431.0,148.0 438.0,148.0 437.0,153.0 435.0,155.0 433.0,154.0 432.0,151.0" fill="url(#hp4)"/>
<polygon points="431.0,148.0 438.0,148.0 437.0,153.0 435.0,155.0 433.0,154.0 432.0,151.0" fill="url(#gd2)"/>
<polygon points="431.0,148.0 438.0,148.0 437.0,153.0 435.0,155.0 433.0,154.0 432.0,151.0" fill="url(#hc4)" mask="url(#mg2)"/>
<polygon points="445.5,157.5 445.7,155.4 446.3,153.4 447.4,151.6 448.7,150.1 450.3,148.9 452.1,148.2 454.0,148.0 455.9,148.2 457.7,148.9 459.3,150.1 460.6,151.6 461.7,153.4 462.3,155.4 462.5,157.5" fill="url(#hp4)"/>
<polygon points="445.5,157.5 445.7,155.4 446.3,153.4 447.4,151.6 448.7,150.1 450.3,148.9 452.1,148.2 454.0,148.0 455.9,148.2 457.7,148.9 459.3,150.1 460.6,151.6 461.7,153.4 462.3,155.4 462.5,157.5" fill="url(#gd2)"/>
<polygon points="445.5,157.5 445.7,155.4 446.3,153.4 447.4,151.6 448.7,150.1 450.3,148.9 452.1,148.2 454.0,148.0 455.9,148.2 457.7,148.9 459.3,150.1 460.6,151.6 461.7,153.4 462.3,155.4 462.5,157.5" fill="url(#hc4)" mask="url(#mg2)"/>
<polygon points="447.5,157.5 447.7,156.3 448.1,155.1 448.9,154.1 449.9,153.2 451.2,152.5 452.6,152.1 454.0,152.0 455.4,152.1 456.8,152.5 458.1,153.2 459.1,154.1 459.9,155.1 460.3,156.3 460.5,157.5" fill="url(#hd4)"/>
<rect x="434.0" y="119.7" width="11.0" height="1" fill="url(#sp4)"/>
<rect x="437.0" y="121.7" width="4.0" height="1" fill="url(#sp4)"/>
<rect x="413.0" y="123.6" width="5.0" height="1" fill="url(#sp4)"/>
<rect x="438.0" y="123.6" width="2.0" height="1" fill="url(#sp4)"/>
<rect x="427.0" y="130.7" width="4.0" height="1" fill="url(#sp4)"/>
<rect x="423.0" y="132.3" width="9.0" height="1" fill="url(#sp4)"/>
<rect x="420.0" y="133.5" width="14.0" height="1" fill="url(#sp4)"/>
<rect x="431.0" y="142.5" width="7.0" height="1" fill="url(#sp4)"/>
<rect x="446.0" y="142.5" width="11.0" height="1" fill="url(#sp4)"/>
<rect x="424.0" y="144.9" width="15.0" height="1" fill="url(#sp4)"/>
<rect x="444.0" y="144.9" width="16.0" height="1" fill="url(#sp4)"/>
<rect x="415.0" y="146.5" width="1.0" height="1" fill="url(#sp4)"/>
<rect x="431.0" y="146.5" width="8.0" height="1" fill="url(#sp4)"/>
<rect x="446.0" y="146.5" width="15.0" height="1" fill="url(#sp4)"/>
<rect x="464.0" y="142.5" width="3.0" height="1" fill="url(#sp4)"/>
<rect x="464.0" y="144.9" width="3.0" height="1" fill="url(#sp4)"/>
<rect x="465.0" y="146.5" width="2.0" height="1" fill="url(#sp4)"/>
</g>
<rect x="411.5" y="119.3" width="78.00" height="37.70" fill="none" stroke="#777" stroke-width="0.7"/>
<line x1="409.50" y1="119.30" x2="411.5" y2="119.30" stroke="#444" stroke-width="0.55"/>
<line x1="409.50" y1="134.12" x2="411.5" y2="134.12" stroke="#444" stroke-width="0.55"/>
<line x1="409.50" y1="148.93" x2="411.5" y2="148.93" stroke="#444" stroke-width="0.55"/>
<line x1="410.30" y1="153.38" x2="411.5" y2="153.38" stroke="#444" stroke-width="0.55"/>
<line x1="409.50" y1="157.00" x2="411.5" y2="157.00" stroke="#444" stroke-width="0.55"/>
<line x1="411.50" y1="157.00" x2="411.50" y2="158.70" stroke="#444" stroke-width="0.55"/>
<line x1="428.83" y1="157.00" x2="428.83" y2="158.70" stroke="#444" stroke-width="0.55"/>
<line x1="446.17" y1="157.00" x2="446.17" y2="158.70" stroke="#444" stroke-width="0.55"/>
<line x1="463.50" y1="157.00" x2="463.50" y2="158.70" stroke="#444" stroke-width="0.55"/>
<line x1="480.83" y1="157.00" x2="480.83" y2="158.70" stroke="#444" stroke-width="0.55"/>
<text x="400.5" y="116.70" class="lb">C10a)</text>
<clipPath id="c30"><rect x="28.3" y="171.4" width="77.10" height="37.90"/></clipPath>
<rect x="28.3" y="171.4" width="77.10" height="37.90" fill="#e2d9e2"/>
<g clip-path="url(#c30)">
<path d="M36.8 182.8l5.2-.2 1.6 .2 1.4 .6 1.6 1.3 4.4 5.5 1.6 1.2 1.4 .6 1.6 0 7.4-1.4 3.8 0 5.2 .9 5.3 2.1 1.5 .9 1.5 1.5 .8 1.2 .9 2.2 .4 2.2 0 2.3-.4 2.3-1 2.1-2.2 2.3-18 0-2.2-1.5-2.2-2.2-3.8-6.4-1.6-1.2-2.2-.2-6 .9-3.8 .1-3.7-.7-3-1.4-3-2.4-1.4-2.2-.8-3 .3-2.2 1.3-2.3 2.1-1.5 2-.8z" fill="#e1d7dc" fill-rule="evenodd"/>
<path d="M67.6 195.6l3-.1 2.2 .5 2.2 1.2 1.5 1.4 .7 1.6 0 2.2-.6 1.5-1.4 1.5-1.6 .9-1.6 .5-3 .2-3-.8-1.4-.9-1.4-1.4-1-2.3 0-1.4 .5-1.6 1.9-1.9z" fill="#ded3d4" fill-rule="evenodd"/>
<path d="M27 169.4l80.3 0 0 17.8-3 3.5-1.5 2.4-1 2.5-2.3 9-1.2 3-1.5 2.4-.6 .6-7.4 .1-1-1.8-.7-2-2-8.3-1.1-2.9-1.4-2.4-2.3-2-9.1-4.7-5.2-3-4.4-1.6-1.6-.2-1.4 .3-1.6 .9-2.3 2.2-2.1 .7-1.6-.5-.7-.5-3.7-4.1-2.3-.8-2.2 0-10.5 1-5.3 .1 0-11.7z" fill="#ddd9e0" fill-rule="evenodd"/>
<path d="M27 169.4l80.3 0 0 9.5-3.3 3.3-3.7 6-1.3 3-2.4 8.2-1.3 2.9-1.5 1.7-1.5 .5-1.5-.6-1.5-2-3-7.7-2.3-3.5-2.2-1.9-5.2-3.3-6-4.2-3-1.4-2.3-.6-3.8-.6-2.2 0-2.3 .6-3 2.8-1.4 .7-1.6-.4-3.7-3.6-2.3-.7-12 1.4-6.7-.2 0-9.9z" fill="#d6d7dd" fill-rule="evenodd"/>
<path d="M27 169.4l73.1 0 4.3 1.5 1.4 .8 .7 .7 .2 .7-.5 1.5-4.2 4.4-1.4 2.1-3.1 6.3-3.1 7.5-1.4 2-.7 .3-.8-.2-.7-.6-3.7-6-2.3-2.6-9.6-7.2-3.9-2-5.3-1.6-6-.7-3 .5-4.4 3.1-1.6-.3-3.3-2.7-1.9-.5-12 2-3.7 .2-3.8-.4 0-8.8z" fill="#cdd3d8" fill-rule="evenodd"/>
<path d="M27 169.4l14.2 0 5.4 2 1.4 .2 3-.5 2.3 0 2.4 .5 1.8 .8-.1 .8-3.6 3-1.2 .6-1.6-.3-3-2.2-1.4-.3-9.8 3.1-4.5 .6-3.7-.1-2.3-.3 0-7.9zM74.3 170.1l8.1-.7 6.6 0 4 .4 3.8 .9 2.2 .9 1.7 1.6 .2 1.4-3 5.3-3.3 7-1.6 1.9-1.4 .7-1.5-.6-7.5-6.3-6-4.2-6-2.7-8.8-2.5-.7-.8 2.4-.8z" fill="#c2ced4" fill-rule="evenodd"/>
<path d="M27 169.4l10.4 0 3.6 1.5 .9 .7 .4 .8 0 .8-.6 .7-1.9 1.3-3.8 1.3-4.4 .5-4.6-.4-.7-.2 0-7zM79.6 171.6l6.7-.6 6.1 .6 2.1 .8 1.1 .7 .9 1.5-.2 1.6-3.3 6.1-1.4 1.4-1.5 .1-2.3-1.2-11.5-8-.6-.7 .1-.7 1.1-.8z" fill="#b5c7cf" fill-rule="evenodd"/>
<path d="M27 170l3.7-.6 3.1 .1 2.2 .5 2.3 .9 1.1 .7 .4 .8 0 .8-1.4 1.4-3.1 1.2-3.7 .5-3.8-.4-1.5-.4 0-5.3zM85.6 174.5l1.4-.5 2.3 .2 1 .4 .6 .8-.1 .8-.8 .7-.7 .2-1.5-.1-1.6-.8-.8-.8z" fill="#a9c1cb" fill-rule="evenodd"/>
<path d="M31.6 170.1l2.2 .2 2.2 .7 1.1 .6 .6 .8 0 .8-.5 .7-1.1 .7-3.1 .9-3.7-.1-2.5-.8-.5-.3 0-2.9 2.3-.9z" fill="#9dbac8" fill-rule="evenodd"/>
<path d="M28.6 171.5l2.2-.5 2.2 .2 1.6 .4 .9 .8 .1 .8-.7 .7-1.9 .7-3 0-2.1-.7-.6-.7 .1-.8z" fill="#92b3c6" fill-rule="evenodd"/>
<polygon points="44.0,201.0 50.0,201.0 51.0,204.0 49.5,209.3 44.0,209.3" fill="url(#hp0)"/>
<polygon points="44.0,201.0 50.0,201.0 51.0,204.0 49.5,209.3 44.0,209.3" fill="url(#gd3)"/>
<polygon points="44.0,201.0 50.0,201.0 51.0,204.0 49.5,209.3 44.0,209.3" fill="url(#hc0)" mask="url(#mg3)"/>
<polygon points="46.5,202.0 48.0,202.0 48.0,209.3 46.5,209.3" fill="url(#hd0)"/>
<polygon points="70.0,209.3 75.0,197.0 77.0,197.0 72.0,209.3" fill="url(#hd0)"/>
<polyline points="28.5,201.2 38.0,201.2" fill="none" stroke="#333" stroke-width="0.6"/>
<polyline points="33.5,202.5 33.5,208.0 35.0,208.5" fill="none" stroke="#333" stroke-width="0.6"/>
<polyline points="39.5,207.0 40.8,205.2" fill="none" stroke="#333" stroke-width="0.6"/>
<rect x="39.0" y="190.6" width="3.0" height="1" fill="url(#sp0)"/>
<rect x="59.0" y="186.2" width="4.0" height="1" fill="url(#sp0)"/>
<rect x="38.0" y="198.5" width="8.0" height="1" fill="url(#sp0)"/>
<rect x="38.0" y="200.1" width="10.0" height="1" fill="url(#sp0)"/>
<rect x="70.0" y="190.6" width="7.0" height="1" fill="url(#sp0)"/>
<rect x="74.0" y="195.4" width="3.0" height="1" fill="url(#sp0)"/>
<rect x="75.0" y="207.0" width="1.0" height="1" fill="url(#sp0)"/>
</g>
<rect x="28.3" y="171.4" width="77.10" height="37.90" fill="none" stroke="#777" stroke-width="0.7"/>
<line x1="26.30" y1="171.40" x2="28.3" y2="171.40" stroke="#444" stroke-width="0.55"/>
<line x1="26.30" y1="186.29" x2="28.3" y2="186.29" stroke="#444" stroke-width="0.55"/>
<line x1="26.30" y1="201.19" x2="28.3" y2="201.19" stroke="#444" stroke-width="0.55"/>
<line x1="27.10" y1="205.66" x2="28.3" y2="205.66" stroke="#444" stroke-width="0.55"/>
<line x1="26.30" y1="209.30" x2="28.3" y2="209.30" stroke="#444" stroke-width="0.55"/>
<line x1="28.30" y1="209.30" x2="28.30" y2="211.00" stroke="#444" stroke-width="0.55"/>
<line x1="45.43" y1="209.30" x2="45.43" y2="211.00" stroke="#444" stroke-width="0.55"/>
<line x1="62.57" y1="209.30" x2="62.57" y2="211.00" stroke="#444" stroke-width="0.55"/>
<line x1="79.70" y1="209.30" x2="79.70" y2="211.00" stroke="#444" stroke-width="0.55"/>
<line x1="96.83" y1="209.30" x2="96.83" y2="211.00" stroke="#444" stroke-width="0.55"/>
<text x="17.4" y="167.70" class="lb">C6b)</text>
<clipPath id="c31"><rect x="124.2" y="171.4" width="77.40" height="37.90"/></clipPath>
<rect x="124.2" y="171.4" width="77.40" height="37.90" fill="#e2d9e2"/>
<g clip-path="url(#c31)">
<path d="M180 170l2.2-.3 3 .1 2.2 .6 2.7 1.2 1.9 1.6 2 2.2 1.3 2.3 .7 2.2 .3 2.3-.1 3-.9 3-1.1 2.1-1.5 1.9-2.3 1.9-2.2 1.2-2.2 .7-2.3 .4-3-.2-3-.9-2.1-1.2-1.8-1.5-1.9-2.2-1.2-2.2-.8-2.3-.3-2.3 .2-3 .6-2.2 1.3-2.5 1.5-2 2.2-1.9 2.3-1.3z" fill="#ddd9e0" fill-rule="evenodd"/>
</g>
<rect x="124.2" y="171.4" width="77.40" height="37.90" fill="none" stroke="#777" stroke-width="0.7"/>
<line x1="122.20" y1="171.40" x2="124.2" y2="171.40" stroke="#444" stroke-width="0.55"/>
<line x1="122.20" y1="186.29" x2="124.2" y2="186.29" stroke="#444" stroke-width="0.55"/>
<line x1="122.20" y1="201.19" x2="124.2" y2="201.19" stroke="#444" stroke-width="0.55"/>
<line x1="123.00" y1="205.66" x2="124.2" y2="205.66" stroke="#444" stroke-width="0.55"/>
<line x1="122.20" y1="209.30" x2="124.2" y2="209.30" stroke="#444" stroke-width="0.55"/>
<line x1="124.20" y1="209.30" x2="124.20" y2="211.00" stroke="#444" stroke-width="0.55"/>
<line x1="141.40" y1="209.30" x2="141.40" y2="211.00" stroke="#444" stroke-width="0.55"/>
<line x1="158.60" y1="209.30" x2="158.60" y2="211.00" stroke="#444" stroke-width="0.55"/>
<line x1="175.80" y1="209.30" x2="175.80" y2="211.00" stroke="#444" stroke-width="0.55"/>
<line x1="193.00" y1="209.30" x2="193.00" y2="211.00" stroke="#444" stroke-width="0.55"/>
<text x="113.2" y="167.70" class="lb">C7b)</text>
<clipPath id="c32"><rect x="219.9" y="171.4" width="77.70" height="37.90"/></clipPath>
<rect x="219.9" y="171.4" width="77.70" height="37.90" fill="#e2d9e2"/>
<g clip-path="url(#c32)">
<path d="M238.9 169.7l.4-.3 9.5 0 1.6 2.2 .6 2.3 .1 2.2-.7 4.6-1.8 3.3-1.4 1.6-1.6 .9-3 .5-3-.8-2.5-1.8-2.1-3-.7-3 0-1.5 .5-2.3 1.8-3z" fill="#e1d7dc" fill-rule="evenodd"/>
<path d="M242.6 173.1l2.3-.5 1.5 .3 1.5 1 .8 1.5 .2 2.2-.6 2.3-1.1 1.6-1.6 .9-2.2 .1-1.5-.6-1.4-1.3-.7-1.4-.1-2.3 .5-1.5 1-1.2z" fill="#ded3d4" fill-rule="evenodd"/>
<path d="M253.9 169.4l45 0 0 27.5-5.3 1.4-6 .9-6 .5-7.4 0-7.6-.5-4.4-.7-3.8-1-3.8-1.8-2.1-1.5-1.4-1.6-.7-1.4-.3-1.6 .2-2.2 2.2-9 1.1-9z" fill="#ddd9e0" fill-rule="evenodd"/>
<path d="M256.9 169.6l42-.2 0 22.6-4.5 1.7-3.8 .9-5.2 .8-5.2 .4-8.3-.1-6-.4-3.7-.7-3.8-1.4-2.2-1.5-1.6-1.4-1.1-2.1-.5-2.3 .4-4.5 1.2-6.8 1-3z" fill="#d6d7dd" fill-rule="evenodd"/>
<path d="M259.9 169.8l.7-.4 34.9 0 1.6 .8 1.8 .9 0 17.8-3.7 1.8-3.8 1.3-4.5 .9-4.5 .5-7.5 .2-7.5-.3-4.5-.8-3-1.1-2.3-1.4-1.6-1.8-1.1-2.3-.3-3 .5-4.5 1.1-3.8 1.4-2.7z" fill="#cdd3d8" fill-rule="evenodd"/>
<path d="M262.9 170.1l2.3-.7 24.2 0 4.4 1.5 2.9 1.5 2.2 1.6 0 12-3 2.1-3 1.4-4.5 1.3-4.5 .8-6.7 .3-8.3-.1-3.7-.4-3.8-1.2-2.3-1.3-2-2.3-1.1-3 0-2.9 .7-3.8 1.4-3 1.8-2z" fill="#c2ced4" fill-rule="evenodd"/>
<path d="M268.9 170.1l6.7-.5 6 .1 5.3 .7 4.5 1.3 3.8 2 2.6 2.5 1.1 2-.1 4-1.4 2.2-2.8 2.2-3.2 1.7-4.5 1.3-6 .8-9 .1-5.3-.3-3.7-.9-3-1.7-2-2.4-.5-1.6-.3-2.2 .6-3.8 1.5-2.9 2.2-2.2 3-1.4z" fill="#b5c7cf" fill-rule="evenodd"/>
<path d="M268.2 171.5l6-.5 6 0 4.4 .4 4.6 1.1 3 1.4 2.9 2.3 1.3 2.2 .3 1.5-.2 1.5-1.3 2.2-2.3 2.1-3 1.5-3.7 1.1-6 .8-8.3 .2-4.5-.3-3.8-.8-2.7-1.6-1.8-2.2-.8-3 .4-3 1.2-2.5 1.9-2 2.6-1.4z" fill="#a9c1cb" fill-rule="evenodd"/>
<path d="M271.2 172.4l6-.2 4.4 .1 3.8 .6 3 .9 3 1.6 1.7 1.5 1.1 2.3-.2 2.2-1.5 2.2-1.9 1.5-3 1.3-3 .8-5.2 .7-7.5 .2-4.5-.3-3-.7-2.3-1.2-1.9-2.3-.5-1.4-.1-1.6 .7-2.9 1.7-2.3 2.2-1.5 3.2-1z" fill="#9dbac8" fill-rule="evenodd"/>
<path d="M268.9 173.9l4.5-.4 6 0 3.8 .4 3 .7 3 1.4 1.8 1.6 .7 1.6-.2 2.2-1 1.5-2 1.5-2.3 1-3 .8-4.6 .5-7.4 .2-3.4-.3-2.6-.6-2.3-1.2-1.5-1.8-.5-1.6 .2-2.2 1.1-2.1 1.4-1.4 2.3-1.1z" fill="#92b3c6" fill-rule="evenodd"/>
<path d="M268.2 175.3l3.7-.5 4.5-.1 3.8 .2 3.2 .5 2.8 1 1.8 1.2 1 1.6 .1 1.4-.9 1.6-1.3 1-2.3 1.1-2.2 .5-3.8 .5-6 .3-3.7-.1-2.3-.4-2.2-1-1.2-1.2-.7-1.5 0-1.5 .5-1.5 1.4-1.5 1.5-.9z" fill="#87abc4" fill-rule="evenodd"/>
<path d="M268.2 176.8l3-.5 3.7-.1 3.7 .1 3 .5 2.3 .8 1.2 .8 .6 .8 .1 1.5-.5 .7-1.4 1-3.7 1.2-7.6 .5-4.4-.2-2.5-1-.8-.8-.5-1.5 .3-1.4 .6-.8 1.3-1z" fill="#7ea4c3" fill-rule="evenodd"/>
<path d="M272.6 178.4l5.3 .4 1.3 .4 .8 .7-.4 .7-1.8 .8-5.2 .6-3-.2-1.4-.7-.4-.5 .1-.7 .8-.7 .9-.4z" fill="#769cc1" fill-rule="evenodd"/>
<polygon points="256.0,197.0 297.6,197.0 297.6,209.3 290.0,209.3 289.0,207.5 287.5,207.5 286.5,209.3 286.0,209.3 284.0,205.5 280.0,204.5 275.0,204.8 272.0,206.5 271.0,209.3 264.0,209.3 262.0,205.0 259.0,203.5 256.0,203.0" fill="url(#hp2)"/>
<polygon points="256.0,197.0 297.6,197.0 297.6,209.3 290.0,209.3 289.0,207.5 287.5,207.5 286.5,209.3 286.0,209.3 284.0,205.5 280.0,204.5 275.0,204.8 272.0,206.5 271.0,209.3 264.0,209.3 262.0,205.0 259.0,203.5 256.0,203.0" fill="url(#gd3)"/>
<polygon points="256.0,197.0 297.6,197.0 297.6,209.3 290.0,209.3 289.0,207.5 287.5,207.5 286.5,209.3 286.0,209.3 284.0,205.5 280.0,204.5 275.0,204.8 272.0,206.5 271.0,209.3 264.0,209.3 262.0,205.0 259.0,203.5 256.0,203.0" fill="url(#hc2)" mask="url(#mg3)"/>
<polygon points="251.0,197.0 253.0,197.0 253.0,200.0 251.0,200.0" fill="url(#hp2)"/>
<polygon points="251.0,197.0 253.0,197.0 253.0,200.0 251.0,200.0" fill="url(#gd3)"/>
<polygon points="251.0,197.0 253.0,197.0 253.0,200.0 251.0,200.0" fill="url(#hc2)" mask="url(#mg3)"/>
<polygon points="231.0,197.0 249.0,197.0 248.5,201.0 247.0,205.0 245.5,209.3 239.0,209.3 235.0,205.0 232.0,201.0" fill="url(#hp2)"/>
<polygon points="231.0,197.0 249.0,197.0 248.5,201.0 247.0,205.0 245.5,209.3 239.0,209.3 235.0,205.0 232.0,201.0" fill="url(#gd3)"/>
<polygon points="231.0,197.0 249.0,197.0 248.5,201.0 247.0,205.0 245.5,209.3 239.0,209.3 235.0,205.0 232.0,201.0" fill="url(#hc2)" mask="url(#mg3)"/>
<polygon points="238.0,203.0 246.0,203.0 245.0,209.3 240.0,209.3" fill="url(#hd2)"/>
<rect x="236.0" y="171.9" width="2.0" height="1" fill="url(#sp2)"/>
<rect x="246.0" y="171.9" width="10.0" height="1" fill="url(#sp2)"/>
<rect x="230.0" y="174.0" width="9.0" height="1" fill="url(#sp2)"/>
<rect x="245.0" y="174.0" width="9.0" height="1" fill="url(#sp2)"/>
<rect x="227.0" y="175.9" width="12.0" height="1" fill="url(#sp2)"/>
<rect x="242.0" y="175.9" width="12.0" height="1" fill="url(#sp2)"/>
<rect x="221.0" y="180.7" width="7.0" height="1" fill="url(#sp2)"/>
<rect x="238.0" y="180.7" width="17.0" height="1" fill="url(#sp2)"/>
<rect x="225.0" y="182.8" width="6.0" height="1" fill="url(#sp2)"/>
<rect x="239.0" y="182.8" width="15.0" height="1" fill="url(#sp2)"/>
<rect x="223.0" y="185.1" width="9.0" height="1" fill="url(#sp2)"/>
<rect x="239.0" y="185.1" width="12.0" height="1" fill="url(#sp2)"/>
<rect x="223.0" y="186.3" width="9.0" height="1" fill="url(#sp2)"/>
<rect x="239.0" y="186.3" width="12.0" height="1" fill="url(#sp2)"/>
<rect x="235.0" y="191.0" width="12.0" height="1" fill="url(#sp2)"/>
<rect x="250.0" y="191.0" width="3.0" height="1" fill="url(#sp2)"/>
<rect x="221.0" y="194.8" width="2.0" height="1" fill="url(#sp2)"/>
<rect x="231.0" y="194.8" width="15.0" height="1" fill="url(#sp2)"/>
<rect x="248.0" y="194.8" width="5.0" height="1" fill="url(#sp2)"/>
<rect x="221.0" y="197.7" width="5.0" height="1" fill="url(#sp2)"/>
<rect x="256.0" y="171.9" width="41.6" height="1" fill="url(#sp2)"/>
<rect x="256.0" y="174.0" width="41.6" height="1" fill="url(#sp2)"/>
<rect x="256.0" y="175.9" width="41.6" height="1" fill="url(#sp2)"/>
<rect x="256.0" y="180.7" width="41.6" height="1" fill="url(#sp2)"/>
<rect x="256.0" y="182.8" width="41.6" height="1" fill="url(#sp2)"/>
<rect x="256.0" y="185.1" width="41.6" height="1" fill="url(#sp2)"/>
<rect x="256.0" y="186.3" width="41.6" height="1" fill="url(#sp2)"/>
<rect x="256.0" y="191.0" width="41.6" height="1" fill="url(#sp2)"/>
<rect x="256.0" y="194.8" width="41.6" height="1" fill="url(#sp2)"/>
</g>
<rect x="219.9" y="171.4" width="77.70" height="37.90" fill="none" stroke="#777" stroke-width="0.7"/>
<line x1="217.90" y1="171.40" x2="219.9" y2="171.40" stroke="#444" stroke-width="0.55"/>
<line x1="217.90" y1="186.29" x2="219.9" y2="186.29" stroke="#444" stroke-width="0.55"/>
<line x1="217.90" y1="201.19" x2="219.9" y2="201.19" stroke="#444" stroke-width="0.55"/>
<line x1="218.70" y1="205.66" x2="219.9" y2="205.66" stroke="#444" stroke-width="0.55"/>
<line x1="217.90" y1="209.30" x2="219.9" y2="209.30" stroke="#444" stroke-width="0.55"/>
<line x1="219.90" y1="209.30" x2="219.90" y2="211.00" stroke="#444" stroke-width="0.55"/>
<line x1="237.17" y1="209.30" x2="237.17" y2="211.00" stroke="#444" stroke-width="0.55"/>
<line x1="254.43" y1="209.30" x2="254.43" y2="211.00" stroke="#444" stroke-width="0.55"/>
<line x1="271.70" y1="209.30" x2="271.70" y2="211.00" stroke="#444" stroke-width="0.55"/>
<line x1="288.97" y1="209.30" x2="288.97" y2="211.00" stroke="#444" stroke-width="0.55"/>
<text x="208.9" y="167.70" class="lb">C8b)</text>
<clipPath id="c33"><rect x="315.5" y="171.4" width="78.00" height="37.90"/></clipPath>
<rect x="315.5" y="171.4" width="78.00" height="37.90" fill="#e2d9e2"/>
<g clip-path="url(#c33)">
<path d="M352.5 169.6l42.7-.2 0 25.1-3 3.4-3.7 2.8-3.7 2-4.6 1.3-4.4 .5-4.6-.3-4.4-1.2-3.8-1.7-3.7-2.7-3.1-3-2.6-3.7-2-4.5-1-4.5-.2-4.5 .7-4.5z" fill="#e1d7dc" fill-rule="evenodd"/>
<path d="M360.8 170l.4-.6 28.2 0 1.4 2.2 1 2.3 .6 2.3 .3 3-.2 3-.4 2.2-2.1 4.5-2.2 2.9-2.3 1.9-3 1.8-3.7 1.2-3 .3-3.8-.3-3-.8-3-1.6-3-2.3-1.9-2.4-1.7-3-1.2-3.7-.3-3.7 .3-3.1 .9-2.9z" fill="#ded3d4" fill-rule="evenodd"/>
<path d="M367.5 169.8l.5-.4 14.6 0 2.4 2.2 1.4 2.3 .9 2.3 .5 2.2 0 2.2-.4 2.3-.9 2.3-1.4 2.2-1.9 1.9-2.2 1.4-2.2 .9-2.3 .5-2.3 0-2.2-.4-2.2-.9-2.3-1.4-2-2-1.4-2.2-.9-2.3-.4-2.3 0-2.2 .5-2.2 .9-2.3 1.4-2.3z" fill="#dccdca" fill-rule="evenodd"/>
<path d="M372.8 172.3l3-.4 3 .8 2.2 1.7 1.6 2.5 .4 3-.7 3-1.6 2.3-2.7 1.6-3 .5-3-.7-2.2-1.6-1.1-1.4-.7-1.4-.4-3 .8-3.1 1.7-2.2z" fill="#d8c6bd" fill-rule="evenodd"/>
<polygon points="350.0,205.0 354.0,204.5 357.0,206.0 357.0,209.3 350.0,209.3" fill="url(#hp3)"/>
<polygon points="380.0,207.0 386.0,204.0 393.5,204.0 393.5,209.3 380.0,209.3" fill="url(#hp3)"/>
<polygon points="384.0,205.0 393.5,205.0 393.5,209.3 384.0,209.3" fill="url(#hp3)"/>
<polygon points="351.0,207.0 354.0,207.0 354.0,209.3 351.0,209.3" fill="url(#hd3)"/>
<polygon points="388.0,206.0 390.0,206.0 390.0,209.3 388.0,209.3" fill="url(#hd3)"/>
<rect x="317.0" y="171.5" width="7.0" height="1" fill="url(#sp3)"/>
<rect x="342.8" y="183.1" width="4.0" height="1" fill="url(#sp3)"/>
<rect x="343.0" y="185.0" width="3.0" height="1" fill="url(#sp3)"/>
<rect x="335.8" y="184.5" width="3.5" height="1" fill="url(#sp3)"/>
<rect x="336.5" y="186.0" width="1.5" height="1" fill="url(#sp3)"/>
<rect x="326.0" y="194.8" width="4.0" height="1" fill="url(#sp3)"/>
<rect x="328.0" y="197.0" width="2.0" height="1" fill="url(#sp3)"/>
<rect x="344.0" y="197.1" width="1.5" height="1" fill="url(#sp3)"/>
<rect x="345.0" y="198.8" width="1.5" height="1" fill="url(#sp3)"/>
</g>
<rect x="315.5" y="171.4" width="78.00" height="37.90" fill="none" stroke="#777" stroke-width="0.7"/>
<line x1="313.50" y1="171.40" x2="315.5" y2="171.40" stroke="#444" stroke-width="0.55"/>
<line x1="313.50" y1="186.29" x2="315.5" y2="186.29" stroke="#444" stroke-width="0.55"/>
<line x1="313.50" y1="201.19" x2="315.5" y2="201.19" stroke="#444" stroke-width="0.55"/>
<line x1="314.30" y1="205.66" x2="315.5" y2="205.66" stroke="#444" stroke-width="0.55"/>
<line x1="313.50" y1="209.30" x2="315.5" y2="209.30" stroke="#444" stroke-width="0.55"/>
<line x1="315.50" y1="209.30" x2="315.50" y2="211.00" stroke="#444" stroke-width="0.55"/>
<line x1="332.83" y1="209.30" x2="332.83" y2="211.00" stroke="#444" stroke-width="0.55"/>
<line x1="350.17" y1="209.30" x2="350.17" y2="211.00" stroke="#444" stroke-width="0.55"/>
<line x1="367.50" y1="209.30" x2="367.50" y2="211.00" stroke="#444" stroke-width="0.55"/>
<line x1="384.83" y1="209.30" x2="384.83" y2="211.00" stroke="#444" stroke-width="0.55"/>
<text x="304.7" y="167.70" class="lb">C9b)</text>
<clipPath id="c34"><rect x="411.5" y="171.4" width="78.00" height="37.90"/></clipPath>
<rect x="411.5" y="171.4" width="78.00" height="37.90" fill="#e2d9e2"/>
<g clip-path="url(#c34)">
<rect x="421.0" y="190.5" width="1.0" height="1" fill="url(#sp4)"/>
<rect x="420.0" y="194.5" width="1.0" height="1" fill="url(#sp4)"/>
<rect x="418.0" y="171.5" width="1.0" height="1" fill="url(#sp4)"/>
<rect x="441.0" y="171.5" width="1.0" height="1" fill="url(#sp4)"/>
</g>
<rect x="411.5" y="171.4" width="78.00" height="37.90" fill="none" stroke="#777" stroke-width="0.7"/>
<line x1="409.50" y1="171.40" x2="411.5" y2="171.40" stroke="#444" stroke-width="0.55"/>
<line x1="409.50" y1="186.29" x2="411.5" y2="186.29" stroke="#444" stroke-width="0.55"/>
<line x1="409.50" y1="201.19" x2="411.5" y2="201.19" stroke="#444" stroke-width="0.55"/>
<line x1="410.30" y1="205.66" x2="411.5" y2="205.66" stroke="#444" stroke-width="0.55"/>
<line x1="409.50" y1="209.30" x2="411.5" y2="209.30" stroke="#444" stroke-width="0.55"/>
<line x1="411.50" y1="209.30" x2="411.50" y2="211.00" stroke="#444" stroke-width="0.55"/>
<line x1="428.83" y1="209.30" x2="428.83" y2="211.00" stroke="#444" stroke-width="0.55"/>
<line x1="446.17" y1="209.30" x2="446.17" y2="211.00" stroke="#444" stroke-width="0.55"/>
<line x1="463.50" y1="209.30" x2="463.50" y2="211.00" stroke="#444" stroke-width="0.55"/>
<line x1="480.83" y1="209.30" x2="480.83" y2="211.00" stroke="#444" stroke-width="0.55"/>
<text x="400.5" y="167.70" class="lb">C10b)</text>
<line x1="15.5" y1="5.4" x2="15.5" y2="223.5" stroke="#858585" stroke-width="1"/>
<line x1="111.3" y1="5.4" x2="111.3" y2="223.5" stroke="#858585" stroke-width="1"/>
<line x1="207.0" y1="5.4" x2="207.0" y2="223.5" stroke="#858585" stroke-width="1"/>
<line x1="302.8" y1="5.4" x2="302.8" y2="223.5" stroke="#858585" stroke-width="1"/>
<line x1="398.6" y1="5.4" x2="398.6" y2="223.5" stroke="#858585" stroke-width="1"/>
<line x1="494.5" y1="5.4" x2="494.5" y2="223.5" stroke="#858585" stroke-width="1"/>
<line x1="5.5" y1="5.4" x2="5.5" y2="223.5" stroke="#858585" stroke-width="1"/>
<line x1="5" y1="5.4" x2="495" y2="5.4" stroke="#808080" stroke-width="1"/>
<line x1="5" y1="56.1" x2="495" y2="56.1" stroke="#a8a8a8" stroke-width="1"/>
<line x1="5" y1="110.4" x2="495" y2="110.4" stroke="#888888" stroke-width="1"/>
<line x1="5" y1="161.4" x2="495" y2="161.4" stroke="#a8a8a8" stroke-width="1"/>
<line x1="5" y1="223.5" x2="495" y2="223.5" stroke="#808080" stroke-width="1"/>
<text x="0" y="0" class="rl" transform="translate(12.3,29.0) rotate(-90)" text-anchor="middle">WCVC</text>
<text x="0" y="0" class="rl" transform="translate(12.3,79.5) rotate(-90)" text-anchor="middle">FSDC</text>
<text x="0" y="0" class="rl" transform="translate(12.3,133.8) rotate(-90)" text-anchor="middle">WCVC</text>
<text x="0" y="0" class="rl" transform="translate(12.3,184.5) rotate(-90)" text-anchor="middle">FSDC</text>
<text x="25.90" y="173.20" class="tk" text-anchor="end">1</text>
<text x="25.90" y="188.09" class="tk" text-anchor="end">10</text>
<text x="25.90" y="202.99" class="tk" text-anchor="end">100</text>
<text x="25.90" y="211.10" class="tk" text-anchor="end">350</text>
<text x="28.60" y="215.30" class="tk" text-anchor="middle">0</text>
<text x="45.73" y="215.30" class="tk" text-anchor="middle">20</text>
<text x="62.87" y="215.30" class="tk" text-anchor="middle">40</text>
<text x="80.00" y="215.30" class="tk" text-anchor="middle">60</text>
<text x="97.13" y="215.30" class="tk" text-anchor="middle">80</text>
<text x="67.2" y="221.2" class="ax" text-anchor="middle">Latitude</text>
<linearGradient id="cb" x1="0" x2="1" y1="0" y2="0">
<stop offset="0.0000" stop-color="#32123a"/><stop offset="0.0161" stop-color="#32123a"/>
<stop offset="0.0161" stop-color="#361142"/><stop offset="0.0323" stop-color="#361142"/>
<stop offset="0.0323" stop-color="#3c114b"/><stop offset="0.0484" stop-color="#3c114b"/>
<stop offset="0.0484" stop-color="#421257"/><stop offset="0.0645" stop-color="#421257"/>
<stop offset="0.0645" stop-color="#4a1566"/><stop offset="0.0806" stop-color="#4a1566"/>
<stop offset="0.0806" stop-color="#501a74"/><stop offset="0.0968" stop-color="#501a74"/>
<stop offset="0.0968" stop-color="#552081"/><stop offset="0.1129" stop-color="#552081"/>
<stop offset="0.1129" stop-color="#59288d"/><stop offset="0.1290" stop-color="#59288d"/>
<stop offset="0.1290" stop-color="#5b3196"/><stop offset="0.1452" stop-color="#5b3196"/>
<stop offset="0.1452" stop-color="#5d3ca0"/><stop offset="0.1613" stop-color="#5d3ca0"/>
<stop offset="0.1613" stop-color="#5e46a6"/><stop offset="0.1774" stop-color="#5e46a6"/>
<stop offset="0.1774" stop-color="#5e4fac"/><stop offset="0.1935" stop-color="#5e4fac"/>
<stop offset="0.1935" stop-color="#5f59b1"/><stop offset="0.2097" stop-color="#5f59b1"/>
<stop offset="0.2097" stop-color="#5f64b5"/><stop offset="0.2258" stop-color="#5f64b5"/>
<stop offset="0.2258" stop-color="#606db8"/><stop offset="0.2419" stop-color="#606db8"/>
<stop offset="0.2419" stop-color="#6276ba"/><stop offset="0.2581" stop-color="#6276ba"/>
<stop offset="0.2581" stop-color="#647ebc"/><stop offset="0.2742" stop-color="#647ebc"/>
<stop offset="0.2742" stop-color="#6887be"/><stop offset="0.2903" stop-color="#6887be"/>
<stop offset="0.2903" stop-color="#6d90c0"/><stop offset="0.3065" stop-color="#6d90c0"/>
<stop offset="0.3065" stop-color="#7398c1"/><stop offset="0.3226" stop-color="#7398c1"/>
<stop offset="0.3226" stop-color="#7aa0c2"/><stop offset="0.3387" stop-color="#7aa0c2"/>
<stop offset="0.3387" stop-color="#82a7c3"/><stop offset="0.3548" stop-color="#82a7c3"/>
<stop offset="0.3548" stop-color="#8db0c5"/><stop offset="0.3710" stop-color="#8db0c5"/>
<stop offset="0.3710" stop-color="#97b7c7"/><stop offset="0.3871" stop-color="#97b7c7"/>
<stop offset="0.3871" stop-color="#a3beca"/><stop offset="0.4032" stop-color="#a3beca"/>
<stop offset="0.4032" stop-color="#afc4cd"/><stop offset="0.4194" stop-color="#afc4cd"/>
<stop offset="0.4194" stop-color="#bbcad1"/><stop offset="0.4355" stop-color="#bbcad1"/>
<stop offset="0.4355" stop-color="#c8d0d6"/><stop offset="0.4516" stop-color="#c8d0d6"/>
<stop offset="0.4516" stop-color="#d2d5db"/><stop offset="0.4677" stop-color="#d2d5db"/>
<stop offset="0.4677" stop-color="#dad8df"/><stop offset="0.4839" stop-color="#dad8df"/>
<stop offset="0.4839" stop-color="#e0d9e2"/><stop offset="0.5000" stop-color="#e0d9e2"/>
<stop offset="0.5000" stop-color="#e2d8df"/><stop offset="0.5161" stop-color="#e2d8df"/>
<stop offset="0.5161" stop-color="#e0d6d9"/><stop offset="0.5323" stop-color="#e0d6d9"/>
<stop offset="0.5323" stop-color="#ddd0cf"/><stop offset="0.5484" stop-color="#ddd0cf"/>
<stop offset="0.5484" stop-color="#dacac3"/><stop offset="0.5645" stop-color="#dacac3"/>
<stop offset="0.5645" stop-color="#d6c1b4"/><stop offset="0.5806" stop-color="#d6c1b4"/>
<stop offset="0.5806" stop-color="#d2b8a7"/><stop offset="0.5968" stop-color="#d2b8a7"/>
<stop offset="0.5968" stop-color="#cfaf99"/><stop offset="0.6129" stop-color="#cfaf99"/>
<stop offset="0.6129" stop-color="#cda68c"/><stop offset="0.6290" stop-color="#cda68c"/>
<stop offset="0.6290" stop-color="#ca9c80"/><stop offset="0.6452" stop-color="#ca9c80"/>
<stop offset="0.6452" stop-color="#c89174"/><stop offset="0.6613" stop-color="#c89174"/>
<stop offset="0.6613" stop-color="#c6876b"/><stop offset="0.6774" stop-color="#c6876b"/>
<stop offset="0.6774" stop-color="#c37d63"/><stop offset="0.6935" stop-color="#c37d63"/>
<stop offset="0.6935" stop-color="#c0745d"/><stop offset="0.7097" stop-color="#c0745d"/>
<stop offset="0.7097" stop-color="#bb6958"/><stop offset="0.7258" stop-color="#bb6958"/>
<stop offset="0.7258" stop-color="#b75f55"/><stop offset="0.7419" stop-color="#b75f55"/>
<stop offset="0.7419" stop-color="#b25652"/><stop offset="0.7581" stop-color="#b25652"/>
<stop offset="0.7581" stop-color="#ac4d51"/><stop offset="0.7742" stop-color="#ac4d51"/>
<stop offset="0.7742" stop-color="#a64550"/><stop offset="0.7903" stop-color="#a64550"/>
<stop offset="0.7903" stop-color="#9f3c50"/><stop offset="0.8065" stop-color="#9f3c50"/>
<stop offset="0.8065" stop-color="#973450"/><stop offset="0.8226" stop-color="#973450"/>
<stop offset="0.8226" stop-color="#8f2d50"/><stop offset="0.8387" stop-color="#8f2d50"/>
<stop offset="0.8387" stop-color="#862750"/><stop offset="0.8548" stop-color="#862750"/>
<stop offset="0.8548" stop-color="#7b2150"/><stop offset="0.8710" stop-color="#7b2150"/>
<stop offset="0.8710" stop-color="#711d4f"/><stop offset="0.8871" stop-color="#711d4f"/>
<stop offset="0.8871" stop-color="#67194c"/><stop offset="0.9032" stop-color="#67194c"/>
<stop offset="0.9032" stop-color="#5c1749"/><stop offset="0.9194" stop-color="#5c1749"/>
<stop offset="0.9194" stop-color="#521545"/><stop offset="0.9355" stop-color="#521545"/>
<stop offset="0.9355" stop-color="#471340"/><stop offset="0.9516" stop-color="#471340"/>
<stop offset="0.9516" stop-color="#3e113c"/><stop offset="0.9677" stop-color="#3e113c"/>
<stop offset="0.9677" stop-color="#371139"/><stop offset="0.9839" stop-color="#371139"/>
<stop offset="0.9839" stop-color="#321237"/><stop offset="1.0000" stop-color="#321237"/>
</linearGradient>
<rect x="172.2" y="230.8" width="174.4" height="9.1" fill="url(#cb)"/>
<line x1="193.65" y1="239.8" x2="193.65" y2="241.3" stroke="#333" stroke-width="0.5"/>
<text x="193.65" y="249.1" class="ct" text-anchor="middle">-4.0</text>
<line x1="226.45" y1="239.8" x2="226.45" y2="241.3" stroke="#333" stroke-width="0.5"/>
<text x="226.45" y="249.1" class="ct" text-anchor="middle">-2.0</text>
<line x1="259.25" y1="239.8" x2="259.25" y2="241.3" stroke="#333" stroke-width="0.5"/>
<text x="259.25" y="249.1" class="ct" text-anchor="middle">0.0</text>
<line x1="292.05" y1="239.8" x2="292.05" y2="241.3" stroke="#333" stroke-width="0.5"/>
<text x="292.05" y="249.1" class="ct" text-anchor="middle">2.0</text>
<line x1="324.85" y1="239.8" x2="324.85" y2="241.3" stroke="#333" stroke-width="0.5"/>
<text x="324.85" y="249.1" class="ct" text-anchor="middle">4.0</text>
<text x="347.9" y="235.8" class="ce">1e-1</text>
<text x="259.3" y="258.2" class="cl" text-anchor="middle">Zonal mean anomaly (m s<tspan dy="-2.6" font-size="4.6">-1</tspan><tspan dy="2.6">)</tspan></text>
</svg>
</body></html>
